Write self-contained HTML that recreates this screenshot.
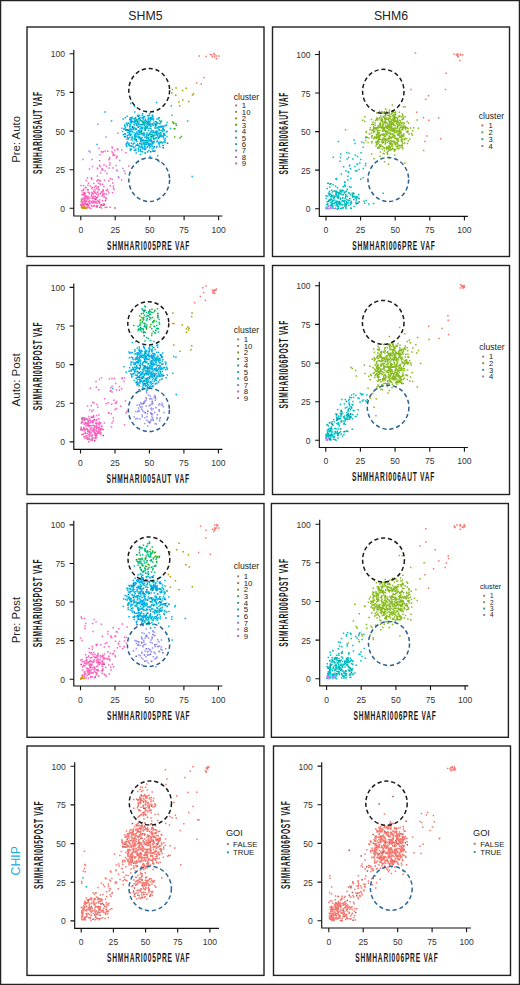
<!DOCTYPE html>
<html><head><meta charset="utf-8"><style>
html,body{margin:0;padding:0;background:#fff;}
body{width:520px;height:985px;overflow:hidden;}
svg{display:block;font-family:"Liberation Sans",sans-serif;}
.p{stroke-width:1.5;fill:none;}
</style></head><body>
<svg width="520" height="985" viewBox="0 0 520 985">
<rect x="0.6" y="0.6" width="518.8" height="983.8" fill="#fff" stroke="#222" stroke-width="1.3"/>
<g class="pts">
<rect x="27" y="27" width="237" height="229.5" fill="none" stroke="#222" stroke-width="1.4"/>
<g>
<path class="p" d="M84.2 198.9h1.5M80.1 204.8h1.5M82.8 203.8h1.5M85.1 187.6h1.5M83.4 207.8h1.5M91.6 198.3h1.5M85.8 204.4h1.5M83.7 194.6h1.5M96.3 207.1h1.5M104.7 200.5h1.5M103.8 204.7h1.5M95.1 199.2h1.5M86.6 204.1h1.5M114.1 207.9h1.5M83.4 200.9h1.5M99.1 207.3h1.5M80.8 199.9h1.5M96 205.7h1.5M102.2 205.2h1.5M98.1 201.7h1.5M84.1 193.2h1.5M102.6 190.5h1.5M87.1 189.8h1.5M90.7 201.9h1.5M94.3 199.1h1.5M99.7 193.4h1.5M95.7 197.8h1.5M100.6 204.8h1.5" stroke="#b74687"/>
<path class="p" d="M90.7 205.7h1.5M100.3 205.7h1.5M83.7 192.6h1.5M84.8 203.3h1.5M85.9 201.4h1.5M94.5 201.3h1.5M104.8 197.7h1.5M97.2 200.8h1.5M85.6 180.5h1.5M95.7 201.5h1.5M85.3 195.9h1.5M81.3 194.7h1.5M83.2 194.9h1.5M106 207.2h1.5M87.3 207.1h1.5M86.1 201.6h1.5M84.7 204.2h1.5M97.8 189.7h1.5M96 205.9h1.5M94 192.9h1.5M82.9 203.2h1.5M103.2 194.7h1.5M80.9 206.1h1.5M80.4 185.6h1.5M82.4 205.4h1.5M89.5 203.4h1.5M81.2 202.4h1.5M84 206.9h1.5M101.9 195.1h1.5M83.8 194.9h1.5M81.1 190.7h1.5M84.1 195.8h1.5M95.5 198.4h1.5M101.5 192.5h1.5M80.5 204.7h1.5M86.7 177.8h1.5M88.5 207.7h1.5M87.3 196.8h1.5M81.5 204.3h1.5M94.8 196.5h1.5M91.6 203h1.5M84.7 203.1h1.5M88.1 205.2h1.5M98.9 200h1.5M85.5 208.1h1.5M82.4 192.9h1.5M93.1 198.2h1.5M108.2 193h1.5M102.4 193.9h1.5M88.7 193.7h1.5M86.2 197.9h1.5M103.1 186.5h1.5M83.2 205.1h1.5M81.8 203.9h1.5M100.8 208h1.5M83.4 205.9h1.5M85.4 200.7h1.5M103.2 203.8h1.5M98.8 202h1.5M86.4 205.7h1.5M84.4 202h1.5M81.6 205.4h1.5M96.8 205.8h1.5M109.3 207.2h1.5M91.9 198.5h1.5M105.5 198.8h1.5M81 207.6h1.5M102.6 194.2h1.5M83.8 201.3h1.5M87.3 197.2h1.5M84.1 203.7h1.5M92.7 201.3h1.5M104.4 207.6h1.5M88.6 202.5h1.5M82.6 207.6h1.5M93.7 205.4h1.5M81.9 201.9h1.5M102 194.8h1.5M90 208.2h1.5M96.9 191.9h1.5M98.8 203.6h1.5M92.4 193.7h1.5M96.8 192.2h1.5M82.8 185.7h1.5M94.8 192.8h1.5M91.7 192.7h1.5M112.7 186.1h1.5M93.3 196.2h1.5M96.6 203.5h1.5M84 193h1.5M100.8 191.7h1.5M88.1 201.6h1.5M80.5 201.7h1.5M89 198.1h1.5M91.9 196.9h1.5M86.7 189.7h1.5M97.4 187.7h1.5M103.3 196.9h1.5M81.2 198.7h1.5M103 204.3h1.5M97.7 187.8h1.5M82.7 194.6h1.5M96.6 197.4h1.5M91.8 201.1h1.5M83.2 188.9h1.5M99.7 184.6h1.5M99.5 184h1.5M94.3 192h1.5M99.5 181h1.5M102 191h1.5M94.4 193.1h1.5M97.8 194.3h1.5M86.8 196.8h1.5M103.5 193.5h1.5M98.5 189.7h1.5M91 188.4h1.5M87.2 185.3h1.5M93 191.3h1.5M97.8 183.3h1.5M83 197.9h1.5M88.2 201.9h1.5M100.2 204.5h1.5M93.7 201.8h1.5M91.5 187.6h1.5M95.2 202.5h1.5M101.9 184.2h1.5M82.3 199.6h1.5M87.3 198.2h1.5M93.7 202.6h1.5M111.9 192.7h1.5M81.1 199h1.5M89.2 200.4h1.5M101.8 200.7h1.5M81.2 199.6h1.5M95.9 188.4h1.5M92.1 206.2h1.5M85.9 196.3h1.5M84.6 201.1h1.5M93.4 206.1h1.5M84.5 199h1.5M100.4 204.8h1.5M105.4 190.6h1.5M82 202.4h1.5M82.6 190.2h1.5M84.4 197.2h1.5M85.6 198.4h1.5M93.1 183.4h1.5M101.3 196.1h1.5M95.4 206.4h1.5M88.3 192.4h1.5M97.3 196h1.5M87.2 199.6h1.5M88.1 204.4h1.5M90.6 195.9h1.5M91.1 192.4h1.5M92.2 201h1.5M91.1 194.6h1.5M85 203.9h1.5M87.4 192.3h1.5M94.2 189.8h1.5M95.9 194.1h1.5M105.6 193.9h1.5M102 170.1h1.5M101.5 168.7h1.5M95.5 186.1h1.5M92.8 203h1.5M99.8 172.9h1.5M112.8 153.9h1.5M116.2 156.3h1.5M108.1 159.7h1.5M108 180.9h1.5M111.4 147.3h1.5M117.2 149.7h1.5M90.6 177.8h1.5M115.9 170h1.5M106.3 173.6h1.5M108.4 167.9h1.5M117.1 133.3h1.5M97.6 179.7h1.5M87.5 205.7h1.5M108.9 158.7h1.5M113.9 155.3h1.5M97.6 186.8h1.5M91.1 179.3h1.5M96.6 168.3h1.5M116.4 156.6h1.5M115.4 165.4h1.5M114 150.2h1.5M87 189.4h1.5M94.7 186.3h1.5M112.3 168.1h1.5M93.7 187.4h1.5M116.7 148.7h1.5M109.2 163.1h1.5M112.8 187.9h1.5M103.3 165h1.5M104.4 151h1.5M89.6 185.9h1.5M111.2 151.7h1.5M96.9 179.9h1.5M101.4 152.3h1.5M96.2 180.9h1.5M107.1 151.2h1.5M98.9 160.8h1.5M109.1 165.1h1.5M87.8 183.2h1.5M109.6 178.7h1.5M120.8 179.9h1.5M112.1 153h1.5M111.4 179.5h1.5M106.7 189.3h1.5M103.8 180.3h1.5M102.3 189.9h1.5M112 182.9h1.5M121 150.1h1.5M105.6 166.3h1.5M113.3 189.4h1.5M100.7 151.8h1.5M112.3 155.6h1.5M98.8 165.3h1.5M125.2 152.7h1.5M96.8 168.7h1.5M108.8 157.6h1.5M99 180.6h1.5M123.5 171.1h1.5M111.6 148h1.5M107.2 190.9h1.5M109.6 185.7h1.5M99.3 166.5h1.5M128.1 166h1.5M118 177.8h1.5M115.5 158h1.5" stroke="#FF62BC"/>
<path class="p" d="M84.1 208.2h1.5M83.8 207.7h1.5M84.1 208.3h1.5M81.2 206.8h1.5M85.7 208h1.5M83.8 207h1.5M82.8 208.2h1.5M82.6 207.8h1.5M84.8 208.2h1.5M80.8 207.2h1.5M86.4 207.7h1.5M81.8 208.3h1.5" stroke="#D89000"/>
<path class="p" d="M121 128.2h1.5M82.2 159.4h1.5M89.3 152h1.5M124.5 173.6h1.5M88.3 151.1h1.5M105.3 137.1h1.5M101.2 169.8h1.5M97.1 124.3h1.5M116.3 171.1h1.5M119 160.6h1.5M117.7 176.7h1.5M122.1 168.6h1.5M133.7 122.1h1.5M134 128.1h1.5M145 142.7h1.5M126.2 139.2h1.5M138.9 126.4h1.5M142.4 123.2h1.5M138.9 132.2h1.5M142.2 134.8h1.5M151.5 132h1.5M147.5 142.5h1.5M137.5 135h1.5M130.5 139.8h1.5M148.6 133.7h1.5M145.3 148.1h1.5M132.3 128.6h1.5" stroke="#9590FF"/>
<path class="p" d="M102.6 151.8h1.5M104.4 171h1.5M91.7 166.4h1.5M88.7 169h1.5M91.4 159.4h1.5M99.2 154.7h1.5M96.6 176.1h1.5M98.3 148.2h1.5" stroke="#E76BF3"/>
<path class="p" d="M134.7 129.1h1.5M160 136h1.5M151.6 123.9h1.5M158.3 117.8h1.5M149.4 134.3h1.5M154.8 124.1h1.5M165.2 125.6h1.5M137.7 137.3h1.5M130.3 149.3h1.5M128 123.3h1.5M137.5 116.3h1.5M130 121.7h1.5M139.1 143.2h1.5M131.6 126.7h1.5M127.4 138.9h1.5M144.1 124.9h1.5M134.4 121.1h1.5M150 128.4h1.5M134.2 139.8h1.5M145.5 111.5h1.5M150.6 119h1.5M149.6 117.9h1.5M133.4 118.7h1.5M163.1 133.4h1.5M135.6 119.7h1.5M138.2 137.7h1.5M155.1 125.4h1.5M145.9 121.6h1.5M152.4 135.9h1.5M139.5 132.8h1.5M146.1 127.5h1.5M147.6 135.3h1.5M145.9 138.4h1.5M156.7 123.1h1.5M152.7 151.3h1.5" stroke="#00898d"/>
<path class="p" d="M142.6 134.9h1.5M149.6 146.4h1.5M149.6 128.4h1.5M149.9 138.4h1.5M162.4 136.3h1.5M128.9 133.1h1.5M143 122.6h1.5M144.5 129.2h1.5M138.6 130.8h1.5M162.7 136h1.5M139.7 151.6h1.5M159.5 132.8h1.5M156.9 134.3h1.5M136.8 144.1h1.5M140.8 133.9h1.5M139.8 141.5h1.5M124 126.2h1.5M146.4 138h1.5M131.2 138.2h1.5M124.7 136.6h1.5M145.7 134.6h1.5M162.8 137.7h1.5M149.6 120.3h1.5M159 143h1.5M139.6 120.2h1.5M159.5 142.1h1.5M148.5 123.1h1.5M128.9 127h1.5M139.2 126.2h1.5M139.7 143.8h1.5M130.2 134.6h1.5M142.2 127.8h1.5M154.2 135.3h1.5M149.2 134.4h1.5M150.2 124.7h1.5M153 122.5h1.5M153.1 142.6h1.5M136.2 133.6h1.5M149.3 134.7h1.5M144 146.3h1.5M131.5 131.9h1.5M139.3 117.7h1.5M130.6 122.3h1.5M143.3 135.4h1.5M156.2 127.9h1.5M136.2 119.9h1.5M131.2 117.2h1.5M150.1 139.3h1.5M139.2 117.6h1.5M155.7 124.3h1.5M152.6 125.6h1.5M143.7 149.6h1.5M156.2 134.1h1.5M145.2 137.1h1.5M155.8 147.4h1.5M141.4 128.2h1.5M158.4 136.9h1.5M149.6 143.8h1.5M134.9 150.3h1.5M152.2 143.7h1.5M131.1 121.7h1.5M130.7 122.9h1.5M139.6 154.6h1.5M158.7 136.4h1.5M153.3 141.6h1.5M143.3 141.9h1.5M136.8 116h1.5M150.2 126.3h1.5M135.8 140h1.5M130.9 134.8h1.5M134.6 134.8h1.5M131.7 137.5h1.5M149.1 134h1.5M151.9 141.8h1.5M154 138.5h1.5M159.4 126.6h1.5M137.8 149.4h1.5M157.3 127h1.5M153.3 133.1h1.5M134.7 117.5h1.5M152.4 137.1h1.5M128 144.6h1.5M136.5 133.5h1.5M129.7 150.5h1.5M148 137.2h1.5M146.2 135.9h1.5M143.3 144h1.5M156.3 132.4h1.5M142.9 133.3h1.5M135.4 140.7h1.5M143.2 144.2h1.5M129.4 135.6h1.5M134.6 133.8h1.5M129.4 117.9h1.5M133.3 138.6h1.5M158.8 120.7h1.5M137.9 148.3h1.5M141.5 115.2h1.5M153.1 131.8h1.5M137.3 115.3h1.5M131.8 140.2h1.5M138.3 138h1.5M155.9 122.5h1.5M158.6 145.1h1.5M139.8 138.2h1.5M126.5 135.4h1.5M132.2 127.2h1.5M128.9 129.1h1.5M146.8 115.6h1.5M153.5 139.1h1.5M154.6 127h1.5M132.4 129.5h1.5M144.2 146.7h1.5M157.7 119h1.5M145.2 142.5h1.5M145.2 144.2h1.5M159.2 134.6h1.5M132.8 128.7h1.5M133.3 122.1h1.5M144.4 144.7h1.5M123.9 128.4h1.5M151.9 116.3h1.5M147.7 143.8h1.5M133.5 143.1h1.5M140.3 147.2h1.5M138.4 145.9h1.5M144 116.4h1.5M149.4 139.4h1.5M147.6 117.9h1.5M152 136.8h1.5M123.3 129h1.5M133.7 135.9h1.5M152.1 134.9h1.5M160.8 121.1h1.5M125.1 130h1.5M140.6 130.3h1.5M160.8 135.1h1.5M152.7 119.6h1.5M143.8 124.2h1.5M155.5 132.1h1.5M122.6 134.8h1.5M163.1 135.3h1.5M148.6 121.7h1.5M157.7 138.6h1.5M136.5 122.7h1.5M133.8 125.1h1.5M130.5 131.3h1.5M161.1 125.9h1.5M141.2 144.6h1.5M144.2 128.2h1.5M134.6 121.5h1.5M134.8 118.4h1.5M145.9 141.9h1.5M135.2 149.1h1.5M141 146.2h1.5M126.6 130.1h1.5M140.9 124.6h1.5M137.1 125.4h1.5M160.4 133h1.5M129.3 126.8h1.5M152.7 138.4h1.5M147.4 134.2h1.5M156.8 155.7h1.5M124.1 125.2h1.5M148.5 145h1.5M135.9 123.7h1.5M160.5 135.3h1.5M135.7 129.2h1.5M150.4 131.6h1.5M165.5 131.9h1.5M133 143.6h1.5M144.5 153h1.5M140.9 130.4h1.5M132.2 129.9h1.5M130.4 129.3h1.5M147.1 138.1h1.5M149.1 147.8h1.5M141.3 151.4h1.5M137.9 124.1h1.5M137.6 136.7h1.5M135.7 136.9h1.5M145.7 126.9h1.5M133.7 122.4h1.5M138.2 119.7h1.5M157.8 128.9h1.5M133.5 128.2h1.5M146.6 122.9h1.5M154.9 132.9h1.5M143.7 134.3h1.5M156 132.5h1.5M140.8 130.4h1.5M146.5 146.9h1.5M144.3 126.8h1.5M127.2 130h1.5M135.3 121.2h1.5M138.8 131.9h1.5M147.6 115.9h1.5M148.1 118.4h1.5M149.8 123.8h1.5M148.3 150.6h1.5M155.3 138h1.5M163.4 139.7h1.5M144 123.4h1.5M129 133.9h1.5M151.9 141.4h1.5M169.8 128.4h1.5M121.8 131.4h1.5M135.1 136.1h1.5M150.3 136.5h1.5M166.2 136.5h1.5M166.5 131.4h1.5M164.3 135.2h1.5M139.9 140h1.5M159.3 123.8h1.5M186.9 121.1h1.5M153.4 132.7h1.5M155.9 131.3h1.5M175.2 123.8h1.5M134 136.4h1.5M173.4 128.7h1.5M144.8 121.9h1.5M142 133.2h1.5M140.7 146.2h1.5M164.4 140.4h1.5M138.8 136.8h1.5M162 131.6h1.5M149.2 144h1.5M147.4 142.5h1.5M154.5 128.2h1.5M148.6 115.3h1.5M158.4 126.4h1.5M151.5 132.5h1.5M166.3 122.5h1.5M125.6 122.9h1.5M158.2 123.6h1.5" stroke="#00BFC4"/>
<path class="p" d="M128.1 130.5h1.5M137.1 121.5h1.5M144.4 130.3h1.5M136.1 125h1.5M154.1 151.1h1.5M147.5 122.3h1.5M140.9 139.9h1.5M129.1 119.8h1.5M159.9 122.1h1.5M162.5 147.7h1.5M140.5 138.5h1.5M140.7 131.6h1.5M155.2 124.7h1.5M149.9 141h1.5M166.8 143.3h1.5M159.9 136.5h1.5M129 145.6h1.5M156.7 141h1.5M137.5 127.3h1.5M157.9 137.4h1.5M160.6 126.8h1.5M135.5 139.5h1.5M131.9 127.3h1.5M151.1 134.7h1.5M126.7 129.9h1.5M130.7 120.1h1.5M142.3 140.3h1.5M150 151.8h1.5M140.6 121h1.5M135.1 129.4h1.5M150.6 136.7h1.5M162.3 145.5h1.5M153.6 146.8h1.5M125.7 129.7h1.5M137.2 145.2h1.5M124.3 133.7h1.5M162.3 128.4h1.5M148.1 145.2h1.5M123.9 136.7h1.5" stroke="#007eb1"/>
<path class="p" d="M158 143.8h1.5M132.1 121.8h1.5M146.2 127.6h1.5M129.2 125h1.5M146.7 142.6h1.5M131.4 137.1h1.5M136.3 141.4h1.5M143.6 117h1.5M163.1 141.9h1.5M158.6 135.7h1.5M129 137.6h1.5M140.1 149.2h1.5M125.1 130.3h1.5M151.4 146.4h1.5M153 141.4h1.5M142 125h1.5M158 142.7h1.5M129.9 122.3h1.5M156.1 141.7h1.5M142 113.8h1.5M149.1 139.8h1.5M147.6 138.8h1.5M131.1 121.3h1.5M144.4 120h1.5M135.4 133.4h1.5M159.1 146.9h1.5M145.9 144.2h1.5M126 145.7h1.5M148.9 145.7h1.5M142.6 124.2h1.5M134.5 137.3h1.5M148.9 124.7h1.5M147.6 130.5h1.5M125.4 144.2h1.5M131.7 117.7h1.5M132.5 143.9h1.5M126.4 116.2h1.5M150 144.4h1.5M140.1 139.5h1.5M136.3 132.1h1.5M145.7 134.7h1.5M145.1 121h1.5M159.6 127h1.5M129.8 124.4h1.5M150.5 140.2h1.5M158 127.8h1.5M132.3 121.7h1.5M154.6 121.6h1.5M144.4 140.3h1.5M132.4 146.8h1.5M140.9 133.4h1.5M138.2 132.6h1.5M147.2 124.6h1.5M162 129.9h1.5M143.5 143.1h1.5M135.2 135.5h1.5M154.7 132.4h1.5M141.7 137.5h1.5M134.7 146.2h1.5M129.6 149.6h1.5M152.5 142.5h1.5M128.1 143.3h1.5M128.9 134h1.5M158.2 133.5h1.5M144.5 152.9h1.5M123.3 129.1h1.5M139.1 134.3h1.5M141.1 143.5h1.5M141.4 139.8h1.5M136 119.6h1.5M161.5 143h1.5M140.4 146.9h1.5M134.4 138.8h1.5M124.6 117.7h1.5M139.9 124.6h1.5M146.8 146.7h1.5M141.3 118.1h1.5M150.6 141.8h1.5M124.2 134.2h1.5M161.1 142.3h1.5M149.2 121.7h1.5M139.3 119.6h1.5M159.7 136.3h1.5M143.4 133.3h1.5M152.3 119.8h1.5M133.3 132.4h1.5M155.1 131.2h1.5M147.4 120.6h1.5M130.3 120.6h1.5M141.7 128.8h1.5M147 151.6h1.5M135.7 145.1h1.5M164.5 138.6h1.5M138 118.4h1.5M143.4 120.9h1.5M154 124h1.5M140.4 128.1h1.5M145.9 125.9h1.5M161 136.5h1.5M141.8 147.3h1.5M139.6 139.3h1.5M139.6 128.5h1.5M145.8 140.6h1.5M142.9 140.5h1.5M138.4 146.7h1.5M157.6 133.3h1.5M142 140.3h1.5M157.3 133.4h1.5M151.6 115.2h1.5M152.8 136.3h1.5M151.4 148.9h1.5M149.8 119h1.5M129.2 126h1.5M152.4 119h1.5M152 151h1.5M152.2 118.5h1.5M146.2 132.8h1.5M151.2 144.9h1.5M158.1 142.4h1.5M135.1 128.5h1.5M163.7 130.3h1.5M145.7 123.5h1.5M152.5 125.1h1.5M163.6 126.1h1.5M138.5 118.1h1.5M151.5 143.3h1.5M149 118.5h1.5M124.9 127.8h1.5M138.7 115.4h1.5M130.3 129.2h1.5M133.6 150.2h1.5M137.7 130.8h1.5M133.3 147.8h1.5M144.8 119.3h1.5M129.8 118.1h1.5M157.4 137.6h1.5M127.4 138.1h1.5M142.3 122h1.5M152.6 119h1.5M138.8 130.2h1.5M144.2 148.7h1.5M137.6 150.9h1.5M146.7 152.1h1.5M126.7 141.9h1.5M155.3 137.7h1.5M127.8 135h1.5M152.2 116.4h1.5M142.5 119h1.5M129.3 130.5h1.5M147.6 144.3h1.5M144 137.3h1.5M139.6 150.5h1.5M134.9 129.6h1.5M158.8 129.8h1.5M144.7 149.5h1.5M142.8 122.9h1.5M152.4 111.7h1.5M130.6 143.3h1.5M142.5 116.7h1.5M141 146.2h1.5M126.2 124.4h1.5M140.3 139.6h1.5M162.3 126.6h1.5M127 123.7h1.5M142.5 117.8h1.5M149 113.8h1.5M130.2 146.3h1.5M156.2 146.6h1.5M147.5 119h1.5M139.8 132.2h1.5M131.1 145.7h1.5M149.4 156.5h1.5M156.2 119.1h1.5M129.9 131.5h1.5M122.4 118.9h1.5M126.5 143.1h1.5M141.2 126.9h1.5M133.3 124.5h1.5M138.9 134.2h1.5M125.7 146.4h1.5M162.2 127.9h1.5M155.7 134.4h1.5M126.6 125.8h1.5M152.6 130.9h1.5M137.2 134.6h1.5M148.8 125.5h1.5M127.9 132.4h1.5M146 128.4h1.5M126.9 132.6h1.5M138.2 122.3h1.5M128.7 131.6h1.5M163.1 134.5h1.5M130.8 118.6h1.5M130.8 118h1.5M134 119.9h1.5M128.4 145.5h1.5M156.5 135.8h1.5M146.6 137.5h1.5M148.3 128.3h1.5M163.7 134.1h1.5M155.7 121.7h1.5M146.4 126.7h1.5M165.8 125h1.5M143.6 147.9h1.5M139.1 143.7h1.5M150.5 117.3h1.5M152.2 142.9h1.5M148.5 140.8h1.5M141.8 151.7h1.5M126.6 137.3h1.5M134.2 134.7h1.5M141.4 141.4h1.5M123.9 125.4h1.5M138.6 124.1h1.5M144 144h1.5M151 130.4h1.5M134 112h1.5M158.2 130.5h1.5M148 124.1h1.5M134.8 123.2h1.5M153 148.1h1.5M142.1 148.7h1.5M136.1 125.5h1.5M164.5 142.3h1.5M135.5 152.9h1.5M156.3 131.5h1.5M140.6 138.2h1.5M154.8 127.1h1.5M129.9 103.4h1.5M149.4 132.4h1.5M171.3 115.2h1.5M143.2 123.5h1.5M125.6 143.5h1.5M104.3 111.9h1.5M110.8 121h1.5M129.9 149.2h1.5M141.3 128.1h1.5M155.8 102.5h1.5M151.2 117.6h1.5M134.1 120.5h1.5M147.6 140.5h1.5M143.1 133.6h1.5M148.2 125.8h1.5M135.7 145.2h1.5M158.2 161.4h1.5M133.7 106.2h1.5M96.3 144.4h1.5M157.1 160.6h1.5M191.4 176.6h1.5M170.6 106.1h1.5M161.2 136.4h1.5" stroke="#00B0F6"/>
<path class="p" d="M152.9 139h1.5M143.6 123.1h1.5M160.5 130.5h1.5M140.2 132.3h1.5M142 121.2h1.5M142.1 122.4h1.5M144.9 140.8h1.5M153.2 135.4h1.5M135.9 120.3h1.5M146.7 124.6h1.5M162.8 129.5h1.5M144.5 128.4h1.5M142.9 143h1.5M146.4 140.8h1.5M160.2 142.4h1.5" stroke="#00BF7D"/>
<path class="p" d="M173.9 137h1.5M174.1 128.8h1.5M180.6 136.6h1.5M173.1 123.1h1.5M172 122h1.5M179.3 137.9h1.5M172.9 123.4h1.5M175.6 125.3h1.5" stroke="#39B600"/>
<path class="p" d="M192.8 93.8h1.5M181.8 90.6h1.5M178.9 106.1h1.5M175 95.3h1.5M191.8 95.1h1.5M175.3 87.9h1.5M178.2 102.1h1.5M182 100h1.5M171 93.1h1.5M185.4 88.3h1.5M171.6 89.4h1.5M188 101.6h1.5" stroke="#A3A500"/>
<path class="p" d="M215.7 56h1.5M215.6 58.7h1.5M211.2 54.7h1.5M211.5 56.7h1.5M213.8 57h1.5M213.2 53.5h1.5M209.5 54.5h1.5M218.1 56.1h1.5M214 54.8h1.5M203.1 77.8h1.5M205.4 56.6h1.5M200.5 84.1h1.5M198.6 55.9h1.5M195.9 83h1.5" stroke="#F8766D"/>
</g>
<ellipse cx="149.2" cy="90.2" rx="20.4" ry="21.7" fill="none" stroke="#1a1a1a" stroke-width="1.5" stroke-dasharray="4.2 2.8"/>
<ellipse cx="149.2" cy="179.7" rx="20.4" ry="21.8" fill="none" stroke="#2b6190" stroke-width="1.5" stroke-dasharray="4.2 2.8"/>
<path d="M73.8 50V216H222.4" fill="none" stroke="#111" stroke-width="1.15"/>
<path d="M69.6 208.3H73.8M80.8 216V220.2M69.6 169.7H73.8M115.2 216V220.2M69.6 131.1H73.8M149.7 216V220.2M69.6 92.4H73.8M184.1 216V220.2M69.6 53.8H73.8M218.6 216V220.2" fill="none" stroke="#111" stroke-width="1.1"/>
<text x="65" y="211.8" font-size="8.6" text-anchor="end" fill="#333" font-weight="normal">0</text>
<text x="80.8" y="232.7" font-size="8.6" text-anchor="middle" fill="#333" font-weight="normal">0</text>
<text x="65" y="173.2" font-size="8.6" text-anchor="end" fill="#333" font-weight="normal">25</text>
<text x="115.2" y="232.7" font-size="8.6" text-anchor="middle" fill="#333" font-weight="normal">25</text>
<text x="65" y="134.6" font-size="8.6" text-anchor="end" fill="#333" font-weight="normal">50</text>
<text x="149.7" y="232.7" font-size="8.6" text-anchor="middle" fill="#333" font-weight="normal">50</text>
<text x="65" y="95.9" font-size="8.6" text-anchor="end" fill="#333" font-weight="normal">75</text>
<text x="184.1" y="232.7" font-size="8.6" text-anchor="middle" fill="#333" font-weight="normal">75</text>
<text x="65" y="57.3" font-size="8.6" text-anchor="end" fill="#333" font-weight="normal">100</text>
<text x="218.6" y="232.7" font-size="8.6" text-anchor="middle" fill="#333" font-weight="normal">100</text>
<text transform="translate(148.2 249.8) scale(0.56 1)" font-size="11.9" font-weight="bold" text-anchor="middle" fill="#1a1a1a" textLength="147.3" lengthAdjust="spacing">SHMHARI005PRE VAF</text>
<text transform="translate(42 133) rotate(-90) scale(0.56 1)" font-size="11.9" font-weight="bold" text-anchor="middle" fill="#1a1a1a" textLength="146.4" lengthAdjust="spacing">SHMHARI005AUT VAF</text>
<text x="233.8" y="99.7" font-size="8.6" text-anchor="start" fill="#222" font-weight="normal">cluster</text>
<rect x="235.2" y="104.5" width="1.9" height="1.9" fill="#b36c67"/>
<text x="241.8" y="108.2" font-size="7.8" text-anchor="start" fill="#222" font-weight="normal">1</text>
<rect x="235.2" y="110.9" width="1.9" height="1.9" fill="#a27a2b"/>
<text x="241.8" y="114.7" font-size="7.8" text-anchor="start" fill="#222" font-weight="normal">10</text>
<rect x="235.2" y="117.4" width="1.9" height="1.9" fill="#84862b"/>
<text x="241.8" y="121.1" font-size="7.8" text-anchor="start" fill="#222" font-weight="normal">2</text>
<rect x="235.2" y="123.8" width="1.9" height="1.9" fill="#4a8f2b"/>
<text x="241.8" y="127.6" font-size="7.8" text-anchor="start" fill="#222" font-weight="normal">3</text>
<rect x="235.2" y="130.3" width="1.9" height="1.9" fill="#2b9470"/>
<text x="241.8" y="134" font-size="7.8" text-anchor="start" fill="#222" font-weight="normal">4</text>
<rect x="235.2" y="136.7" width="1.9" height="1.9" fill="#2b9497"/>
<text x="241.8" y="140.5" font-size="7.8" text-anchor="start" fill="#222" font-weight="normal">5</text>
<rect x="235.2" y="143.2" width="1.9" height="1.9" fill="#2b8cb2"/>
<text x="241.8" y="146.9" font-size="7.8" text-anchor="start" fill="#222" font-weight="normal">6</text>
<rect x="235.2" y="149.6" width="1.9" height="1.9" fill="#7d7ab7"/>
<text x="241.8" y="153.4" font-size="7.8" text-anchor="start" fill="#222" font-weight="normal">7</text>
<rect x="235.2" y="156.1" width="1.9" height="1.9" fill="#aa66b0"/>
<text x="241.8" y="159.8" font-size="7.8" text-anchor="start" fill="#222" font-weight="normal">8</text>
<rect x="235.2" y="162.5" width="1.9" height="1.9" fill="#b76192"/>
<text x="241.8" y="166.3" font-size="7.8" text-anchor="start" fill="#222" font-weight="normal">9</text>
<rect x="272.5" y="27" width="237" height="229.5" fill="none" stroke="#222" stroke-width="1.4"/>
<g>
<path class="p" d="M332.1 203.8h1.5M327 204h1.5M355.5 203.8h1.5M344.1 192.3h1.5M333.5 197.8h1.5M329.1 200.2h1.5M332.2 207.9h1.5M330.1 183.7h1.5M358.3 201.9h1.5M336.6 205.1h1.5M343.9 182.6h1.5M327.3 183.3h1.5M338.3 201.8h1.5M337.3 196.7h1.5M349 198.5h1.5M331.8 200.9h1.5M351.9 195h1.5M337.7 208.4h1.5M345.2 207.1h1.5M345 194.6h1.5M335.5 194.2h1.5M356.9 203.3h1.5M342.1 198h1.5M327.9 201.2h1.5M331 195.4h1.5M345.5 204.6h1.5M358.3 198.4h1.5M355.6 200.1h1.5M337.4 197.9h1.5M331.3 195.4h1.5" stroke="#00898d"/>
<path class="p" d="M334.9 208.3h1.5M327.4 206h1.5M325.4 198.6h1.5M345.9 202.4h1.5M363.9 203.2h1.5M382.4 193.3h1.5M337.7 207.1h1.5M368 204h1.5M332.4 184.7h1.5M344 184.9h1.5M325.3 195.8h1.5M363.3 201.2h1.5M326.8 196.2h1.5M330.9 204.3h1.5M345.1 196.1h1.5M339.3 193.2h1.5M347.7 202.7h1.5M343.6 202.1h1.5M351.8 196h1.5M331.1 206.6h1.5M329.9 202.3h1.5M326.7 208.4h1.5M365.3 200.4h1.5M331.2 202.8h1.5M333.2 195.9h1.5M342 204.6h1.5M330.3 205.4h1.5M339.5 190.5h1.5M335.6 179.6h1.5M333.7 203.8h1.5M344.1 204.8h1.5M344.1 206.1h1.5M331.1 199.4h1.5M327.8 193.2h1.5M345.9 199.5h1.5M329.8 204.9h1.5M338.6 194h1.5M330.4 198.4h1.5M326.5 201.8h1.5M337.7 195.4h1.5M336.8 187.8h1.5M330.3 194.5h1.5M351.4 193.3h1.5M331.2 204.2h1.5M331.6 205.7h1.5M337.3 193.1h1.5M329.1 184.3h1.5M325.9 204.4h1.5M325.4 208.3h1.5M336.3 202.3h1.5M357 196.9h1.5M338.3 204.6h1.5M344.6 203.4h1.5M335.2 193.7h1.5M328.9 187.1h1.5M341.6 194.8h1.5M333.2 200.6h1.5M340.3 194h1.5M332.9 198h1.5M372.9 203.4h1.5M325.3 208.5h1.5M345.2 191.5h1.5M330.4 199.8h1.5M360 179.3h1.5M335.9 192.8h1.5M339.8 198.8h1.5M337.4 202.7h1.5M355.8 196.8h1.5M335.2 191h1.5M344.3 198.3h1.5M334.9 186.3h1.5M337.9 203.3h1.5M335.3 205.7h1.5M338.5 201.5h1.5M333.7 195.9h1.5M329.8 196.5h1.5M332.2 206.1h1.5M350.5 208.4h1.5M341.5 204.9h1.5M329.2 193.4h1.5M348.8 200.6h1.5M340.9 208.6h1.5M336 204.2h1.5M350.5 201.5h1.5M340.1 203.9h1.5M337.1 206.2h1.5M345.2 208.4h1.5M348.6 193h1.5M328.7 191.4h1.5M326.5 188.5h1.5M337.4 206.7h1.5M342.6 207.7h1.5M336.6 201.4h1.5M333.7 203h1.5M328.1 206.3h1.5M353.3 206.5h1.5M333.1 191h1.5M353 199.4h1.5M350 208.1h1.5M339.6 202.4h1.5M355.2 202.2h1.5M340.7 208.3h1.5M341.2 201h1.5M346.6 203.3h1.5M351.9 197.2h1.5M357.9 194.5h1.5M352.6 192.9h1.5M346.7 196.3h1.5M339.2 204.8h1.5M350.2 202.8h1.5M342.7 190.8h1.5M339.3 203.1h1.5M329.4 199.5h1.5M353.3 193.8h1.5M347.7 192.9h1.5M335.3 201h1.5M330.9 190.3h1.5M339.5 197.9h1.5M331.5 196.7h1.5M337.4 196.7h1.5M328.6 195.2h1.5M342.5 194.8h1.5M331.8 200.9h1.5M349.9 194.9h1.5M337.1 192.8h1.5M338.5 193.6h1.5M336.6 195.9h1.5M336.8 197.7h1.5M355.6 198.2h1.5M345.8 201.4h1.5M332.8 195.9h1.5M347.5 200.3h1.5M342.6 201.2h1.5M344.1 204.3h1.5M340.3 191.4h1.5M353.2 199.4h1.5M354.1 196.4h1.5M334.6 191.2h1.5M345.1 196.9h1.5M338.5 192.8h1.5M333.3 200h1.5M335.3 192.8h1.5M344.1 200.5h1.5M341.9 208h1.5M339.6 199.4h1.5M328.3 194.2h1.5M336.6 209.3h1.5M340.9 191.9h1.5M339.4 191.6h1.5M354.5 197.7h1.5M331.3 196h1.5M338 196.1h1.5M346.6 189.3h1.5M325.6 207.2h1.5M350.3 187.3h1.5M347.9 205.3h1.5M328.1 200.2h1.5M349.8 204.2h1.5M353.3 196.6h1.5M339.8 208.5h1.5M345.2 205.7h1.5M342.2 200.7h1.5M348.8 193.5h1.5M339.2 190.2h1.5M343.4 193.1h1.5M350.8 203.1h1.5M341.3 190h1.5M331.6 191.9h1.5M341.2 191.5h1.5M334.8 202.5h1.5M356.7 156.4h1.5M354.6 154.9h1.5M364.6 165.4h1.5M360 159.4h1.5M345.9 190.9h1.5M354.8 170.8h1.5M362.5 168.4h1.5M349.6 168.7h1.5M335 196.2h1.5M366.5 137.6h1.5M336.2 191.6h1.5M344.1 182h1.5M347.1 180.1h1.5M350.1 178.5h1.5M335.9 178.4h1.5M365.1 163.6h1.5M364.9 137.8h1.5M354.3 166.5h1.5M335.3 202.7h1.5M347.5 172.6h1.5M342.4 186.8h1.5M343 186.4h1.5M342.9 166.7h1.5M349 165.2h1.5M347.1 176.3h1.5M332.4 196h1.5M335.6 194.5h1.5M346.4 158.9h1.5M356.2 170.9h1.5M344.7 186.1h1.5M347.8 171.8h1.5M335.1 178.8h1.5M348.7 186.7h1.5M356.3 164h1.5M356.8 164.4h1.5M348.7 165.7h1.5M339.2 161.3h1.5M352.1 159.1h1.5M359 163h1.5M337.7 194.9h1.5M332.6 157.2h1.5M340.6 173.9h1.5M347.9 157.6h1.5M346.1 152.5h1.5M362.4 177.8h1.5M339.7 157.4h1.5M345.2 171h1.5M348.2 153.3h1.5M361.1 142h1.5M358.3 169.5h1.5M360.3 152.7h1.5M337.7 141.5h1.5M340 154h1.5M354.3 143.6h1.5M353.4 140.1h1.5" stroke="#00BFC4"/>
<path class="p" d="M325.9 207.8h1.5M327.4 208.7h1.5M329.9 207.3h1.5M327.5 206.8h1.5M329.7 208.1h1.5M330.4 208.2h1.5M333.7 208.7h1.5M329.2 208.7h1.5" stroke="#C77CFF"/>
<path class="p" d="M385.6 127.3h1.5M396.7 120.2h1.5M386.8 128.5h1.5M389.9 123.9h1.5M374 131.5h1.5M383.7 118.1h1.5M385.3 126.3h1.5M378.8 124.5h1.5M381.5 139.7h1.5M387.9 133.6h1.5M400.3 137.4h1.5M402.1 136.6h1.5M389.3 132.8h1.5M382.2 139h1.5M385.5 122.2h1.5M374.2 125.2h1.5M399.4 147.5h1.5M403.8 126.5h1.5M392.7 115.7h1.5M383.4 153.7h1.5M388.3 121.1h1.5M397.4 122.1h1.5M377.4 132.7h1.5M377.4 142.9h1.5M399.2 137.4h1.5M407.3 128.5h1.5M403.7 126.9h1.5M399.8 122.6h1.5M390 130.4h1.5M384.5 122.7h1.5M389.1 122.2h1.5M380.3 146.1h1.5M379.1 144.8h1.5M393.7 115.9h1.5M400.5 140.9h1.5M391 120.1h1.5M387.2 124.4h1.5M401.2 134.9h1.5M384.9 109.1h1.5M394.8 112.2h1.5M393.5 150.9h1.5M394.4 144.8h1.5M378.1 135.2h1.5M382.3 123.1h1.5M388 120.5h1.5M394.4 113.5h1.5M379.7 135.4h1.5M387.6 141.2h1.5M384.4 122h1.5M389 138.6h1.5M390.4 125.7h1.5M392.8 118.7h1.5M402.7 124.8h1.5M382.7 142.3h1.5M402.9 134.7h1.5M392.6 115.8h1.5M388.4 138.5h1.5M376.6 143.4h1.5M401.3 141.8h1.5M377.7 140.3h1.5M398.8 131.8h1.5M385.2 134.1h1.5M379.1 130.5h1.5M383 117.1h1.5M397.2 141.2h1.5M388.8 110.1h1.5M390.3 143.2h1.5M391.2 113.3h1.5M393 123.9h1.5M382.4 130.7h1.5M398.7 131.7h1.5M404.7 129.2h1.5M372.9 132.3h1.5M391.7 134.3h1.5M372.9 126.6h1.5M394.3 138.2h1.5M381.2 117.9h1.5M375.8 136.2h1.5M385.6 132.6h1.5M377.5 125.9h1.5M383.8 148.2h1.5M378.7 148.1h1.5M392.9 124.4h1.5M377.4 139.8h1.5M396.8 134.4h1.5M388.6 115.5h1.5M397.7 130.5h1.5M399.7 131.1h1.5M377 148h1.5M379.1 117.8h1.5M393.6 117.8h1.5M384.5 144.1h1.5M394.1 112.5h1.5M398.8 123.7h1.5M376.9 132h1.5M394.1 132.3h1.5M396.8 146.2h1.5M392.7 141.3h1.5M378.3 142h1.5M389.5 147.1h1.5M377 120.1h1.5M391.7 131h1.5M390.5 128.4h1.5M374.7 120.4h1.5M396.7 120.8h1.5M371.9 130.3h1.5M402.2 128.4h1.5M388.2 129.5h1.5M365.3 136.8h1.5M377.1 127.5h1.5M388.8 129.5h1.5M365.5 131.6h1.5M384.1 119h1.5M387.1 119.6h1.5M399.7 133.6h1.5M388.5 126h1.5M385.8 111.3h1.5M396.7 118.8h1.5M398.9 128.2h1.5M380 145h1.5M398.7 115.7h1.5M384.4 131.4h1.5M379.4 156.2h1.5M397.9 145.9h1.5M392.1 136.3h1.5M391.9 110.7h1.5M381.5 134.4h1.5M372.5 131.2h1.5M390.3 122.8h1.5M391.9 115.4h1.5M381.9 131.2h1.5M393.4 118.7h1.5M378.6 139.2h1.5M394.3 128h1.5M390.2 126.9h1.5M408.2 134.1h1.5M396.7 127.8h1.5M391.7 112.9h1.5M395.8 122.3h1.5M401.7 129.8h1.5M399.4 120.7h1.5M391.8 144.2h1.5M383.7 121.9h1.5M388.3 137.2h1.5M392.6 148.9h1.5M389.6 137.2h1.5M391.9 128.5h1.5M371.6 135.6h1.5M384.7 125.2h1.5M389.1 121.7h1.5M388.6 130.1h1.5M392.6 130.8h1.5M401.1 125.7h1.5M386 147h1.5M373 127.7h1.5M385.9 139.4h1.5M376 113h1.5M379.6 139.4h1.5M377.6 133.7h1.5M385.6 148.3h1.5M395.6 128.3h1.5M385.3 117.7h1.5M394.2 150.2h1.5M402.4 127.1h1.5M393.9 119.1h1.5M383.9 136.1h1.5M391 126.8h1.5M400.8 136.3h1.5M393.6 135.2h1.5M385.2 133.7h1.5M375.5 137.3h1.5M383.5 148.6h1.5M382.1 124.2h1.5M388.6 111.9h1.5M377 148.3h1.5M383.3 127.4h1.5M392.5 112.1h1.5M402.1 143.3h1.5M388 139h1.5M392.5 111.7h1.5M376.9 130.4h1.5M400.5 135.6h1.5M386.3 134.9h1.5M389.4 148h1.5M374.7 127.8h1.5M376.6 118.7h1.5M400.6 127.6h1.5M368.3 137.9h1.5M400.7 137.2h1.5M372.2 122.1h1.5M394.6 149.5h1.5M398.9 145.3h1.5M376.1 118.1h1.5M388.7 117.1h1.5M370.7 119.5h1.5M381.8 131.1h1.5M386.2 139.5h1.5M393.9 154.9h1.5M411.5 135.1h1.5M381.8 142.9h1.5M390.3 114.3h1.5M392.8 130.6h1.5M397.2 140.4h1.5M401.1 141.3h1.5M375.3 142h1.5M393.3 122.1h1.5M398.2 135.2h1.5M392.8 125.2h1.5M396.1 124h1.5M401.5 145.2h1.5M383.3 138.9h1.5M375.4 142.5h1.5M398.4 123.1h1.5M391.7 131h1.5M383.5 129.1h1.5M376.6 120.1h1.5M391.1 141.6h1.5M402 148.8h1.5M394.3 121.4h1.5M398.6 128.5h1.5M396.1 130.9h1.5M384.4 139.7h1.5M399.9 131.7h1.5M384.9 139.3h1.5M377.8 140.2h1.5M393.2 118.3h1.5M401.6 139h1.5M395.5 128.2h1.5M398.1 135.1h1.5M393.6 130.3h1.5M389.8 143.1h1.5M398.6 112.3h1.5M380.1 115.9h1.5M397.9 117h1.5M397 124.6h1.5M391.5 146.8h1.5M390.2 137.2h1.5M397.3 135.3h1.5M392.9 119.5h1.5M387 115.2h1.5M401.5 145.1h1.5M376.9 137.3h1.5M379.3 124.9h1.5M378.5 118.5h1.5M393.3 114.7h1.5M405.7 131.6h1.5M381 141.9h1.5M394.9 143h1.5M380.3 119.5h1.5M407.6 140.9h1.5M403 136.1h1.5M397 143.9h1.5M389.4 133.6h1.5M394.1 142.1h1.5M370.8 124.4h1.5M398.1 131.3h1.5M402 139h1.5M379.5 125.7h1.5M383.1 147.6h1.5M378.7 147.1h1.5M382.9 113.1h1.5M401.3 139h1.5M399.8 131.7h1.5M397.5 135h1.5M384 123h1.5M386.4 123.5h1.5M377.7 127.9h1.5M398.8 136.1h1.5M392.1 136.7h1.5M383.7 115.8h1.5M381.3 111.8h1.5M387.2 138.9h1.5M394.7 125.7h1.5M385.7 128.1h1.5M393.4 137h1.5M378.1 133.8h1.5M382.4 128.9h1.5M406.7 143.4h1.5M382.6 116.5h1.5M396.5 148.4h1.5M381.5 121.5h1.5M387.3 149.1h1.5M400.9 145.8h1.5M376.5 132.9h1.5M399.4 124.8h1.5M387.7 148.6h1.5M379.7 146.6h1.5M401.1 129.6h1.5M390.4 121.3h1.5M391.1 141h1.5M376.4 141.8h1.5M379.2 146h1.5M393.7 121.5h1.5M397.8 141h1.5M380 124h1.5M385 115.7h1.5M396.9 126.4h1.5M377.8 136.8h1.5M393.4 141.3h1.5M399.2 132.5h1.5M371 124.4h1.5M401.8 139.4h1.5M383.7 129.5h1.5M395.5 146.4h1.5M396.4 140.1h1.5M398.7 124h1.5M393.6 143h1.5M403.4 127.4h1.5M386 149h1.5M387.2 119h1.5M375.2 137.6h1.5M397.3 146h1.5M397.4 138.4h1.5M365.6 132.5h1.5M375.8 134.8h1.5M375.9 119.6h1.5M395.8 138.3h1.5M385.6 119.3h1.5M388.7 143.7h1.5M396.7 145.9h1.5M391.4 131.3h1.5M398.7 120.3h1.5M386 134.5h1.5M374.3 123h1.5M397.3 125.4h1.5M384.6 131.3h1.5M395.9 121.7h1.5M389 123.3h1.5M371.2 130.3h1.5M393 142.1h1.5M390.7 149.2h1.5M407.2 131h1.5M402.3 119.1h1.5M387.3 126.1h1.5M407.9 123h1.5M390 134.2h1.5M389.7 140.7h1.5M401.1 123.2h1.5M392.5 141.6h1.5M392.8 119.9h1.5M392.9 116.1h1.5M388.8 150.2h1.5M389.4 124h1.5M369.3 129.7h1.5M395.5 120.9h1.5M382.8 130.3h1.5M388.3 145.8h1.5M382.5 134.3h1.5M398.8 129.8h1.5M397.9 126h1.5M400.5 145.4h1.5M392 130h1.5M371.2 141.6h1.5M394.3 136.1h1.5M386.3 152.2h1.5M409.1 139.3h1.5M388.2 125.7h1.5M391.1 145.7h1.5M390.9 143.7h1.5M391.1 129.6h1.5M386.6 147.5h1.5M384.7 142.6h1.5M385.1 139.1h1.5M388.9 138.1h1.5M390.6 137.9h1.5M378.6 138h1.5M402.7 118.7h1.5M404.2 126.2h1.5M399.2 124.9h1.5M396.1 117.5h1.5M390.1 123.2h1.5M380.4 120.6h1.5M402.9 134h1.5M375.3 146.1h1.5M404 143h1.5M395.9 132.6h1.5M394 120.6h1.5M376.9 141.1h1.5M401.5 147.2h1.5M368.7 133.9h1.5M403.5 123.3h1.5M381.4 128.5h1.5M392.1 134.3h1.5M389.8 149.8h1.5M387 123.5h1.5M371 137.4h1.5M379.7 152.1h1.5M385.8 122.2h1.5M401.9 127.7h1.5M393.9 132.7h1.5M381.8 134.1h1.5M392.6 117.3h1.5M394.7 117.9h1.5M386.3 132.7h1.5M405.3 127.3h1.5M395.8 122.3h1.5M404.4 116.7h1.5M396.3 128.1h1.5M382.4 124.8h1.5M393.1 128.2h1.5M401.7 114h1.5M399.3 125h1.5M388.5 148.6h1.5M383.5 138.9h1.5M389.2 122.5h1.5M375.6 138.6h1.5M392.9 149h1.5M394.4 116.9h1.5M392 148.7h1.5M399 116.3h1.5M402.8 127.4h1.5M397.5 138.8h1.5M392 122.8h1.5M403.8 139.8h1.5M378.9 127.3h1.5M390.8 122h1.5M392.4 134.4h1.5M375.6 127.8h1.5M373.9 137h1.5M379.5 122.9h1.5M381.6 139.4h1.5M381.5 134.8h1.5M389 127.6h1.5M390.5 127.8h1.5M390.8 124.5h1.5M398.4 133.6h1.5M378.9 136.5h1.5M377.7 147.5h1.5M384.8 136.2h1.5M393.5 125.3h1.5M389.2 143.8h1.5M393.4 132.5h1.5M381.2 113.2h1.5M381.9 120.9h1.5M394.7 112h1.5M388.2 127.6h1.5M381.6 119.7h1.5M389.1 124.1h1.5M406.9 132.6h1.5M391.3 137.4h1.5M401.4 135.7h1.5M386.7 127.6h1.5M394.1 130.7h1.5M389.8 118.8h1.5M382.6 141.1h1.5M386.6 142.4h1.5M382.1 125.2h1.5M380.9 121.3h1.5M404.4 127.7h1.5M388.5 113.4h1.5M384.5 120.5h1.5M386.2 127.1h1.5M397.1 140.8h1.5M384.6 127.4h1.5M378.9 111.3h1.5M401.8 122.4h1.5M372.5 124.3h1.5M376.6 134.8h1.5M372.8 138.5h1.5M390 150.1h1.5M389.6 128.2h1.5M381.8 146.6h1.5M378 139.6h1.5M406.4 121.5h1.5M369.7 127.8h1.5M393.4 119.7h1.5M397.1 146.7h1.5M376.6 144.2h1.5M372.9 129.7h1.5M394.5 117.6h1.5M405.5 138.6h1.5M375.9 129.1h1.5M394.1 138.4h1.5M378.5 145.7h1.5M391.6 134h1.5M382.9 135.6h1.5M396 123.2h1.5M401.9 129.8h1.5M392.3 120.6h1.5M388.6 126.1h1.5M394.9 114.7h1.5M399.9 136.9h1.5M384.9 113.8h1.5M395.4 144h1.5M391.3 124.2h1.5M377.8 147.4h1.5M375.8 144.3h1.5M395.8 139.1h1.5M401.3 119.6h1.5M374.7 129.1h1.5M385.8 131h1.5M381.4 139.3h1.5M394.1 149.8h1.5M389.1 142.7h1.5M381.4 149h1.5M383.6 150.7h1.5M397.5 133.4h1.5M388.6 135.9h1.5M373.2 128.3h1.5M380.5 127.8h1.5M387.4 151.2h1.5M399.9 127.2h1.5M393.8 118.3h1.5M388 119.1h1.5M402 115.4h1.5M380.6 126.6h1.5M387.8 146.9h1.5M380.2 119.7h1.5M377.6 138h1.5M389.6 143.1h1.5M381.9 127.6h1.5M389.2 124.7h1.5M388.3 146.2h1.5M375.6 129.4h1.5M404.2 138.5h1.5M394.5 130h1.5M400.8 116.8h1.5M390 144.6h1.5M390.1 116.4h1.5M382.1 126.5h1.5M380.1 134.9h1.5M378.4 132.7h1.5M384.3 140.3h1.5M370.9 154.1h1.5M377.4 130.5h1.5M416.4 119.9h1.5M413 127.8h1.5M386.5 152.9h1.5M387.8 164.2h1.5M383.6 111.8h1.5M392.3 118.8h1.5M382.5 153.5h1.5M381.2 139.9h1.5M404.5 107h1.5M377.6 139.4h1.5M385.8 139.2h1.5M370.6 133.1h1.5M392.9 129h1.5M371.2 135.9h1.5M363.8 121.6h1.5M373.8 138.1h1.5M381.7 142.4h1.5M373.3 158.8h1.5M411.9 130.7h1.5M391.6 105.1h1.5M386.5 126.6h1.5M388.2 117.8h1.5M394.9 129.9h1.5M384.4 130.4h1.5M404.1 163.1h1.5M386.2 140h1.5M383.8 161.7h1.5M398.1 146h1.5M384.8 141.2h1.5M364.9 140.4h1.5M362.5 147.3h1.5M383.6 134.3h1.5M388.8 136.1h1.5M417.6 128.2h1.5M371.1 142.7h1.5M378.9 136.7h1.5M379.6 146.1h1.5M410.8 133.6h1.5M383.3 137.7h1.5M385 114.9h1.5M394.6 118.6h1.5M344.8 129.7h1.5M402.7 106.8h1.5M388.4 158h1.5M396.2 142.5h1.5M363.2 142.8h1.5M402.6 117.5h1.5M398 148.7h1.5M422.9 150.4h1.5M387 154.2h1.5M406.3 128h1.5M400.3 132.9h1.5M387.1 131.7h1.5M361.9 120.3h1.5M400.7 139.6h1.5M387.9 130h1.5M409.8 128.1h1.5M388.7 141.2h1.5M367.3 142.4h1.5M389.1 137.6h1.5M389.2 123.7h1.5M394.2 130.3h1.5M397.2 131.5h1.5M387.7 127.5h1.5M364.2 116.7h1.5" stroke="#86BA1E"/>
<path class="p" d="M453.3 54.3h1.5M456.9 54h1.5M457 56.2h1.5M459.8 55h1.5M457.2 55.1h1.5M459.6 54.3h1.5M457.5 56.9h1.5M455.8 55.1h1.5M461.8 54.8h1.5M456.6 53.9h1.5M414.7 53h1.5M459.2 60.4h1.5M445.4 73.2h1.5M444.7 89.5h1.5M410.1 89.5h1.5M427.8 95.8h1.5M425 99.2h1.5M415.9 112.2h1.5M422.7 117.7h1.5M428.1 120.3h1.5M438 117.7h1.5M426.1 136.1h1.5M424.2 141.5h1.5M440 138.8h1.5" stroke="#F8766D"/>
</g>
<ellipse cx="383.3" cy="91.3" rx="20.7" ry="22" fill="none" stroke="#1a1a1a" stroke-width="1.5" stroke-dasharray="4.2 2.8"/>
<ellipse cx="388.3" cy="179.5" rx="20.3" ry="22" fill="none" stroke="#2b6190" stroke-width="1.5" stroke-dasharray="4.2 2.8"/>
<path d="M319.3 50.8V216.3H467.9" fill="none" stroke="#111" stroke-width="1.15"/>
<path d="M315.1 208.7H319.3M326 216.3V220.5M315.1 170.1H319.3M360.6 216.3V220.5M315.1 131.6H319.3M395.2 216.3V220.5M315.1 93H319.3M429.8 216.3V220.5M315.1 54.5H319.3M464.4 216.3V220.5" fill="none" stroke="#111" stroke-width="1.1"/>
<text x="310.5" y="212.2" font-size="8.6" text-anchor="end" fill="#333" font-weight="normal">0</text>
<text x="326" y="233" font-size="8.6" text-anchor="middle" fill="#333" font-weight="normal">0</text>
<text x="310.5" y="173.6" font-size="8.6" text-anchor="end" fill="#333" font-weight="normal">25</text>
<text x="360.6" y="233" font-size="8.6" text-anchor="middle" fill="#333" font-weight="normal">25</text>
<text x="310.5" y="135.1" font-size="8.6" text-anchor="end" fill="#333" font-weight="normal">50</text>
<text x="395.2" y="233" font-size="8.6" text-anchor="middle" fill="#333" font-weight="normal">50</text>
<text x="310.5" y="96.5" font-size="8.6" text-anchor="end" fill="#333" font-weight="normal">75</text>
<text x="429.8" y="233" font-size="8.6" text-anchor="middle" fill="#333" font-weight="normal">75</text>
<text x="310.5" y="58" font-size="8.6" text-anchor="end" fill="#333" font-weight="normal">100</text>
<text x="464.4" y="233" font-size="8.6" text-anchor="middle" fill="#333" font-weight="normal">100</text>
<text transform="translate(393.6 250.1) scale(0.56 1)" font-size="11.9" font-weight="bold" text-anchor="middle" fill="#1a1a1a" textLength="147.3" lengthAdjust="spacing">SHMHARI006PRE VAF</text>
<text transform="translate(287.5 133.6) rotate(-90) scale(0.56 1)" font-size="11.9" font-weight="bold" text-anchor="middle" fill="#1a1a1a" textLength="146.4" lengthAdjust="spacing">SHMHARI006AUT VAF</text>
<text x="478.8" y="118.6" font-size="8.6" text-anchor="start" fill="#222" font-weight="normal">cluster</text>
<rect x="481.4" y="124.5" width="1.9" height="1.9" fill="#b36c67"/>
<text x="488.4" y="128.2" font-size="7.6" text-anchor="start" fill="#222" font-weight="normal">1</text>
<rect x="481.4" y="131.4" width="1.9" height="1.9" fill="#74913b"/>
<text x="488.4" y="135" font-size="7.6" text-anchor="start" fill="#222" font-weight="normal">2</text>
<rect x="481.4" y="138.2" width="1.9" height="1.9" fill="#2b9497"/>
<text x="488.4" y="141.8" font-size="7.6" text-anchor="start" fill="#222" font-weight="normal">3</text>
<rect x="481.4" y="145" width="1.9" height="1.9" fill="#986fb7"/>
<text x="488.4" y="148.6" font-size="7.6" text-anchor="start" fill="#222" font-weight="normal">4</text>
<rect x="27" y="265.5" width="237" height="229" fill="none" stroke="#222" stroke-width="1.4"/>
<g>
<path class="p" d="M94.1 425.9h1.5M93.5 419.4h1.5M90.6 417.5h1.5M81.2 419.3h1.5M85 422.7h1.5M92.7 429.4h1.5M100.2 429.2h1.5M95 435.3h1.5M87.9 430.9h1.5M93.9 440.8h1.5M88.5 438.9h1.5M102.2 429.5h1.5M82.8 429.3h1.5M91.3 436.1h1.5M80.1 429.4h1.5M87 423.3h1.5M86.7 425h1.5M89 425.8h1.5M102.5 435.6h1.5M91.9 421.8h1.5M82.2 418.4h1.5M85.4 419.1h1.5M91.4 439.1h1.5M84.5 433.1h1.5M85.8 429h1.5" stroke="#b74687"/>
<path class="p" d="M94.2 427.7h1.5M87.3 420.4h1.5M86.5 438.9h1.5M91.7 417.3h1.5M97.3 428h1.5M100.8 426.6h1.5M89.2 432.9h1.5M90.3 427.8h1.5M88.6 439.5h1.5M96.9 428.2h1.5M89.9 433h1.5M91.1 411.4h1.5M99.8 434.6h1.5M88.4 432.5h1.5M96 431.3h1.5M81 421.7h1.5M92.2 425.2h1.5M84.4 423h1.5M98.5 431.9h1.5M88.2 420.9h1.5M89.6 420.6h1.5M86.3 424h1.5M88 423.1h1.5M85.7 423.6h1.5M98.7 426.7h1.5M90.5 421.8h1.5M97.9 431.1h1.5M81.8 434.5h1.5M95.7 428.7h1.5M99.5 430.8h1.5M80.6 428.7h1.5M95.7 438h1.5M98.2 424.8h1.5M83.2 436.7h1.5M95.8 424.1h1.5M97.8 433.2h1.5M93.3 420.4h1.5M83.6 418.1h1.5M83.5 428.7h1.5M91.2 437.9h1.5M91.4 417.2h1.5M88.2 431.7h1.5M85.3 426.1h1.5M82.3 420.3h1.5M92 420.7h1.5M87 419.2h1.5M81.2 417.7h1.5M98.7 429.6h1.5M87 431.5h1.5M80.4 427.3h1.5M83 434.1h1.5M95.3 420.2h1.5M94.7 438.5h1.5M92.2 422.8h1.5M89 436.2h1.5M92.7 415.5h1.5M98 428.7h1.5M87.4 421.8h1.5M95.7 428h1.5M81.7 422.2h1.5M84.2 438.3h1.5M88.1 423.7h1.5M87.5 437.5h1.5M84.4 429.4h1.5M99.9 428.8h1.5M90.4 432.4h1.5M90.4 425.7h1.5M87.7 434.7h1.5M83.4 424.1h1.5M99.5 422.8h1.5M86.9 429.2h1.5M93.1 437.9h1.5M93.5 427.1h1.5M92.4 430.6h1.5M89.3 432.1h1.5M87.4 424.8h1.5M85.8 435.5h1.5M88.9 418.8h1.5M81.1 434.4h1.5M88.2 416.5h1.5M90.1 440h1.5M95.2 430.5h1.5M87.6 424.3h1.5M83.1 417.7h1.5M95.5 422.8h1.5M88 441.8h1.5M94.3 433h1.5M84.1 420.6h1.5M87 431h1.5M99.8 423.7h1.5M95.8 434.3h1.5M87.2 430.8h1.5M89.4 429h1.5M81.7 430.2h1.5M96.2 433.6h1.5M92.8 432.1h1.5M91.2 438h1.5M93 417.3h1.5M89.3 435.2h1.5M99 430.8h1.5M97.3 428.1h1.5M87 439.6h1.5M94.6 432.7h1.5M86.4 437.3h1.5M84.4 419.7h1.5M93.9 434h1.5M92.3 428.3h1.5M100.4 433h1.5M97.5 433h1.5M92.7 416.4h1.5M95.8 415.4h1.5M91.4 416.8h1.5M91.2 430.8h1.5M96 420.2h1.5M95.9 426.6h1.5M93.3 429.8h1.5M86.5 433.6h1.5M98.5 433.1h1.5M81.6 422.4h1.5M84.9 436.2h1.5M94.8 437.1h1.5M96.1 434.8h1.5M84.6 429.3h1.5M96 436h1.5M80.6 423.3h1.5M96.9 432.3h1.5M94.1 434.4h1.5M97.9 432.1h1.5M84.4 429.9h1.5M81.6 422.3h1.5M98.2 422.9h1.5M95 423.4h1.5M96.3 427.5h1.5M81 430.1h1.5M83.1 428.6h1.5M96 434.2h1.5M86.2 438.2h1.5M98 427.4h1.5M84 430.9h1.5M91.6 440.3h1.5M93.5 431.1h1.5M98.6 422h1.5M83.6 419.6h1.5M82.6 429.3h1.5M82.6 434.3h1.5M89.6 388.2h1.5M92.4 410.1h1.5M112.5 421.1h1.5M110.1 387.8h1.5M118.7 390.1h1.5M105.4 403.8h1.5M90.1 428.9h1.5M123.7 424.8h1.5M114.3 409.4h1.5M109.5 391.3h1.5M95.6 387.3h1.5M115.8 401.6h1.5M107.8 413.2h1.5M125.3 413h1.5M93.1 402.9h1.5M123.2 381.4h1.5M108 412.7h1.5M115.5 402.9h1.5M118.8 386.8h1.5M113.5 378.6h1.5M111.1 378.5h1.5M111.3 422.9h1.5M110.2 390.6h1.5M101.2 425.9h1.5M98 389.8h1.5M91.7 435.1h1.5M121.3 378.7h1.5M120.9 388.7h1.5M114.7 403.3h1.5M111.3 391.9h1.5M97 423.7h1.5M113.1 400.3h1.5M126.2 411.4h1.5M100.8 428.6h1.5M83.2 427.5h1.5M108.6 379.1h1.5M87.5 426.3h1.5M112.6 418h1.5M89.1 410.1h1.5M115.8 389.9h1.5M124.7 400.9h1.5M89 431h1.5M110.9 404.3h1.5M93.5 426h1.5M98 418.8h1.5M98.2 415.1h1.5M115.7 408.6h1.5M119.9 406.2h1.5M95.3 381.5h1.5M111.3 386.2h1.5M110.5 413.7h1.5M93.6 429.9h1.5M84 424.2h1.5M96.2 404.6h1.5M100.1 433.1h1.5" stroke="#FF62BC"/>
<path class="p" d="M88.9 434.6h1.5M84.3 418.3h1.5M110.7 426.7h1.5M121.5 377.8h1.5M90.5 405.7h1.5M123.8 378.1h1.5M115 383.4h1.5M86.8 405.9h1.5M103.6 423h1.5M107.4 402.7h1.5M95.7 425.7h1.5M92.4 417h1.5M98.8 379.5h1.5M97 407.3h1.5M89.8 422.8h1.5M92.1 402.3h1.5M95.8 419.4h1.5M100.7 377.7h1.5M89.9 433.1h1.5M103.9 398.7h1.5" stroke="#E76BF3"/>
<path class="p" d="M173 345h1.5M181.5 325h1.5M172.1 323.6h1.5M185.7 329.1h1.5M173.2 323.6h1.5" stroke="#D89000"/>
<path class="p" d="M179.2 351.3h1.5M190.2 349.8h1.5M185.7 332.2h1.5M186.9 327h1.5M187.9 330.1h1.5M172.1 312.9h1.5M188.1 328.2h1.5M190.9 316.5h1.5M191 345.8h1.5M191.3 313h1.5" stroke="#A3A500"/>
<path class="p" d="M142.9 310.8h1.5M144.3 310.3h1.5M157.1 317h1.5M143.7 323.6h1.5M153.4 326.5h1.5M155 330.6h1.5M143.4 335.8h1.5M147.7 316.1h1.5M153.4 320.6h1.5M142.8 332.7h1.5M139.8 327.5h1.5M142.1 329.2h1.5M143.6 326.5h1.5M144 325.9h1.5" stroke="#00895a"/>
<path class="p" d="M137.4 326.3h1.5M143.1 317.5h1.5M142.7 330.9h1.5M141.2 329h1.5M148.9 319.4h1.5M156.9 315.7h1.5M146 326.8h1.5M143.6 311.6h1.5M156.8 328.9h1.5M143.6 315.2h1.5M158.4 319.4h1.5M139.5 324.8h1.5M141.7 321.8h1.5M148.8 314.5h1.5M139.2 325.3h1.5M141.3 308.7h1.5M150.4 312.3h1.5M153.9 326.4h1.5M133 325.6h1.5M146.7 315.6h1.5M152.1 312.5h1.5M150.1 317.9h1.5M145.1 327.2h1.5M143.6 323.4h1.5M139 329h1.5M140.6 313.8h1.5M137.7 329h1.5M151.9 321.9h1.5M142 309.7h1.5M144.3 341h1.5M157.7 332h1.5M142.5 313.3h1.5M139.4 320.4h1.5M147.9 311.8h1.5M149.1 317.5h1.5M151.9 322.5h1.5M158.8 324.2h1.5M157.2 313.4h1.5M142.8 319.3h1.5M151.2 309.3h1.5M152.7 321.9h1.5M148.1 313.2h1.5M144 306.1h1.5M146.5 318.7h1.5M151 328.7h1.5M155.7 321.5h1.5M148.9 309.9h1.5M140.6 331.4h1.5M154 332.8h1.5M158.4 322.6h1.5M144.7 332.5h1.5M142.4 329.1h1.5M140.3 328.7h1.5M149.6 314.2h1.5M145.4 316.6h1.5M154.7 332.9h1.5M144.5 324.1h1.5M149.4 311.4h1.5M156 325.5h1.5M157.7 328.6h1.5M156.7 308.7h1.5M141.7 322.2h1.5M139.1 329.3h1.5M152.7 321.3h1.5M137.4 330.5h1.5M153.8 311.6h1.5M145.7 312.5h1.5M157.2 315.7h1.5M143.5 331.9h1.5M157.3 328.5h1.5M149.7 340.4h1.5M146.1 325.1h1.5M144.8 306.9h1.5M145.6 328.3h1.5M146 320.3h1.5M157 317.8h1.5M147.5 338.5h1.5M139.4 330.1h1.5M145.9 337.5h1.5M155.9 328.5h1.5M152.6 331.6h1.5" stroke="#00BF7D"/>
<path class="p" d="M156.9 313.7h1.5M139.9 322.9h1.5M145.9 329.1h1.5M149.4 327h1.5M142.8 320.1h1.5M141 317.6h1.5M154.2 310.2h1.5M139.6 322.9h1.5M151.8 317.6h1.5M138.9 316.1h1.5M150.1 324.6h1.5M142.5 318.4h1.5M151.2 333.4h1.5M153.6 320.7h1.5M140 320.1h1.5" stroke="#39B600"/>
<path class="p" d="M140.4 356h1.5M136.9 384.3h1.5M151.1 360.9h1.5M135 369.5h1.5M154.6 359.2h1.5M161.1 363.9h1.5M139 377.4h1.5M152.9 347.4h1.5M149 376.8h1.5M142.8 361.9h1.5M150.2 373.9h1.5M146.5 390.1h1.5M152.7 356.1h1.5M147.9 387.9h1.5M158 361h1.5M138.4 385.8h1.5M138.4 389.7h1.5M161.2 378.9h1.5M156.3 369.4h1.5M155.5 358.4h1.5M141.8 378.3h1.5M136.3 357.9h1.5M143.8 381.1h1.5M157.2 360.1h1.5M154.2 379.6h1.5M134.7 359.4h1.5M142.6 376.6h1.5M147 382.2h1.5M138.6 358.1h1.5M150.4 372.9h1.5M135.9 368.1h1.5M144.1 361.4h1.5M147.5 368h1.5" stroke="#00898d"/>
<path class="p" d="M161.5 371.4h1.5M150.5 350.1h1.5M149.9 381.6h1.5M134.9 371.4h1.5M142.6 388.1h1.5M142.4 355h1.5M141.7 386.9h1.5M157.7 372h1.5M148.8 378h1.5M136.1 366.5h1.5M140 371.8h1.5M143.6 375.5h1.5M144.6 352.3h1.5M146.3 366.7h1.5M151.5 346.4h1.5M144 358.9h1.5M156.2 357.2h1.5M160.9 368h1.5M160.2 355.3h1.5M146.5 374.6h1.5M142.7 357.4h1.5M128.3 370.9h1.5M144 374.8h1.5M143.5 355.6h1.5M144.5 357.3h1.5M130.5 371.1h1.5M146.4 370.3h1.5M148.8 386.2h1.5M136.1 382.8h1.5M143.8 351.4h1.5M148.9 346.8h1.5M144.7 371h1.5M142.7 371.3h1.5M164.7 369.8h1.5M136 367.7h1.5M137.3 373.1h1.5M159.4 360.3h1.5M143.7 367.6h1.5M145.5 350.7h1.5M153.1 360.6h1.5M132.7 368.2h1.5M158.1 368.1h1.5M138.8 369.5h1.5M150.8 361.4h1.5M135.1 353.7h1.5M151.3 374.4h1.5M157.3 356h1.5M143.5 366h1.5M138.3 359.9h1.5M138.7 375.7h1.5M159.1 380h1.5M147.3 372.1h1.5M154.7 370.8h1.5M134.2 353.9h1.5M161.1 357.2h1.5M147.9 353.3h1.5M147.8 379.6h1.5M156.1 377.4h1.5M148.7 370.3h1.5M133.5 380.6h1.5M152.8 374h1.5M142.3 365.4h1.5M145.9 362.4h1.5M131.1 374.8h1.5M136.1 367.6h1.5M143.4 369.1h1.5M151.4 349.1h1.5M151.5 368.6h1.5M134 363.6h1.5M150.1 365.5h1.5M164.9 364.6h1.5M139.3 359.6h1.5M156.5 370.7h1.5M136 365.6h1.5M155.9 358.3h1.5M150.1 362.3h1.5M134 367.2h1.5M134.5 364.5h1.5M156.8 376.2h1.5M143.2 347.4h1.5M142.4 384.3h1.5M159.4 362.7h1.5M155.9 360.1h1.5M165.3 363.1h1.5M158.2 359.9h1.5M144 366.8h1.5M128.9 367.7h1.5M158.9 374.7h1.5M146.8 381.8h1.5M146.5 388.4h1.5M130.5 362h1.5M141.7 357.3h1.5M146 381.2h1.5M134.2 351.3h1.5M145.9 373.7h1.5M141.1 380.7h1.5M160 375.9h1.5M142.6 367.9h1.5M150.4 356.8h1.5M149.1 372.7h1.5M138.3 353.8h1.5M137 383.5h1.5M140.6 350.4h1.5M152.3 372.1h1.5M137.6 361.9h1.5M149.1 376.9h1.5M144.6 362.5h1.5M141.5 373.8h1.5M166.4 368.9h1.5M138.7 365.3h1.5M145.8 390.9h1.5M161.6 368.9h1.5M146.2 351.8h1.5M146.2 380.1h1.5M138.8 351.4h1.5M135.9 361.8h1.5M144.3 353.1h1.5M148.7 359.1h1.5M156.4 358.4h1.5M136.5 348.1h1.5M150.6 366.7h1.5M145.9 382.5h1.5M137.5 361.5h1.5M163.4 367.7h1.5M134.6 363.1h1.5M144.8 379h1.5M152.3 365h1.5M136.5 354.7h1.5M141.5 355.6h1.5M155.1 378.8h1.5M143.6 373.7h1.5M144.1 360.3h1.5M143.3 374.2h1.5M139.1 360.9h1.5M159.5 371.8h1.5M153.6 375.2h1.5M140.9 381.3h1.5M146.1 357.9h1.5M146.1 361.4h1.5M159.2 369.9h1.5M141.8 369.7h1.5M137.1 377.3h1.5M146.7 387.2h1.5M151.8 361.8h1.5M160.8 357h1.5M143.8 354.2h1.5M152.2 358.9h1.5M144.8 380.9h1.5M151.4 356.4h1.5M146.3 369.8h1.5M144.9 383.7h1.5M151.1 351.8h1.5M144.3 365.9h1.5M151.6 374h1.5M146.2 378.6h1.5M149.5 361.2h1.5M131.1 376.2h1.5M147.4 364.1h1.5M155.3 364.6h1.5M152.4 386.1h1.5M155.6 368.9h1.5M151.9 376h1.5M140.2 374.7h1.5M129 371.2h1.5M132.1 374.1h1.5M166 367.2h1.5M157.9 361h1.5M154.7 361h1.5M152.7 378.6h1.5M139.7 355.9h1.5M138.8 356.9h1.5M139.2 383h1.5M140.5 373.8h1.5M150.9 377.1h1.5M145.7 373.1h1.5M132.3 359.5h1.5M158.7 376.4h1.5M136.7 359.1h1.5M155.9 369.7h1.5M155.6 378.4h1.5M157.6 358.3h1.5M157 345h1.5M144.5 370.5h1.5M159.8 373.2h1.5M155.9 357.5h1.5M136.5 375.1h1.5M156.4 376.1h1.5" stroke="#00BFC4"/>
<path class="p" d="M144.7 353.5h1.5M131.9 358.1h1.5M140.8 351.7h1.5M137.3 353.1h1.5M153.7 376.5h1.5M157.8 382h1.5M143.6 383.4h1.5M145.7 378.8h1.5M145.2 368.1h1.5M143.9 358.9h1.5M135.4 382.5h1.5M160.1 355h1.5M144.6 384.3h1.5M137.7 377.1h1.5M155.4 362.5h1.5M151.4 357.7h1.5M139.3 381.8h1.5M135.5 362.6h1.5M146.7 371.7h1.5M156.5 365.8h1.5M161.7 376h1.5M150.6 363.7h1.5M138.5 372.4h1.5M139.3 390.9h1.5M144.2 366.5h1.5M152.9 356.6h1.5M154.1 375.3h1.5M148.6 351.7h1.5M146.9 368.3h1.5M139.7 365.9h1.5M145.4 356.7h1.5M162.9 375.6h1.5M160.8 356.5h1.5M153.8 368.7h1.5M152.3 353.5h1.5M147.6 373.9h1.5M136.5 371.4h1.5M140.5 378.1h1.5M151.2 358.1h1.5M138.6 368.3h1.5M135.6 378.6h1.5M141.6 364h1.5" stroke="#007eb1"/>
<path class="p" d="M150.8 376.3h1.5M149 355.6h1.5M147.5 377.4h1.5M151.6 363.1h1.5M156 370.9h1.5M157.7 369.4h1.5M145 358.3h1.5M158.5 374.6h1.5M164 367.6h1.5M157.5 373.8h1.5M152 383.4h1.5M134.7 375.1h1.5M138.1 350.3h1.5M148.1 348.3h1.5M154.5 374h1.5M154.4 355h1.5M151.8 377h1.5M157.3 376h1.5M156.1 352.3h1.5M154.8 368.7h1.5M159.4 375.9h1.5M136.3 367.4h1.5M153.1 364h1.5M143.1 347.2h1.5M153.1 341.5h1.5M153.2 365h1.5M150.3 368.8h1.5M136.4 361.9h1.5M142.1 372.7h1.5M146.9 355.3h1.5M141.3 373.9h1.5M152.2 374.3h1.5M151.2 387h1.5M140.1 374.8h1.5M148.7 365.9h1.5M155.5 367.8h1.5M141.9 355.6h1.5M151.1 349.7h1.5M136.4 362.3h1.5M152.7 364.6h1.5M139.5 379.7h1.5M151 355h1.5M150.1 375.2h1.5M151.5 369.5h1.5M151.3 371.6h1.5M161.4 357.2h1.5M137.4 361.7h1.5M159.5 354.5h1.5M140.3 355.4h1.5M134.9 362.8h1.5M162.3 364h1.5M146.2 359.2h1.5M138.8 348.9h1.5M138.4 385.3h1.5M146.6 378.2h1.5M149.2 382.7h1.5M154 360.8h1.5M139.5 352.8h1.5M150.7 361.8h1.5M158.9 367h1.5M139 356.7h1.5M136.4 356.8h1.5M139 379.9h1.5M156.4 369.5h1.5M144.2 358.3h1.5M135.7 378h1.5M136.1 367.6h1.5M147.5 363.5h1.5M144.4 385.9h1.5M135.5 359.3h1.5M162.2 359.4h1.5M130.1 373.8h1.5M150.7 355.6h1.5M165.4 377.7h1.5M162 353.1h1.5M158.4 365.3h1.5M138.4 373.3h1.5M147.7 356.4h1.5M147.4 371.7h1.5M135.3 357.8h1.5M146.5 372.6h1.5M132.3 362.3h1.5M145.5 372.3h1.5M142.5 385.6h1.5M145.5 385.8h1.5M157 347.3h1.5M138.9 375.8h1.5M147.7 359.5h1.5M151.8 366.8h1.5M150.6 384.3h1.5M152.1 377.2h1.5M147.6 354.7h1.5M151.3 364.8h1.5M140.6 374h1.5M154.8 380.5h1.5M152 385.9h1.5M143.9 348.8h1.5M133.5 370.7h1.5M159.1 359h1.5M137.4 368.2h1.5M143.4 358.5h1.5M144.9 373.7h1.5M149.5 388h1.5M150.4 382.6h1.5M134.6 359.3h1.5M153.4 373.6h1.5M148.2 374.9h1.5M137.2 363.5h1.5M141.6 376.6h1.5M160.9 357.8h1.5M140.1 353.7h1.5M128.7 357.8h1.5M128.2 352.1h1.5M152.9 364.5h1.5M131.6 352.4h1.5M153.2 353.9h1.5M137.2 360h1.5M155.4 362.3h1.5M155.5 373.6h1.5M154.3 364.3h1.5M150.9 360.4h1.5M143.1 377.7h1.5M160.2 369.4h1.5M131 369.8h1.5M142.9 369.3h1.5M136.8 353.6h1.5M146.1 367.3h1.5M146.7 383.2h1.5M142.5 383.6h1.5M143.7 367.9h1.5M130.7 357.2h1.5M162.8 367.8h1.5M146.1 353.9h1.5M155.1 383.6h1.5M132.7 373.8h1.5M144.2 361.1h1.5M141.9 382h1.5M137.2 376.8h1.5M150.8 364.2h1.5M149.1 371.3h1.5M141.1 351.1h1.5M152.8 358.9h1.5M155.7 380.6h1.5M148.3 367.5h1.5M149.2 356.7h1.5M130.4 363.1h1.5M147.5 384.9h1.5M145.4 358.4h1.5M142.2 362.8h1.5M151.4 350.7h1.5M144.5 384.7h1.5M143.7 355.7h1.5M137.5 372.6h1.5M139.6 362.9h1.5M146.9 384.2h1.5M156 345.4h1.5M160 365.9h1.5M131 376.9h1.5M133.1 364.6h1.5M158.5 358.4h1.5M150.8 368h1.5M138.1 354h1.5M156.9 365.5h1.5M133.6 363.5h1.5M154 353.7h1.5M130.3 353h1.5M149 367.2h1.5M148.1 381h1.5M156.5 376.3h1.5M154.5 384.1h1.5M133.3 370h1.5M153.3 356.9h1.5M166.6 369h1.5M149 367.3h1.5M149 378.2h1.5M148.7 368.8h1.5M130.5 370h1.5M133.6 373h1.5M149.5 363.8h1.5M151.7 375.1h1.5M139.9 360.8h1.5M131.8 367.5h1.5M138.1 357.8h1.5M151.9 356h1.5M155.5 359.8h1.5M145 350.4h1.5M139.6 367.8h1.5M136.4 381.6h1.5M137.5 383.1h1.5M154.3 369.4h1.5M160.9 368.6h1.5M140.6 357.2h1.5M136.4 352.8h1.5M142.8 381.2h1.5M137.2 379.5h1.5M155.1 378.1h1.5M139.3 355.7h1.5M132.9 369.4h1.5M148.7 348.4h1.5M149.8 368.4h1.5M138.5 347.1h1.5M164.5 362.1h1.5M160.8 374.2h1.5M130.2 365h1.5M136.1 384.9h1.5M152.8 363.3h1.5M141.7 372.3h1.5M140.2 380.3h1.5M157.9 352.6h1.5M148.4 351h1.5M134.1 349.7h1.5M139.7 364.1h1.5M151.7 380h1.5M146.7 386.5h1.5M158.6 368h1.5M145.7 358.9h1.5M134.6 367.6h1.5M137.9 362.1h1.5M146.1 373.9h1.5M148.7 349.7h1.5M129 353.1h1.5M155.7 370.8h1.5M136.4 357.4h1.5M149.4 373.1h1.5M153.4 381.6h1.5M140.8 373.3h1.5M132.9 368.8h1.5M154 358.1h1.5M139.2 350.8h1.5M136.1 375.6h1.5M147.2 370h1.5M134.3 371.4h1.5M147.8 355.9h1.5M149.9 385.9h1.5M138 379.4h1.5M145 355.8h1.5M137.7 361.7h1.5M145.6 383.3h1.5M143.4 380.2h1.5M137.3 362h1.5M158.6 362.7h1.5M161.6 361.3h1.5M131.6 342.5h1.5M166.5 375.1h1.5M175.2 357.3h1.5M150.9 335.5h1.5M112 388.5h1.5M159.5 368h1.5M135 341.6h1.5M156.2 383.5h1.5M139.3 351.6h1.5M175.5 394.5h1.5M152.8 370h1.5M123.2 366.8h1.5M125.4 372.3h1.5M173 356.5h1.5M160.7 355.2h1.5M154.4 349.5h1.5M131.9 369.6h1.5M161.8 375.1h1.5M142.7 346h1.5M171.9 373.3h1.5M137.1 355.3h1.5" stroke="#00B0F6"/>
<path class="p" d="M150.9 414.4h1.5M144.6 412.7h1.5M148.6 422.8h1.5M147.1 411.3h1.5M143.1 403.3h1.5M152.5 419.9h1.5M145.4 398.1h1.5M158.4 410.1h1.5M142.3 403.7h1.5M149.6 421.8h1.5M154.6 396.8h1.5M150.1 413.2h1.5M151.5 401.5h1.5M151.9 403.6h1.5" stroke="#6b67b7"/>
<path class="p" d="M145.9 392.8h1.5M144.3 400.7h1.5M156.2 417.8h1.5M155.4 407.8h1.5M149.2 422.6h1.5M154 412.6h1.5M138.6 404.4h1.5M136.4 405.2h1.5M141.9 410.8h1.5M161.3 403h1.5M145.6 400.1h1.5M149.9 412.9h1.5M144.2 417.8h1.5M141.4 416.7h1.5M137.9 408h1.5M158 404.9h1.5M158.9 403.7h1.5M152.4 408.7h1.5M160.7 405.1h1.5M153.9 395.4h1.5M139.1 418.9h1.5M140.1 407.4h1.5M145.4 405.9h1.5M151 404h1.5M158.5 411.2h1.5M150.3 419.8h1.5M149 399h1.5M141 409.2h1.5M144.2 401.9h1.5M155.1 407.4h1.5M147.6 394.9h1.5M141.4 406.8h1.5M149.2 421.7h1.5M146.7 413.7h1.5M156.2 418.7h1.5M151.2 417.1h1.5M146.3 416.7h1.5M147 425.9h1.5M149.4 396.1h1.5M150.9 420.1h1.5M151.1 399.1h1.5M150 398.6h1.5M146 420.2h1.5M154.6 400.3h1.5M159 418.8h1.5M151.7 403.4h1.5M154.9 398.6h1.5M150.2 408.3h1.5M141.5 414.9h1.5M149.5 405h1.5M139.1 405.8h1.5M156.7 414.8h1.5M140.9 404h1.5M137.9 410.3h1.5M136.9 411.7h1.5M146.8 390.2h1.5M159.7 417.8h1.5M140 402.8h1.5M143.9 423.4h1.5M155.6 424h1.5M153.4 397.6h1.5M150.9 410.1h1.5M158.8 420.7h1.5M136.9 418.6h1.5M154.5 423.7h1.5M151.8 414.6h1.5M150.5 408.2h1.5M151.9 418.1h1.5M138.4 411h1.5M136.4 418.5h1.5M151.6 414.1h1.5M143.4 412.1h1.5M143 402.1h1.5M135 419.1h1.5M135 411.4h1.5M147.6 421.6h1.5M133.5 416.9h1.5M162.5 406.8h1.5M148.4 405.7h1.5M161.9 404.9h1.5M163.2 412.6h1.5" stroke="#9590FF"/>
<path class="p" d="M213.4 291.3h1.5M214.1 293.6h1.5M213.3 293.3h1.5M212.8 290.7h1.5M211.7 290.1h1.5M213.9 290h1.5M215.6 288.9h1.5M215 290.2h1.5M213.3 290.5h1.5M211.8 292.4h1.5M204.7 300.2h1.5M193.8 302.6h1.5M202 287.8h1.5M199.6 296.6h1.5M202.9 292.4h1.5M205.3 286.1h1.5" stroke="#F8766D"/>
</g>
<ellipse cx="148.3" cy="323.3" rx="20.5" ry="21.6" fill="none" stroke="#1a1a1a" stroke-width="1.5" stroke-dasharray="4.2 2.8"/>
<ellipse cx="148.9" cy="409.9" rx="20.5" ry="21.6" fill="none" stroke="#2b6190" stroke-width="1.5" stroke-dasharray="4.2 2.8"/>
<path d="M73.8 283.5V449.3H222.4" fill="none" stroke="#111" stroke-width="1.15"/>
<path d="M69.6 441.9H73.8M80.5 449.3V453.5M69.6 403.3H73.8M115 449.3V453.5M69.6 364.6H73.8M149.4 449.3V453.5M69.6 326H73.8M183.9 449.3V453.5M69.6 287.4H73.8M218.4 449.3V453.5" fill="none" stroke="#111" stroke-width="1.1"/>
<text x="65" y="445.4" font-size="8.6" text-anchor="end" fill="#333" font-weight="normal">0</text>
<text x="80.5" y="466" font-size="8.6" text-anchor="middle" fill="#333" font-weight="normal">0</text>
<text x="65" y="406.8" font-size="8.6" text-anchor="end" fill="#333" font-weight="normal">25</text>
<text x="115" y="466" font-size="8.6" text-anchor="middle" fill="#333" font-weight="normal">25</text>
<text x="65" y="368.1" font-size="8.6" text-anchor="end" fill="#333" font-weight="normal">50</text>
<text x="149.4" y="466" font-size="8.6" text-anchor="middle" fill="#333" font-weight="normal">50</text>
<text x="65" y="329.5" font-size="8.6" text-anchor="end" fill="#333" font-weight="normal">75</text>
<text x="183.9" y="466" font-size="8.6" text-anchor="middle" fill="#333" font-weight="normal">75</text>
<text x="65" y="290.9" font-size="8.6" text-anchor="end" fill="#333" font-weight="normal">100</text>
<text x="218.4" y="466" font-size="8.6" text-anchor="middle" fill="#333" font-weight="normal">100</text>
<text transform="translate(147.8 483.1) scale(0.56 1)" font-size="11.9" font-weight="bold" text-anchor="middle" fill="#1a1a1a" textLength="147.3" lengthAdjust="spacing">SHMHARI005AUT VAF</text>
<text transform="translate(42 366.4) rotate(-90) scale(0.56 1)" font-size="11.9" font-weight="bold" text-anchor="middle" fill="#1a1a1a" textLength="156.6" lengthAdjust="spacing">SHMHARI005POST VAF</text>
<text x="233.8" y="332.5" font-size="8.6" text-anchor="start" fill="#222" font-weight="normal">cluster</text>
<rect x="237.2" y="338.4" width="1.9" height="1.9" fill="#b36c67"/>
<text x="243.7" y="342.2" font-size="7.8" text-anchor="start" fill="#222" font-weight="normal">1</text>
<rect x="237.2" y="345" width="1.9" height="1.9" fill="#a27a2b"/>
<text x="243.7" y="348.7" font-size="7.8" text-anchor="start" fill="#222" font-weight="normal">10</text>
<rect x="237.2" y="351.5" width="1.9" height="1.9" fill="#84862b"/>
<text x="243.7" y="355.2" font-size="7.8" text-anchor="start" fill="#222" font-weight="normal">2</text>
<rect x="237.2" y="358" width="1.9" height="1.9" fill="#4a8f2b"/>
<text x="243.7" y="361.8" font-size="7.8" text-anchor="start" fill="#222" font-weight="normal">3</text>
<rect x="237.2" y="364.5" width="1.9" height="1.9" fill="#2b9470"/>
<text x="243.7" y="368.3" font-size="7.8" text-anchor="start" fill="#222" font-weight="normal">4</text>
<rect x="237.2" y="371.1" width="1.9" height="1.9" fill="#2b9497"/>
<text x="243.7" y="374.8" font-size="7.8" text-anchor="start" fill="#222" font-weight="normal">5</text>
<rect x="237.2" y="377.6" width="1.9" height="1.9" fill="#2b8cb2"/>
<text x="243.7" y="381.3" font-size="7.8" text-anchor="start" fill="#222" font-weight="normal">6</text>
<rect x="237.2" y="384.1" width="1.9" height="1.9" fill="#7d7ab7"/>
<text x="243.7" y="387.8" font-size="7.8" text-anchor="start" fill="#222" font-weight="normal">7</text>
<rect x="237.2" y="390.6" width="1.9" height="1.9" fill="#aa66b0"/>
<text x="243.7" y="394.4" font-size="7.8" text-anchor="start" fill="#222" font-weight="normal">8</text>
<rect x="237.2" y="397.1" width="1.9" height="1.9" fill="#b76192"/>
<text x="243.7" y="400.9" font-size="7.8" text-anchor="start" fill="#222" font-weight="normal">9</text>
<rect x="272.5" y="265.5" width="237" height="229" fill="none" stroke="#222" stroke-width="1.4"/>
<g>
<path class="p" d="M326.4 434.9h1.5M332.2 425.3h1.5M337.1 434.1h1.5M330.6 426.9h1.5M330.6 434h1.5M332 432h1.5M339.9 431.7h1.5M330.2 440.1h1.5M329.9 437.8h1.5M326.7 440h1.5M326.5 431.1h1.5M325.8 435.6h1.5M326.6 436.2h1.5M343.2 434.5h1.5M338.8 432.6h1.5M336.6 433.5h1.5M327.6 433.6h1.5M329.1 422.6h1.5M332.6 439.3h1.5M336.5 431.3h1.5M333.6 437.3h1.5M325.2 438h1.5M333.7 439.6h1.5M326.2 425.1h1.5M334.5 439.4h1.5M331.7 434.4h1.5M326 433.9h1.5M329.5 439.3h1.5M334 428.6h1.5M328.8 439.5h1.5M330.3 436.1h1.5M330.1 428.2h1.5M330 430.4h1.5M331.2 429.7h1.5M343.2 431.7h1.5M331.8 436.2h1.5M328 434.8h1.5M326.8 432.7h1.5M325.2 434.7h1.5M326.5 435.8h1.5M335.4 440.3h1.5M333.1 437.2h1.5M325.8 438.4h1.5M337.1 438.1h1.5M336.9 432.6h1.5M327.3 429.4h1.5M333.3 436.2h1.5M330.2 429.7h1.5M330.5 432h1.5M325.3 436.6h1.5M344.6 424.5h1.5M334.3 433.3h1.5M330.7 436.1h1.5M327.7 426.1h1.5M333.7 434.1h1.5M329.3 438.2h1.5M340.5 434.1h1.5M328.6 435.9h1.5M337.1 432.9h1.5M328.5 430.4h1.5M348.1 419.1h1.5M351.5 429.2h1.5M344.6 399.5h1.5M344.4 421h1.5M335.7 415.9h1.5M347.6 413.5h1.5M341 414h1.5M348.7 404.3h1.5M326.8 424.5h1.5M338.4 426.1h1.5M328.2 431.5h1.5M327.6 436.9h1.5M336.5 418.5h1.5M348 400.7h1.5M337.5 429h1.5M348.3 403.1h1.5M340.2 421.6h1.5M336.8 435.3h1.5M347 431.5h1.5M350.1 414.4h1.5M348.8 405.4h1.5M330.9 428.6h1.5M352.5 410.6h1.5M338.2 424.1h1.5M348.8 408.3h1.5M339.4 413.6h1.5M329 439.6h1.5M349.5 416.6h1.5M333 419.4h1.5M340.7 420.5h1.5M335.4 432.9h1.5M336.2 414.6h1.5M337.9 418.7h1.5M347 416.1h1.5M330 431.6h1.5M350.4 406.7h1.5M346.5 419.7h1.5M346.1 418.8h1.5M343.7 403.9h1.5M328.2 430.6h1.5M329.2 430.9h1.5M348.1 408.7h1.5M327.4 436.3h1.5M339.8 404.3h1.5M352.1 405h1.5M340.2 411.4h1.5M345.8 414.9h1.5M346.1 407.2h1.5M337.5 435.6h1.5M330 431.5h1.5M348.5 403.9h1.5M330.6 428.4h1.5M334.5 431.4h1.5M336.1 420.1h1.5M350.8 394.9h1.5M339.5 418.6h1.5M347.5 409.7h1.5M351.4 404.5h1.5M348.7 417.3h1.5M348.5 399.3h1.5M343.5 423h1.5M337.7 422.4h1.5M333.6 421.8h1.5M341 411.8h1.5M349 397.1h1.5M342.9 423.9h1.5M347.4 416h1.5M344.6 408h1.5M341.2 413.6h1.5M347.4 411.3h1.5M341.8 435.9h1.5M346.1 412.7h1.5M343.1 416.9h1.5M337.4 424.3h1.5M338.1 433.8h1.5M328.7 422.9h1.5M336.8 419.6h1.5M342.8 421h1.5M350.5 397.8h1.5M328.9 438.4h1.5M346.2 418h1.5M352.7 397.6h1.5M337.8 417h1.5M343.9 418.4h1.5M342.8 416.8h1.5M331.2 421.7h1.5M330.8 423.5h1.5M335.3 428.7h1.5M348.7 405.7h1.5M328.6 428.8h1.5M338.1 416h1.5M330.4 434.9h1.5M336.9 409.4h1.5M347 416.7h1.5M350.5 417.1h1.5M343.5 417.8h1.5M336 423.4h1.5M341.2 399.5h1.5M333.6 433.8h1.5M343.7 415.9h1.5M346.4 416.8h1.5M331.1 429.4h1.5M365.9 401.9h1.5M361.2 393.9h1.5M353.2 410.7h1.5M355.3 416.4h1.5M366.5 399.8h1.5M351.7 418.8h1.5M348.4 415.2h1.5M358.4 398.6h1.5M359.3 402.1h1.5M359.6 393.5h1.5M346.2 415.4h1.5M366.1 394.9h1.5M357.3 397.9h1.5M356.7 414.4h1.5M354.6 416.6h1.5M341.6 413.3h1.5M340.2 416.8h1.5M360.7 394.8h1.5M352.2 401.5h1.5M357.4 409.7h1.5M362.2 394.4h1.5M352 414.6h1.5M364.9 401.1h1.5M349 419.3h1.5M349.8 409.8h1.5M361.5 401h1.5M353.1 394h1.5M355.1 395.5h1.5M340.7 422.1h1.5M362.7 399.9h1.5" stroke="#00BFC4"/>
<path class="p" d="M331.6 424.2h1.5M344.1 431.5h1.5M347.1 414.8h1.5M335.3 414.1h1.5M336.2 418h1.5M329.3 439.6h1.5M339.9 428.9h1.5M349.3 417.5h1.5M349.8 414h1.5M340.3 415.1h1.5M338.8 418.8h1.5M345.7 401.5h1.5M336.2 420.3h1.5M340.5 410.6h1.5M346.1 431.1h1.5M350.9 408h1.5M329.4 435.3h1.5M344.8 419.3h1.5" stroke="#00898d"/>
<path class="p" d="M325.8 440.3h1.5M325.2 438.5h1.5M327.5 438.3h1.5M325.7 440.1h1.5M325.6 440.3h1.5" stroke="#C77CFF"/>
<path class="p" d="M401.3 376.3h1.5M378.2 377.1h1.5M382.9 369.1h1.5M377.2 377.5h1.5M403.7 370.4h1.5M387 372.2h1.5M375.8 362.3h1.5M399.7 365.1h1.5M399.8 380.9h1.5M396.4 363.3h1.5M402.3 373h1.5M397.7 358h1.5M384.7 374.8h1.5M390.9 346.4h1.5M385.2 355.9h1.5M395.9 369.9h1.5M389.9 357.7h1.5M396 382.5h1.5M377.7 372.4h1.5M402 370.4h1.5M402.8 366.3h1.5M390.2 353.3h1.5M389.4 371.9h1.5M388.9 368.2h1.5M392.6 346.1h1.5M381.3 373.9h1.5M395.3 367.7h1.5M379.8 369h1.5M393 374.4h1.5M383.8 363.6h1.5M389.7 358.1h1.5M395.1 365.5h1.5M388.3 383.7h1.5M389.8 380.9h1.5M390.7 364.3h1.5M388.2 370.6h1.5M373.5 372.6h1.5M399.6 364.4h1.5M388.2 377.5h1.5M386 357.4h1.5M376.2 358h1.5M399.2 380.1h1.5M376.6 375.6h1.5M402.1 359.1h1.5M394.8 352.4h1.5M387 381.2h1.5M387.4 353.3h1.5M388 377.2h1.5M404.6 349.5h1.5M398.4 370.4h1.5M398.4 355.8h1.5M369.1 366.3h1.5M397.2 371.2h1.5M381.1 384.8h1.5M404.9 360.4h1.5M396.6 374h1.5M387.6 344.8h1.5M406.8 369.9h1.5M403.6 378.3h1.5M373.7 352.2h1.5M392.4 376.1h1.5M380.1 351.9h1.5M387 361.8h1.5M378.4 347.8h1.5M400.7 367.7h1.5M400.5 370h1.5M391.9 377h1.5M401.5 363h1.5M401.5 362.1h1.5M395.9 359.7h1.5M399.6 378.9h1.5M401.2 383.4h1.5M383.2 372.8h1.5M396 381.4h1.5M401.2 357.6h1.5M398.7 367.5h1.5M388.4 375.1h1.5M391.8 358.9h1.5M394.9 382.8h1.5M398.1 381h1.5M386 356.8h1.5M372.9 349h1.5M391.3 387.8h1.5M403.2 363.3h1.5M392.7 367.2h1.5M392.2 373.5h1.5M390 373.5h1.5M392.1 350.3h1.5M402.7 379.3h1.5M383.2 377.7h1.5M399.4 366h1.5M379.7 365.2h1.5M394.2 354.1h1.5M384.5 351.1h1.5M393.4 358.3h1.5M398.2 353.1h1.5M376.5 356.6h1.5M376.7 349.5h1.5M394.4 348.1h1.5M393.1 375h1.5M379.7 369.7h1.5M399.3 345.2h1.5M384.4 366.7h1.5M400.4 368.9h1.5M384.9 359.6h1.5M371.4 359.3h1.5M399.2 382.2h1.5M382.2 363.3h1.5M387.1 358.7h1.5M392.2 351.5h1.5M384.9 378.2h1.5M396.2 372.3h1.5M383.5 351.1h1.5M393.4 376.7h1.5M402.9 375.8h1.5M397.8 360.1h1.5M389.3 361.3h1.5M401.3 370.5h1.5M392.3 359.2h1.5M388.3 355.4h1.5M397.3 365.8h1.5M379.2 357.6h1.5M384.5 347.5h1.5M387.7 353.4h1.5M380.4 363.9h1.5M391 369.8h1.5M388.7 368.9h1.5M373.5 360.7h1.5M405.1 354.3h1.5M382.6 344.6h1.5M400.7 349.7h1.5M394.6 386.7h1.5M396.6 346h1.5M395.2 357.7h1.5M399.2 370.2h1.5M379.3 357h1.5M399.6 353.5h1.5M395.3 382.2h1.5M389.7 364h1.5M393.5 349.9h1.5M404.5 363.6h1.5M387.5 366.7h1.5M391.7 349.5h1.5M380.2 381.8h1.5M393.4 378.3h1.5M389.2 348.7h1.5M377.7 376.4h1.5M385.9 356.1h1.5M380.8 357h1.5M389.6 382h1.5M405.1 374.9h1.5M394.1 347.2h1.5M386.4 383.8h1.5M384 370h1.5M406.3 363.3h1.5M397.7 380.7h1.5M377.4 360.4h1.5M404.4 357h1.5M398.5 375.5h1.5M386.4 352.6h1.5M385.4 371.9h1.5M395.6 352.5h1.5M403.6 368.5h1.5M393.7 359.4h1.5M380.3 369.1h1.5M382.9 365.8h1.5M379.9 369.1h1.5M401.5 352.7h1.5M382.3 360.8h1.5M380.5 373.4h1.5M394.1 372.3h1.5M396.9 376.4h1.5M372.1 367.5h1.5M378.9 355.8h1.5M386.2 359h1.5M381 364.6h1.5M381.3 359.6h1.5M397.9 368.1h1.5M395.6 382.5h1.5M397.7 352h1.5M396.4 359.6h1.5M378.5 349.5h1.5M388 354.1h1.5M395.2 374.5h1.5M395.7 369.3h1.5M407.3 362.2h1.5M392.5 344h1.5M395.4 375.3h1.5M394.9 378.2h1.5M388.1 368.4h1.5M393.5 377.2h1.5M383.9 358.9h1.5M390.1 363.4h1.5M393.4 348.9h1.5M411.5 372.5h1.5M394.2 380.1h1.5M397.5 374.9h1.5M392.5 352.9h1.5M384 367.4h1.5M387.2 362.8h1.5M390.8 353.6h1.5M381.2 360.5h1.5M389.6 370.3h1.5M395.9 373.2h1.5M393.4 376.8h1.5M400.8 351.1h1.5M376.1 361.8h1.5M379.1 373.3h1.5M398.3 365.3h1.5M379.6 379.8h1.5M391.5 355.4h1.5M398.7 372.5h1.5M377.4 374.6h1.5M390.8 359.9h1.5M410.3 365.1h1.5M393.1 375.8h1.5M379.1 371.3h1.5M381 361.2h1.5M378.7 371.8h1.5M384.8 383.3h1.5M389.2 366.7h1.5M389 380.9h1.5M384.7 366.3h1.5M393.3 347h1.5M372.7 373.3h1.5M402.6 383.5h1.5M377.1 371.3h1.5M370 374.6h1.5M393.7 364.1h1.5M395.2 368.2h1.5M374.7 369.9h1.5M402 374.8h1.5M388.4 353.5h1.5M401.6 353.4h1.5M396.3 361.8h1.5M396.6 353.4h1.5M382.3 380h1.5M383.1 366.1h1.5M392.8 360.7h1.5M386.6 352.4h1.5M377.4 365.3h1.5M382 380.8h1.5M388.4 367.7h1.5M406.1 362.5h1.5M392.6 379.3h1.5M380.1 370.5h1.5M395.2 378.8h1.5M404.3 363.1h1.5M376.2 368.7h1.5M378.3 353.9h1.5M382.2 369.2h1.5M402.5 349.4h1.5M377.7 349.6h1.5M398.6 376.2h1.5M391.9 379.3h1.5M407.9 357.3h1.5M385.2 376.7h1.5M395.2 372.3h1.5M394.4 366.3h1.5M393.2 347.6h1.5M404 348.2h1.5M376.4 375.8h1.5M386.6 366.9h1.5M400.7 357.2h1.5M399.7 365.5h1.5M394 354.3h1.5M390.4 370.7h1.5M400.3 354.8h1.5M393.6 366.9h1.5M400.5 358.5h1.5M390 355.4h1.5M389.8 369.2h1.5M401.2 362.3h1.5M389.7 364.4h1.5M405.3 359.9h1.5M389.4 367.6h1.5M381.7 374.4h1.5M406.6 379.6h1.5M407.2 354.2h1.5M384.1 357.8h1.5M377.2 370.1h1.5M391.6 370.9h1.5M403.5 360.9h1.5M374.4 364.8h1.5M397.1 373.5h1.5M399.1 347.7h1.5M393.8 357.1h1.5M379.3 371.1h1.5M374.5 359h1.5M388.7 378.6h1.5M391 382.2h1.5M377.8 369.3h1.5M407.3 356.8h1.5M382.7 364.7h1.5M381.9 371.8h1.5M390.1 378.2h1.5M377.5 358.3h1.5M379.6 373.5h1.5M376 373.2h1.5M402.2 368.5h1.5M398.4 357.4h1.5M375.6 366.1h1.5M389 353.4h1.5M383.1 379.3h1.5M392.6 356.9h1.5M387 351.4h1.5M387.3 366h1.5M377.7 349.8h1.5M387.4 372.2h1.5M397.6 382.4h1.5M395.4 357.2h1.5M380.1 355.1h1.5M388.7 359.6h1.5M387.4 363.7h1.5M381.8 378.8h1.5M395.3 345.6h1.5M398.2 351.2h1.5M388.8 380.1h1.5M394.4 351.1h1.5M408.9 360.5h1.5M388.6 355.6h1.5M386.6 355.6h1.5M375.8 371h1.5M384.4 380.3h1.5M387.4 359.9h1.5M384.3 361.7h1.5M399 381.7h1.5M404.7 363h1.5M391.5 379.4h1.5M406.1 375h1.5M376.1 363.8h1.5M389.9 354.4h1.5M377.2 365h1.5M391.6 384.2h1.5M399.2 349.6h1.5M387.2 383.2h1.5M390.6 365.5h1.5M394.4 370.2h1.5M394.4 356.1h1.5M392.2 378.8h1.5M377.1 355.8h1.5M399.2 356.2h1.5M398.8 350.6h1.5M386.9 380.8h1.5M391.5 377.4h1.5M395.9 346.5h1.5M389.9 366.1h1.5M397.5 354.4h1.5M396 366.4h1.5M380.3 354h1.5M383.2 383.6h1.5M402.4 354h1.5M378.6 373.7h1.5M404.6 346h1.5M407.2 357.2h1.5M384.1 359.6h1.5M378.3 372.1h1.5M386.2 370.9h1.5M401.3 362.8h1.5M384.1 358h1.5M378.3 350.5h1.5M388.6 390.4h1.5M393.5 348.6h1.5M378.5 367.8h1.5M391.2 373.2h1.5M396 369.6h1.5M375.8 367.7h1.5M399.3 353.3h1.5M395.4 368.8h1.5M397.7 369.9h1.5M399.4 377.5h1.5M395.8 369h1.5M395.3 374.3h1.5M380.3 366.3h1.5M386.5 347.7h1.5M380.6 353h1.5M384 349.1h1.5M395.1 376.8h1.5M389.5 345h1.5M396.4 379.5h1.5M389.1 347.3h1.5M390.8 342.8h1.5M387.3 370.2h1.5M392.1 366.8h1.5M392.2 344.3h1.5M391.6 364.4h1.5M382.6 352.3h1.5M393.4 373.3h1.5M396.9 373.9h1.5M386.2 361.4h1.5M388.6 354.7h1.5M391.7 367.2h1.5M377 356.2h1.5M374.5 375.6h1.5M398.3 378.1h1.5M386 357.4h1.5M395.5 353.8h1.5M402.6 351.8h1.5M380.1 357.1h1.5M377.1 353.1h1.5M389 356.8h1.5M391.3 371.6h1.5M381.8 379.6h1.5M385 376.1h1.5M400 350.6h1.5M406.9 350.7h1.5M395.8 360.2h1.5M373.6 369.1h1.5M393.5 354.8h1.5M373.6 359.4h1.5M394.1 359.5h1.5M376.8 377h1.5M377.2 385h1.5M401.6 348.9h1.5M398.9 354.9h1.5M389.1 355.7h1.5M390.6 364h1.5M403.5 365.1h1.5M400.2 378.2h1.5M380.4 364.9h1.5M391.3 364.5h1.5M374.7 374.6h1.5M398 370.2h1.5M393.3 379.3h1.5M401.1 380.1h1.5M397.3 382.6h1.5M382.8 358.7h1.5M396.8 373.8h1.5M396.6 382h1.5M400 358.1h1.5M382.1 357.8h1.5M394.4 371.9h1.5M389.5 349.8h1.5M376.4 374.7h1.5M384.3 379.3h1.5M390.7 349.4h1.5M389.1 344.2h1.5M383.1 367.4h1.5M377.9 379.3h1.5M404.5 357h1.5M409.7 377.1h1.5M383.4 375.3h1.5M376.4 367h1.5M394.9 360.1h1.5M399.3 381.1h1.5M373.5 357.8h1.5M393.4 366.3h1.5M396.1 384.2h1.5M400.7 359.9h1.5M402 362.8h1.5M386 364.6h1.5M387.6 370.6h1.5M406.3 363.6h1.5M396.8 374.8h1.5M380.3 366.6h1.5M397.9 353.8h1.5M387.8 367h1.5M385.1 377.5h1.5M383.4 367.7h1.5M379 360.7h1.5M385.8 364.6h1.5M399.2 368.3h1.5M377.2 346.3h1.5M388.6 379.5h1.5M379.2 371.6h1.5M408.1 363.1h1.5M378.2 374.7h1.5M387.6 377.4h1.5M406.7 375.7h1.5M395.9 359.7h1.5M398.7 357.5h1.5M382.9 376.6h1.5M383.7 357.6h1.5M395.7 358.3h1.5M380.7 371.2h1.5M405 360.9h1.5M384 353h1.5M389.6 376.1h1.5M388 373.9h1.5M388.6 346.5h1.5M392 344.8h1.5M391.9 352.3h1.5M389.5 376.3h1.5M374 377.6h1.5M397.2 343.8h1.5M387.4 376.5h1.5M380.8 351.6h1.5M390.4 374.7h1.5M400.4 382.5h1.5M390.6 367.5h1.5M386.7 386.7h1.5M404.1 333.8h1.5M368.1 376.2h1.5M398.9 327.5h1.5M382.3 385.7h1.5M388.7 336.4h1.5M389.9 363h1.5M416.6 387h1.5M354.9 370.6h1.5M400.9 383.2h1.5M396.9 363h1.5M392.2 378.5h1.5M381.7 384.9h1.5M389.6 370.9h1.5M415.1 344.7h1.5M364.2 373.6h1.5M411.2 352.1h1.5M405.8 359.7h1.5M399.8 376.7h1.5M401.1 383h1.5M409 381.1h1.5M355.7 376h1.5M386.1 367.3h1.5M395.5 364.8h1.5M375 371.3h1.5M394.2 357.3h1.5M419.9 363.5h1.5M389.9 358.4h1.5M381.8 389.8h1.5M379.9 355.6h1.5M384.6 360.3h1.5M377.3 366.5h1.5M378.2 386.1h1.5M390.6 366h1.5M411.8 381.4h1.5M396.8 338.6h1.5M410.1 363h1.5M378.1 380.7h1.5M393.5 362.4h1.5M394.3 355.6h1.5M372.1 393.6h1.5M369.6 398.2h1.5M387.3 363.6h1.5M428.4 339.5h1.5M389.1 345.5h1.5M377.3 368.2h1.5M404 347.8h1.5M395.1 369.9h1.5M369.4 379.8h1.5M379.5 361.6h1.5M386.7 360h1.5M363.6 365.2h1.5M375.5 398.7h1.5M367.3 388.3h1.5M406.4 347.8h1.5M370.5 375.5h1.5M387.2 392.9h1.5M373.3 407.2h1.5M375.2 415.7h1.5M376.4 388.5h1.5M376.3 386.7h1.5M406.9 364h1.5M392.6 354.1h1.5M402.9 350.1h1.5M380.2 389.1h1.5M376.7 381.1h1.5M388.9 369h1.5M405.9 360.7h1.5M416.8 337.6h1.5M381.3 358.1h1.5M412.1 348h1.5M406.6 341.5h1.5M408.6 340.3h1.5M417.7 350.5h1.5M409.5 342.8h1.5M416 353h1.5M351.6 368.4h1.5M350.2 367.5h1.5" stroke="#86BA1E"/>
<path class="p" d="M462.5 288.1h1.5M462.6 286.2h1.5M463.7 287.4h1.5M463.5 285.7h1.5M462 287.5h1.5M461.7 285.7h1.5M459.7 288h1.5M459.8 284.7h1.5M461.1 285.4h1.5M461.3 286.4h1.5M447.4 320.2h1.5M438.2 338.6h1.5M427.9 326.2h1.5M447.2 315.7h1.5M447.8 334.5h1.5M441.4 328.5h1.5" stroke="#F8766D"/>
</g>
<ellipse cx="383.2" cy="322.4" rx="20.8" ry="22" fill="none" stroke="#1a1a1a" stroke-width="1.5" stroke-dasharray="4.2 2.8"/>
<ellipse cx="388.1" cy="407.2" rx="20.8" ry="22" fill="none" stroke="#2b6190" stroke-width="1.5" stroke-dasharray="4.2 2.8"/>
<path d="M319.3 281.8V447.5H467.9" fill="none" stroke="#111" stroke-width="1.15"/>
<path d="M315.1 440.3H319.3M325.8 447.5V451.7M315.1 401.7H319.3M360.4 447.5V451.7M315.1 363.1H319.3M395.1 447.5V451.7M315.1 324.4H319.3M429.8 447.5V451.7M315.1 285.8H319.3M464.4 447.5V451.7" fill="none" stroke="#111" stroke-width="1.1"/>
<text x="310.5" y="443.8" font-size="8.6" text-anchor="end" fill="#333" font-weight="normal">0</text>
<text x="325.8" y="464.2" font-size="8.6" text-anchor="middle" fill="#333" font-weight="normal">0</text>
<text x="310.5" y="405.2" font-size="8.6" text-anchor="end" fill="#333" font-weight="normal">25</text>
<text x="360.4" y="464.2" font-size="8.6" text-anchor="middle" fill="#333" font-weight="normal">25</text>
<text x="310.5" y="366.6" font-size="8.6" text-anchor="end" fill="#333" font-weight="normal">50</text>
<text x="395.1" y="464.2" font-size="8.6" text-anchor="middle" fill="#333" font-weight="normal">50</text>
<text x="310.5" y="327.9" font-size="8.6" text-anchor="end" fill="#333" font-weight="normal">75</text>
<text x="429.8" y="464.2" font-size="8.6" text-anchor="middle" fill="#333" font-weight="normal">75</text>
<text x="310.5" y="289.3" font-size="8.6" text-anchor="end" fill="#333" font-weight="normal">100</text>
<text x="464.4" y="464.2" font-size="8.6" text-anchor="middle" fill="#333" font-weight="normal">100</text>
<text transform="translate(393.2 481.3) scale(0.56 1)" font-size="11.9" font-weight="bold" text-anchor="middle" fill="#1a1a1a" textLength="147.3" lengthAdjust="spacing">SHMHARI006AUT VAF</text>
<text transform="translate(287.5 364.6) rotate(-90) scale(0.56 1)" font-size="11.9" font-weight="bold" text-anchor="middle" fill="#1a1a1a" textLength="156.6" lengthAdjust="spacing">SHMHARI006POST VAF</text>
<text x="479.3" y="350.4" font-size="8.6" text-anchor="start" fill="#222" font-weight="normal">cluster</text>
<rect x="482.2" y="355.7" width="1.9" height="1.9" fill="#b36c67"/>
<text x="489" y="359.3" font-size="7.6" text-anchor="start" fill="#222" font-weight="normal">1</text>
<rect x="482.2" y="362.3" width="1.9" height="1.9" fill="#74913b"/>
<text x="489" y="366" font-size="7.6" text-anchor="start" fill="#222" font-weight="normal">2</text>
<rect x="482.2" y="368.9" width="1.9" height="1.9" fill="#2b9497"/>
<text x="489" y="372.6" font-size="7.6" text-anchor="start" fill="#222" font-weight="normal">3</text>
<rect x="482.2" y="375.5" width="1.9" height="1.9" fill="#986fb7"/>
<text x="489" y="379.2" font-size="7.6" text-anchor="start" fill="#222" font-weight="normal">4</text>
<rect x="27" y="503.5" width="237" height="233.8" fill="none" stroke="#222" stroke-width="1.4"/>
<g>
<path class="p" d="M88.2 674.2h1.5M90.6 664.4h1.5M89.3 670.5h1.5M102 664.4h1.5M94.5 676.9h1.5M95.6 672.8h1.5M102 669h1.5M103.4 664.3h1.5M80.4 664.4h1.5M94.8 657.6h1.5M89.7 667.2h1.5M94 668.2h1.5M89 661.5h1.5M96.5 669.9h1.5M98.4 664.2h1.5M88.6 665.1h1.5M93.1 661.8h1.5M103 658.5h1.5" stroke="#b74687"/>
<path class="p" d="M95.6 672.9h1.5M103.1 663h1.5M93.2 669.5h1.5M94 654.3h1.5M94 677.8h1.5M91.6 662.3h1.5M105.5 658.4h1.5M102.1 670.6h1.5M84.1 673.3h1.5M90.8 673h1.5M101.1 664.2h1.5M110.4 670.1h1.5M109 659.3h1.5M92.6 661h1.5M100.6 670.7h1.5M88.1 670.2h1.5M90.6 672.2h1.5M105.5 675.9h1.5M90 666.3h1.5M102.8 655.9h1.5M86.2 663.2h1.5M112.8 666.8h1.5M97.5 670h1.5M96.9 666.1h1.5M108 664.9h1.5M111.6 664.2h1.5M81.4 659.5h1.5M89.2 667.9h1.5M87.3 672h1.5M82.1 670.1h1.5M80.1 660.3h1.5M81.7 661.7h1.5M101.4 656.3h1.5M83.4 661.5h1.5M95.5 675.1h1.5M93.8 671.2h1.5M89.3 666.2h1.5M92.5 673h1.5M84.9 660.9h1.5M96.5 659.4h1.5M89.5 660.4h1.5M95.5 660.8h1.5M89.2 673.6h1.5M90.2 665.2h1.5M91.6 676.7h1.5M87.9 671.8h1.5M87.5 668.9h1.5M110 667.3h1.5M98 676.1h1.5M101.5 660.8h1.5M87.2 657.2h1.5M86.7 668.3h1.5M101.6 671h1.5M92.7 652.6h1.5M97.2 656.3h1.5M94.7 672.3h1.5M108.5 674h1.5M93.6 659.4h1.5M97.1 661.7h1.5M96 656h1.5M99.9 662.8h1.5M103.5 674.2h1.5M95.6 666.4h1.5M99.9 657.6h1.5M96.1 662.6h1.5M102.3 658.1h1.5M82.5 665.8h1.5M99.4 662.4h1.5M88.5 671.5h1.5M87.7 662.6h1.5M86.2 670.6h1.5M93.8 669.3h1.5M85.5 657.5h1.5M104.6 674.9h1.5M85.1 663.4h1.5M99.4 659.7h1.5M93.3 656.7h1.5M98.8 664.3h1.5M109 660.6h1.5M90.8 661.5h1.5M97.9 664.1h1.5M97.4 659.2h1.5M108 656.2h1.5M96.6 674.1h1.5M86.1 660.4h1.5M105 667.5h1.5M88.4 671.8h1.5M88.2 663.1h1.5M97.8 661.1h1.5M96.2 657.7h1.5M86.8 671.3h1.5M91.4 664.8h1.5M90 664.1h1.5M89.5 657.7h1.5M90.1 677.6h1.5M91.8 667.8h1.5M92 672.4h1.5M101.7 666.3h1.5M101.4 673.3h1.5M101.7 662.1h1.5M93.4 666.9h1.5M86 664h1.5M97.3 671.1h1.5M88 655.9h1.5M85.9 659.4h1.5M101.7 655.3h1.5M83.9 666.1h1.5M84.2 673.4h1.5M84.3 674.1h1.5M81.2 675.8h1.5M83.9 676.8h1.5M88.8 672.6h1.5M81.9 675.1h1.5M88.7 670.8h1.5M89.9 676.4h1.5M83.8 663.2h1.5M82.8 665.2h1.5M87.7 678.2h1.5M84.1 671.6h1.5M80.3 678.6h1.5M85.9 668.2h1.5M83.6 675.3h1.5M85.2 674h1.5M83.6 672.3h1.5M81.6 667.1h1.5M87.1 672.9h1.5M83.2 665.7h1.5M84.1 665.2h1.5M91.2 672.9h1.5M85.4 678h1.5M86.5 675.5h1.5M86.1 662.5h1.5M125.8 637.5h1.5M123.7 641h1.5M88.6 652.5h1.5M108.1 646.5h1.5M103.8 658.1h1.5M97.9 661.7h1.5M95.8 669.7h1.5M118 628.8h1.5M93.9 668.7h1.5M101.4 666.3h1.5M103.3 659.3h1.5M110.1 636h1.5M123.8 637.2h1.5M121.6 623.9h1.5M102.1 664h1.5M91.6 649.2h1.5M115.5 631.7h1.5M91.5 646.4h1.5M114.7 641.2h1.5M103.6 647h1.5M123.4 646.5h1.5M101.7 636.2h1.5M97.6 664.2h1.5M116.6 647.7h1.5M84.9 654.7h1.5M121.9 648.8h1.5M111.6 654.1h1.5M99.6 655.7h1.5M96.8 669.8h1.5M114.7 656.7h1.5M125.7 643.3h1.5M91 657.4h1.5M95.4 644.8h1.5M103.6 653.9h1.5M123.3 647h1.5M98 663.3h1.5M97.5 662.4h1.5M114.1 635.9h1.5M111 637.4h1.5M117.9 644.1h1.5M114.3 655.6h1.5M110.5 637.5h1.5M107.1 659.3h1.5M87.9 662h1.5M90.4 653.7h1.5M90.8 669.5h1.5M96.3 644.2h1.5M88.4 648.6h1.5M106 642.8h1.5M113.6 651h1.5M119.2 646.6h1.5M95.9 645.4h1.5M112.8 653.4h1.5M126.4 627h1.5M117.5 643.6h1.5M107.4 658.4h1.5M92.2 654.7h1.5M90.4 652.4h1.5M118.7 641.6h1.5M116.6 632h1.5M97.1 654.9h1.5M107.2 631.6h1.5M112.5 627.8h1.5M107.1 651.8h1.5M97.4 653.5h1.5M84.3 626h1.5M81 618.6h1.5M84.3 628.4h1.5M80.5 616.9h1.5M83.6 618.6h1.5M79.8 638.1h1.5M85.1 623.4h1.5M81.2 640.5h1.5" stroke="#FF62BC"/>
<path class="p" d="M104.4 643.6h1.5M92.4 631.5h1.5M93.3 619.5h1.5M95.3 621.8h1.5M99.9 644.8h1.5M114.9 636.6h1.5M91.9 623.6h1.5M107.1 634.1h1.5M100.7 624.2h1.5M109.5 653.2h1.5" stroke="#E76BF3"/>
<path class="p" d="M83.4 678.6h1.5M80.9 678.7h1.5M79.9 679h1.5M80.8 678.5h1.5M80.7 678.1h1.5M81.9 678h1.5M81.5 677.8h1.5M82 676.7h1.5M169.6 587.2h1.5M188.6 567h1.5M169.6 576.7h1.5M167.6 574.4h1.5" stroke="#D89000"/>
<path class="p" d="M140.1 558.9h1.5M139.3 548.1h1.5M138.4 547.2h1.5M146.6 551h1.5M153.7 566.2h1.5M135.7 559.8h1.5M146.3 560.8h1.5M145 558h1.5M139.4 567.2h1.5M136.1 554.8h1.5M142.2 572.1h1.5M147.3 568.9h1.5M147.7 574.3h1.5M150.6 559.9h1.5M154.9 565.5h1.5" stroke="#00895a"/>
<path class="p" d="M137.3 565h1.5M138.6 552.3h1.5M149.9 556.7h1.5M150.8 572.1h1.5M150.2 552.9h1.5M141.5 564.2h1.5M148.3 567.4h1.5M144 550.8h1.5M143.6 562.9h1.5M140.1 561.2h1.5M152.7 559.1h1.5M142.4 572h1.5M149.5 560.4h1.5M142.7 545.2h1.5M151.3 567h1.5M146.9 552h1.5M140.1 547.8h1.5M144.7 566.2h1.5M141.3 565.2h1.5M148.6 542.1h1.5M144.7 573.1h1.5M147.6 571.9h1.5M152.3 568.8h1.5M145.4 556.1h1.5M155.9 562.5h1.5M147.2 551.8h1.5M147.4 571.8h1.5M141.4 558.2h1.5M139 559.5h1.5M137.1 561.9h1.5M144.1 549.1h1.5M138.4 561.6h1.5M146 546.6h1.5M142.2 565.5h1.5M149.2 556.5h1.5M149 557h1.5M153.9 572.2h1.5M152.6 558h1.5M154.5 552.3h1.5M151.5 547.1h1.5M138.8 550h1.5M148.1 556.2h1.5M138.7 553.1h1.5M141.4 547.9h1.5M144.3 549.9h1.5M145.2 551.2h1.5M147 543.8h1.5M147.5 554.4h1.5M149.9 553.7h1.5M146.8 554.8h1.5M144.4 568.7h1.5M141.1 547.8h1.5M150.6 560.9h1.5M139.6 569.1h1.5M144.3 548.7h1.5M146.2 545.9h1.5M139.4 563.1h1.5M151.9 552.1h1.5M140.5 570.8h1.5M137.8 563.1h1.5M143.9 570.9h1.5M136.3 561.2h1.5M148.9 543.3h1.5M140.5 563.3h1.5M144.5 569.1h1.5M139.4 574h1.5M141.8 554.7h1.5M141.4 559.4h1.5M142.7 570.9h1.5M138.9 546.5h1.5M158.7 556.3h1.5M139.5 555.3h1.5M154.8 565.9h1.5M156.1 557.7h1.5M145 569.8h1.5M155.3 559.3h1.5M140.7 569.4h1.5M151.1 553.6h1.5M149.2 551.8h1.5M149.7 560.4h1.5M143.9 568.1h1.5M146.2 552.8h1.5M148.4 565h1.5M143.3 560.9h1.5M150.5 567.6h1.5M152 561.9h1.5M145.5 562.5h1.5M150 554.9h1.5M139.8 547.4h1.5M151.9 569.7h1.5" stroke="#00BF7D"/>
<path class="p" d="M149.6 549.6h1.5M156.8 556.8h1.5M144.4 558.7h1.5M153.9 557h1.5M153.6 552.7h1.5M141.8 565.7h1.5M152 550.9h1.5M158.5 557.2h1.5M155.9 561.4h1.5M147.4 564.2h1.5M144.8 559.3h1.5M138.2 558.9h1.5M155.2 556h1.5M145.8 566.6h1.5M137.7 559h1.5" stroke="#39B600"/>
<path class="p" d="M149.6 601.7h1.5M159.8 602.6h1.5M149.8 628h1.5M135.1 583.7h1.5M142.4 588.3h1.5M140.2 588.5h1.5M150.6 586.8h1.5M143.6 594.5h1.5M155.9 611.1h1.5M133.2 602h1.5M140.7 585.9h1.5M128 598h1.5M143.8 621h1.5M146.8 600.3h1.5M137.6 610h1.5M151.8 600.1h1.5M132.5 597.2h1.5M151.9 577.4h1.5M130.9 608.5h1.5M139.5 588.7h1.5M133.7 585.4h1.5M132.7 583.2h1.5M148.7 606.8h1.5M145.1 586.9h1.5M133.5 595.7h1.5M146.3 624.3h1.5M134 616.3h1.5M142.5 616.1h1.5M163.6 614.5h1.5M154 601.1h1.5M143.1 609.9h1.5M130.5 601.7h1.5M155.6 590.4h1.5M133 585.1h1.5M159.1 589h1.5M130.3 591.5h1.5M138.1 616.2h1.5" stroke="#00898d"/>
<path class="p" d="M144.6 603.7h1.5M148.1 592.1h1.5M148.3 607.1h1.5M163.1 592h1.5M149.3 585.1h1.5M136.1 604.1h1.5M164.1 603.8h1.5M165.9 603.3h1.5M164.2 580.5h1.5M127 604h1.5M150.2 618h1.5M151.6 616.5h1.5M132.9 586.1h1.5M140.4 579.2h1.5M134.3 596.9h1.5M132.4 600.6h1.5M153.3 581.9h1.5M156.1 603.6h1.5M138.8 582.7h1.5M136.5 579.8h1.5M144.3 622h1.5M129.3 601.1h1.5M163.7 592h1.5M156 607.6h1.5M147.8 623.4h1.5M152.1 624.5h1.5M148.3 624.2h1.5M127.5 607.8h1.5M142.8 606.8h1.5M156.2 599h1.5M151.4 620.1h1.5M140.3 574.1h1.5M159.2 596.5h1.5M159.1 588.8h1.5M147.7 620h1.5M159.5 610.8h1.5M149.8 607h1.5M160.3 589.5h1.5M156.3 620.3h1.5M150.2 597.8h1.5M155 618.5h1.5M132.4 586.6h1.5M158.5 582.2h1.5M144.5 599.5h1.5M151.5 602.5h1.5M157.1 593.9h1.5M133.5 619.4h1.5M150.8 617.3h1.5M131.5 612.1h1.5M156.5 581.1h1.5M146.1 603.7h1.5M152.6 620.2h1.5M164.1 610.5h1.5M153.5 617h1.5M143.9 583.4h1.5M145.1 598.7h1.5M155 602.2h1.5M146.4 609.4h1.5M150.4 588.5h1.5M128.2 597.1h1.5M134.4 591.7h1.5M137.8 595.7h1.5M152.7 585.7h1.5M151.7 581.5h1.5M140.4 613.2h1.5M139.7 606.3h1.5M137.1 608.7h1.5M151.1 589.7h1.5M145.5 576.8h1.5M154.9 583.2h1.5M151.3 587.4h1.5M155.5 589.2h1.5M145.4 615.3h1.5M164.3 611.7h1.5M136.9 597.1h1.5M140.2 596.1h1.5M140.3 619.8h1.5M141 618.7h1.5M129.3 599h1.5M159.8 608.7h1.5M138.1 592.1h1.5M163.6 594.1h1.5M144.1 615.5h1.5M146.9 587.2h1.5M137.6 609.5h1.5M149.4 597.9h1.5M146.6 604.5h1.5M138.1 608.6h1.5M145.5 602.9h1.5M142.5 591.7h1.5M142.2 584.5h1.5M155.1 589.2h1.5M144.6 604.3h1.5M136.4 603.6h1.5M151.1 604.8h1.5M148.3 621.8h1.5M153.7 604.6h1.5M148.2 622.1h1.5M152.8 575.7h1.5M137.4 574.9h1.5M150.4 577h1.5M140.5 608.3h1.5M151.7 588.8h1.5M153 588.3h1.5M135.8 596.2h1.5M150.7 608.9h1.5M134.4 605.2h1.5M153.4 618.3h1.5M159.6 616.5h1.5M142.1 617.3h1.5M150.9 586.6h1.5M147.6 597h1.5M152.5 582.5h1.5M156.3 607.9h1.5M145.9 580.3h1.5M156.9 589.3h1.5M150.8 585.6h1.5M139.3 614.4h1.5M162.2 604.2h1.5M137.2 607.3h1.5M142 620.7h1.5M140.9 612h1.5M145.5 577.6h1.5M143.7 622.2h1.5M164.8 605.6h1.5M160 611.1h1.5M152.2 587.2h1.5M136.8 581.8h1.5M162.6 603.9h1.5M139.6 582.8h1.5M136.8 613.3h1.5M154.8 585h1.5M154.4 586.3h1.5M147.8 622.5h1.5M142.3 600.7h1.5M137.5 617.6h1.5M135.5 602h1.5M160.1 599.5h1.5M144.9 579.7h1.5M144.1 594.8h1.5M127.2 598.7h1.5M128.9 586.3h1.5M145.8 605.8h1.5M156.1 604.4h1.5M157.8 623h1.5M136.8 598.9h1.5M137.2 598.2h1.5M159.9 589h1.5M132.6 587.7h1.5M130.5 598.8h1.5M145.2 618.2h1.5M158.4 609.3h1.5M138.4 581.4h1.5M134.6 584.5h1.5M140.9 601.6h1.5M146.6 582.9h1.5M130 589.4h1.5M139.5 584.8h1.5M162.1 598.8h1.5M134.2 584.1h1.5M128.9 599.6h1.5M156.6 599.8h1.5M161.3 601.1h1.5M154.7 597.3h1.5M138.6 616.2h1.5M153 605.7h1.5M159.5 592.8h1.5M147.7 618.6h1.5M151.2 608.7h1.5M131.9 590.3h1.5M142.8 584.1h1.5M148.2 577h1.5M142.2 578.2h1.5M146.8 617.3h1.5M159.9 608.2h1.5M148.8 616.1h1.5M141.2 609.5h1.5M145.6 585.1h1.5M155.6 589.1h1.5M143.1 610h1.5M156.8 608.2h1.5M151.2 597.8h1.5M133.3 611.8h1.5M128.3 588.6h1.5M127.2 604.9h1.5M155 610.5h1.5M166.1 612h1.5M147.2 623.1h1.5M128.1 602.8h1.5M162.3 588.6h1.5M146.5 592h1.5M141.7 604.1h1.5M164.5 593h1.5M154.5 585.4h1.5M142.1 579.3h1.5M131.5 594.7h1.5M161.5 587.2h1.5M143.6 616.4h1.5M158.2 598.9h1.5M158.3 606.3h1.5M145.5 623.7h1.5M149.9 611.3h1.5M136.2 605.4h1.5M163 613.5h1.5M137.8 614.1h1.5M149.9 618h1.5M155.6 612.5h1.5M149.5 614.9h1.5M147.4 592.3h1.5M136.9 587.2h1.5M128.1 603.2h1.5M143.6 604.4h1.5M146.7 584.2h1.5M174.6 605.5h1.5M170.9 619.2h1.5M166.6 606.5h1.5M168.2 611.6h1.5M174 606.7h1.5M171.1 616.7h1.5" stroke="#00BFC4"/>
<path class="p" d="M152 577.1h1.5M130.8 601.2h1.5M138.2 610.2h1.5M127.8 594.5h1.5M139.8 578.8h1.5M151.9 590.2h1.5M146.1 589.7h1.5M133.1 589.5h1.5M140.3 601.2h1.5M158.9 610.8h1.5M150.9 598.7h1.5M164.5 603.7h1.5M138.1 587h1.5M146.4 580.8h1.5M137.5 619.3h1.5M160.1 583.5h1.5M155.9 588.8h1.5M160.2 602.8h1.5M156.3 586.1h1.5M142.3 579.2h1.5M137 603.2h1.5M148.7 593.2h1.5M141.1 581.4h1.5M136.4 624.7h1.5M140.5 604.2h1.5M132.4 585.4h1.5M142.7 593.1h1.5M165.1 618h1.5M142.3 625.4h1.5M147 613.3h1.5M159 601.7h1.5M138.3 602.3h1.5M156.9 611h1.5M139.5 587h1.5M159.5 599.3h1.5M141.5 593.3h1.5M148.3 581.4h1.5M155.7 617.1h1.5M152.8 605.3h1.5M164 599.3h1.5M136.7 615.7h1.5M151.1 588.2h1.5M154.7 587.3h1.5M131.2 586.4h1.5M139.8 619h1.5M145.7 615.7h1.5M152.8 586.6h1.5M168.1 604.2h1.5" stroke="#007eb1"/>
<path class="p" d="M142 600.5h1.5M141.9 583.3h1.5M142 617.6h1.5M156.8 614.4h1.5M150.9 601.6h1.5M145.8 609.1h1.5M156 587.5h1.5M143.3 596.1h1.5M130.1 599.8h1.5M129.4 585.5h1.5M137.4 618.3h1.5M142.1 605.3h1.5M139.6 600.7h1.5M135.7 589.9h1.5M135.8 596.3h1.5M148.5 609.5h1.5M124.3 595.4h1.5M150.9 617.5h1.5M144.1 616.9h1.5M152.8 589.3h1.5M133.1 617.6h1.5M140.9 622.9h1.5M139 596.7h1.5M129.4 588.7h1.5M139.9 615.2h1.5M126.5 599.9h1.5M160.3 610.2h1.5M127.7 592h1.5M154 586.2h1.5M149.5 614.7h1.5M168.1 597.1h1.5M146.9 599.6h1.5M133.8 582.4h1.5M147 576.2h1.5M146.2 573.4h1.5M127 590.3h1.5M140.5 616.6h1.5M153.7 592.9h1.5M136.2 616.6h1.5M149.5 606.5h1.5M134.7 582.7h1.5M140.7 576.8h1.5M138.6 588.8h1.5M127.3 605.2h1.5M138 579.7h1.5M143.8 581.6h1.5M148.5 598.5h1.5M158.4 612.2h1.5M142.8 617.4h1.5M155.6 604h1.5M155 588.9h1.5M133.6 592.2h1.5M142.1 577.7h1.5M153 584.5h1.5M160.1 592.3h1.5M158.2 589.1h1.5M150.8 605.5h1.5M153 581.1h1.5M141.3 600.9h1.5M145.2 616.6h1.5M149.8 613.8h1.5M142.6 604.5h1.5M133.5 612.3h1.5M157.9 602.9h1.5M135.6 621.8h1.5M153.9 599.9h1.5M154.1 627.4h1.5M152.1 609.1h1.5M133.4 595.4h1.5M135.7 613.2h1.5M142.9 600.1h1.5M154.9 583.1h1.5M138.5 603.6h1.5M141.9 621.6h1.5M141.5 616.3h1.5M142.8 618h1.5M144.1 617.1h1.5M131.3 610.4h1.5M155.4 612h1.5M163.4 603.9h1.5M127.4 609.6h1.5M134.5 606.1h1.5M133.6 617h1.5M154.4 596h1.5M132.5 580.6h1.5M135.9 623.1h1.5M128.2 603.7h1.5M136 580.8h1.5M141.4 602.1h1.5M126.1 596.7h1.5M152.6 587h1.5M131.1 586.8h1.5M138.4 619.6h1.5M161.2 590.7h1.5M156.7 615.6h1.5M130.5 604.9h1.5M139.4 592.9h1.5M144.7 605.1h1.5M133.4 599.2h1.5M129.4 609.9h1.5M155.6 596.8h1.5M140.2 580h1.5M146.2 591.2h1.5M159.6 582.1h1.5M142.8 588.8h1.5M128.6 597.7h1.5M151.7 581.3h1.5M144.2 615.9h1.5M134.4 578.3h1.5M142.9 599.9h1.5M161.7 607.5h1.5M141.2 589.7h1.5M161.8 584.9h1.5M140 600.1h1.5M140.8 620.8h1.5M135.2 583.2h1.5M160 604.6h1.5M142.1 602.9h1.5M157.8 617.7h1.5M158.9 614.6h1.5M164 604.7h1.5M126.5 588.5h1.5M137.6 619.1h1.5M138.9 592.6h1.5M142 608.9h1.5M143.5 585.6h1.5M147.1 617.6h1.5M161.6 604.8h1.5M155.1 599.3h1.5M143.1 603h1.5M149.5 616h1.5M139.5 591.5h1.5M139.1 615.4h1.5M150.2 586.8h1.5M156.3 611.2h1.5M151.2 622.7h1.5M131.3 595.1h1.5M149.6 610.1h1.5M137.7 586.1h1.5M143 613.7h1.5M155.8 597.4h1.5M145 610.6h1.5M142.2 582.1h1.5M160 610.9h1.5M148.2 581.6h1.5M136.5 590.1h1.5M139.6 614.7h1.5M142.3 594.1h1.5M133.5 600.9h1.5M156.8 618.9h1.5M154 613.5h1.5M147 606.9h1.5M124.9 599.4h1.5M153.9 610.4h1.5M145.1 591.8h1.5M154 610.1h1.5M137.2 587.9h1.5M140.1 581.7h1.5M128.8 592h1.5M142.5 604.4h1.5M140.3 613.1h1.5M138 580.7h1.5M136.6 596h1.5M136.6 595.8h1.5M143.8 593.7h1.5M146.3 613.2h1.5M157.8 598.6h1.5M135.5 596.9h1.5M138.9 615.2h1.5M129.9 606.5h1.5M153.3 599.4h1.5M151 605.1h1.5M132.2 590.9h1.5M141.4 597.5h1.5M131.9 604.8h1.5M141.6 601.1h1.5M153.6 612.3h1.5M156.5 590.6h1.5M161 611h1.5M164.7 599.6h1.5M142.3 607.6h1.5M130 601.6h1.5M137.9 612.2h1.5M134.5 593.8h1.5M138.9 598.9h1.5M142.5 619.8h1.5M137.2 579.6h1.5M148.7 582.7h1.5M141.9 624.9h1.5M129.2 592.9h1.5M144.8 600h1.5M153 599.1h1.5M152.1 587.3h1.5M137.5 580.8h1.5M155.4 587.8h1.5M153.6 587h1.5M140.6 578.2h1.5M150.5 618.7h1.5M158.8 583.6h1.5M134 613.2h1.5M143.8 594.1h1.5M139.6 594h1.5M146.4 620h1.5M136.2 621.3h1.5M158.9 597.6h1.5M161.3 607.8h1.5M155 616.6h1.5M132.1 608.1h1.5M152.7 618.7h1.5M128.9 597.4h1.5M131.2 585.3h1.5M129.8 589.4h1.5M159.8 577.2h1.5M137.7 581.4h1.5M156.7 594.1h1.5M138 593.7h1.5M138.3 616.5h1.5M145.9 614.3h1.5M143.5 602h1.5M138.5 612.7h1.5M152.3 611.8h1.5M141.3 575.6h1.5M162.7 596.5h1.5M163.1 589.6h1.5M145.9 592.8h1.5M143.5 596.8h1.5M140.6 590.5h1.5M150.6 593h1.5M151.8 600.2h1.5M141.9 603.9h1.5M156.7 612h1.5M144.5 596.5h1.5M143.4 603.5h1.5M122.5 606.6h1.5M140.9 591.4h1.5M155.6 602.4h1.5M146.4 617.8h1.5M146.1 609.8h1.5M141.2 604.8h1.5M128.3 616.8h1.5M132.5 617h1.5M150 589.7h1.5M156 618.5h1.5M136.5 591.8h1.5M145.5 592.6h1.5M141.2 581h1.5M147.7 593.7h1.5M159.3 591.4h1.5M132.5 589h1.5M159.4 605.2h1.5M133 602.9h1.5M126.2 595.9h1.5M136.7 600h1.5M143.8 606.2h1.5M130.5 598.5h1.5M161.7 610.3h1.5M146.2 579.9h1.5M138.8 602.8h1.5M149.4 578h1.5M135.5 606.2h1.5M130.3 604.2h1.5M134.4 602.3h1.5M123 599.1h1.5M148.6 617.3h1.5M156.7 588.3h1.5M136.9 607.9h1.5M140.1 601.3h1.5M142 575.3h1.5M139.6 602.4h1.5M163.8 598.1h1.5M137.5 603.6h1.5M126.2 588.3h1.5M144.6 605.1h1.5M155 600.7h1.5M143.7 598.1h1.5M136.9 602.7h1.5M159.6 618.4h1.5M145.2 619.7h1.5M161 592.6h1.5M164.3 586.1h1.5M165.6 591h1.5M135.8 587.6h1.5M133.6 566.1h1.5M153.5 592.9h1.5M128.3 585.5h1.5M168.1 626.3h1.5M139.5 609.3h1.5M138 580.7h1.5M184.5 618.5h1.5M166.1 606.1h1.5M171.4 639.9h1.5M141.5 583.3h1.5" stroke="#00B0F6"/>
<path class="p" d="M135.5 656.3h1.5M137.6 645.1h1.5M154 644.7h1.5M145.5 635.9h1.5M146.1 636.5h1.5M143.7 655h1.5M162.2 652.8h1.5M149.7 654.3h1.5M157.3 646.6h1.5M145.6 648.8h1.5M158.4 651.5h1.5M144.1 661.2h1.5M152.3 634.5h1.5M141 643h1.5" stroke="#6b67b7"/>
<path class="p" d="M154.4 646.6h1.5M140.7 657.7h1.5M151.5 638.4h1.5M145.7 635.1h1.5M145.4 629h1.5M153.5 635.5h1.5M161.4 650.1h1.5M140.9 653.6h1.5M141.3 652.3h1.5M135.6 643.4h1.5M155.6 644.2h1.5M155.1 666.8h1.5M160 649.3h1.5M150.7 651.8h1.5M143.3 633.6h1.5M154.2 659h1.5M142.1 659.1h1.5M147.2 651.6h1.5M158.1 641.7h1.5M146.7 654.8h1.5M151.9 631.5h1.5M150.4 640.1h1.5M154.4 653.5h1.5M138.2 655h1.5M151.3 637h1.5M143 640.6h1.5M140.8 641.9h1.5M148.4 632.8h1.5M146.6 652h1.5M151.1 661.1h1.5M153.7 632.3h1.5M152.4 630.8h1.5M147.4 662.9h1.5M152.6 656.7h1.5M146.8 654.9h1.5M139.6 655.8h1.5M132.6 650.7h1.5M141.5 639h1.5M165 648.8h1.5M144.2 651.1h1.5M135.5 640.9h1.5M147.7 648.8h1.5M157.7 641.5h1.5M147.8 638.1h1.5M142.3 646.7h1.5M141.9 645.7h1.5M140.9 638.3h1.5M146.2 660.7h1.5M141.3 632.7h1.5M149.5 650.6h1.5M158.8 651.5h1.5M160.7 646.9h1.5M135.6 648.6h1.5M154.3 635.7h1.5M156.8 639.4h1.5M153.3 652.3h1.5M155.5 658h1.5M134.3 640.6h1.5M137.2 644.7h1.5M156.2 657.5h1.5M145.2 656.7h1.5M143.1 642.2h1.5M144.8 644.3h1.5M138.1 642.5h1.5M160.7 640h1.5M149.6 642.3h1.5M148.3 654.9h1.5M140.8 637h1.5M158.8 645.9h1.5M144.4 638h1.5M149.2 649.4h1.5M141.2 664.7h1.5M138 641.8h1.5M151.8 648.1h1.5M151.5 642.9h1.5M143.3 644.7h1.5M137 641.4h1.5M154.8 646.5h1.5M139.3 645.5h1.5M150.4 661.5h1.5M156.1 657h1.5" stroke="#9590FF"/>
<path class="p" d="M187.7 554.7h1.5M191.5 586.7h1.5M182.5 551.8h1.5M174.7 580.8h1.5M175.9 549.8h1.5M169.3 551.9h1.5M185.1 564.7h1.5M178.2 543.3h1.5M166.5 590.9h1.5M178.3 589.8h1.5" stroke="#A3A500"/>
<path class="p" d="M213.9 529.9h1.5M216.3 526h1.5M217.1 525.3h1.5M215.7 527.9h1.5M215.6 528h1.5M213.9 525h1.5M218.1 528h1.5M214.5 528.9h1.5M211.9 529.2h1.5M214 528h1.5M213.1 531.5h1.5M216.1 524.8h1.5M205.1 537.9h1.5M205.2 530.2h1.5M199.9 526.3h1.5M209.5 554.2h1.5M197.9 552.4h1.5" stroke="#F8766D"/>
</g>
<ellipse cx="148.9" cy="558.9" rx="20.9" ry="22" fill="none" stroke="#1a1a1a" stroke-width="1.5" stroke-dasharray="4.2 2.8"/>
<ellipse cx="148.5" cy="644.9" rx="21.1" ry="21.6" fill="none" stroke="#2b6190" stroke-width="1.5" stroke-dasharray="4.2 2.8"/>
<path d="M73.8 520.8V686H222.4" fill="none" stroke="#111" stroke-width="1.15"/>
<path d="M69.6 679.2H73.8M80.5 686V690.2M69.6 640.6H73.8M115 686V690.2M69.6 602H73.8M149.4 686V690.2M69.6 563.5H73.8M183.9 686V690.2M69.6 524.9H73.8M218.4 686V690.2" fill="none" stroke="#111" stroke-width="1.1"/>
<text x="65" y="682.7" font-size="8.6" text-anchor="end" fill="#333" font-weight="normal">0</text>
<text x="80.5" y="702.7" font-size="8.6" text-anchor="middle" fill="#333" font-weight="normal">0</text>
<text x="65" y="644.1" font-size="8.6" text-anchor="end" fill="#333" font-weight="normal">25</text>
<text x="115" y="702.7" font-size="8.6" text-anchor="middle" fill="#333" font-weight="normal">25</text>
<text x="65" y="605.5" font-size="8.6" text-anchor="end" fill="#333" font-weight="normal">50</text>
<text x="149.4" y="702.7" font-size="8.6" text-anchor="middle" fill="#333" font-weight="normal">50</text>
<text x="65" y="567" font-size="8.6" text-anchor="end" fill="#333" font-weight="normal">75</text>
<text x="183.9" y="702.7" font-size="8.6" text-anchor="middle" fill="#333" font-weight="normal">75</text>
<text x="65" y="528.4" font-size="8.6" text-anchor="end" fill="#333" font-weight="normal">100</text>
<text x="218.4" y="702.7" font-size="8.6" text-anchor="middle" fill="#333" font-weight="normal">100</text>
<text transform="translate(148.3 719.8) scale(0.56 1)" font-size="11.9" font-weight="bold" text-anchor="middle" fill="#1a1a1a" textLength="147.3" lengthAdjust="spacing">SHMHARI005PRE VAF</text>
<text transform="translate(42 603.4) rotate(-90) scale(0.56 1)" font-size="11.9" font-weight="bold" text-anchor="middle" fill="#1a1a1a" textLength="156.6" lengthAdjust="spacing">SHMHARI005POST VAF</text>
<text x="233.8" y="569.3" font-size="8.6" text-anchor="start" fill="#222" font-weight="normal">cluster</text>
<rect x="237.2" y="575.4" width="1.9" height="1.9" fill="#b36c67"/>
<text x="243.7" y="579.2" font-size="7.8" text-anchor="start" fill="#222" font-weight="normal">1</text>
<rect x="237.2" y="582.1" width="1.9" height="1.9" fill="#a27a2b"/>
<text x="243.7" y="585.8" font-size="7.8" text-anchor="start" fill="#222" font-weight="normal">10</text>
<rect x="237.2" y="588.7" width="1.9" height="1.9" fill="#84862b"/>
<text x="243.7" y="592.4" font-size="7.8" text-anchor="start" fill="#222" font-weight="normal">2</text>
<rect x="237.2" y="595.3" width="1.9" height="1.9" fill="#4a8f2b"/>
<text x="243.7" y="599.1" font-size="7.8" text-anchor="start" fill="#222" font-weight="normal">3</text>
<rect x="237.2" y="601.9" width="1.9" height="1.9" fill="#2b9470"/>
<text x="243.7" y="605.7" font-size="7.8" text-anchor="start" fill="#222" font-weight="normal">4</text>
<rect x="237.2" y="608.5" width="1.9" height="1.9" fill="#2b9497"/>
<text x="243.7" y="612.3" font-size="7.8" text-anchor="start" fill="#222" font-weight="normal">5</text>
<rect x="237.2" y="615.2" width="1.9" height="1.9" fill="#2b8cb2"/>
<text x="243.7" y="618.9" font-size="7.8" text-anchor="start" fill="#222" font-weight="normal">6</text>
<rect x="237.2" y="621.8" width="1.9" height="1.9" fill="#7d7ab7"/>
<text x="243.7" y="625.5" font-size="7.8" text-anchor="start" fill="#222" font-weight="normal">7</text>
<rect x="237.2" y="628.4" width="1.9" height="1.9" fill="#aa66b0"/>
<text x="243.7" y="632.2" font-size="7.8" text-anchor="start" fill="#222" font-weight="normal">8</text>
<rect x="237.2" y="635" width="1.9" height="1.9" fill="#b76192"/>
<text x="243.7" y="638.8" font-size="7.8" text-anchor="start" fill="#222" font-weight="normal">9</text>
<rect x="271.4" y="503.5" width="237" height="233.8" fill="none" stroke="#222" stroke-width="1.4"/>
<g>
<path class="p" d="M328.6 672h1.5M344.9 671.1h1.5M339.9 668.2h1.5M346.4 660.4h1.5M329.5 665.6h1.5M329.7 666.3h1.5M338.3 669.1h1.5M335.8 673.8h1.5M345.7 673.4h1.5M335.4 667.9h1.5M350.8 672.5h1.5M337.8 660.7h1.5M341 669.5h1.5M345.2 662.7h1.5M339.7 670.2h1.5M329 670.2h1.5M344.2 663.9h1.5M341 674.8h1.5M340.8 653.1h1.5M341.5 666.6h1.5M329.7 663.9h1.5M346.9 658h1.5M329.3 668.5h1.5M338.6 668.3h1.5M335 669.7h1.5M329.7 668h1.5M349.1 670.7h1.5M339.3 660.7h1.5" stroke="#00898d"/>
<path class="p" d="M352 664.3h1.5M334.8 658.2h1.5M351.8 661.4h1.5M336.9 662.2h1.5M336.4 658.4h1.5M340.7 660h1.5M341.4 670.9h1.5M341.1 657h1.5M344.3 660.9h1.5M342.9 673.1h1.5M333.6 658h1.5M326.4 666.5h1.5M342 667.2h1.5M349.3 677.2h1.5M345.8 658.6h1.5M333.7 675.8h1.5M328.6 667.4h1.5M340.7 674.3h1.5M334.7 669.4h1.5M329 677.1h1.5M343.6 676.4h1.5M343.4 664.8h1.5M345.3 678.1h1.5M344.3 666.9h1.5M344.1 662.1h1.5M334.8 669.3h1.5M355.5 665.3h1.5M344.6 673.5h1.5M333.8 674.2h1.5M332.3 674h1.5M331.3 662h1.5M336.6 674.5h1.5M327 673.6h1.5M342.1 676.2h1.5M338.4 668.7h1.5M331.1 664.8h1.5M350.4 659.7h1.5M346.6 662.1h1.5M341.2 665.3h1.5M346.1 659.4h1.5M347.3 660.1h1.5M348.4 670.5h1.5M329 671.7h1.5M344.8 661.6h1.5M336.4 658.2h1.5M334.5 665.3h1.5M341 673.8h1.5M332.5 668.5h1.5M337.8 667.5h1.5M335 657.5h1.5M333.5 659.1h1.5M334.1 663.1h1.5M343.2 678.1h1.5M345.4 677.5h1.5M337.6 664.1h1.5M328.9 660.4h1.5M348.8 670.4h1.5M344.4 662.4h1.5M331.7 670.7h1.5M349.4 675.2h1.5M327.1 666.8h1.5M345.3 671.2h1.5M335.2 664.7h1.5M350.8 663.7h1.5M339.8 668.5h1.5M342.4 670.9h1.5M333.2 674.6h1.5M329.9 674.4h1.5M331.3 662.5h1.5M335.6 678.7h1.5M334.2 665.8h1.5M334.3 673.2h1.5M349.3 673.4h1.5M338 664.7h1.5M346.2 660.8h1.5M346.8 661.4h1.5M337.9 660.8h1.5M351.3 674.3h1.5M344.4 673.7h1.5M337.6 671.2h1.5M340.8 656.9h1.5M335.3 667.2h1.5M336.4 663h1.5M339 666.9h1.5M343.8 672.1h1.5M336.2 668.2h1.5M329.4 660.9h1.5M342.6 675.7h1.5M351.2 669.9h1.5M336.2 660.3h1.5M350.8 668.8h1.5M332.1 668.7h1.5M338.5 674.6h1.5M344.5 675.1h1.5M331.5 657.7h1.5M347 662.3h1.5M347.8 660.7h1.5M330.1 665.5h1.5M349.2 661.6h1.5M345.3 670.9h1.5M345.8 664.2h1.5M328.3 674h1.5M336.3 658.5h1.5M345.4 675.5h1.5M342.6 664.3h1.5M328.4 669.1h1.5M331.8 676.2h1.5M340.8 674.1h1.5M344 660.9h1.5M351 670.8h1.5M335.4 665.3h1.5M338.1 655.3h1.5M340 665.1h1.5M348.7 674.7h1.5M333.6 661.8h1.5M326.5 663.7h1.5M340.2 663.9h1.5M341.4 653.3h1.5M334.3 662.6h1.5M348.4 666.9h1.5M338 672h1.5M343.9 662.8h1.5M349.1 668.7h1.5M335.8 665.9h1.5M346.4 665.6h1.5M351.6 668.7h1.5M338.2 653.4h1.5M327 668.1h1.5M338.6 666.2h1.5M338.5 674.1h1.5M341.9 665.6h1.5M328 668.2h1.5M346.8 664.3h1.5M352.6 674.2h1.5M333.6 673.9h1.5M336.4 657.8h1.5M334.3 669.2h1.5M338.4 662h1.5M348.1 662.4h1.5M335.7 667.6h1.5M331.4 659.7h1.5M341.8 661.6h1.5M349.3 667.7h1.5M331.4 660.6h1.5M350.6 669.4h1.5M347.8 667.4h1.5M329.1 668.8h1.5M335.4 675.9h1.5M333.4 676.1h1.5M337.8 666.5h1.5M347.4 666.1h1.5M350 677.4h1.5M339 672.1h1.5M348.7 671.1h1.5M335.6 659.3h1.5M347.6 670.1h1.5M328.2 675.9h1.5M354.2 672.9h1.5M349.6 658.2h1.5M334.7 675.4h1.5M345.7 675.3h1.5M334.2 659.3h1.5M337.7 673h1.5M326.5 677.9h1.5M331.8 677.9h1.5M329.3 678h1.5M327.6 676.3h1.5M327.9 676.6h1.5M327.6 674.2h1.5M330.1 669.6h1.5M329.6 672.8h1.5M333.9 670.3h1.5M327.1 675h1.5M328.4 672.3h1.5M328.8 673.6h1.5M336.1 671.5h1.5M334.4 677.8h1.5M331.8 676.9h1.5M331.7 674.8h1.5M329 676.8h1.5M335 669.2h1.5M326.8 676.3h1.5M329.7 677.1h1.5M329.3 671h1.5M332.8 667.1h1.5M331.4 675.5h1.5M328.9 672.7h1.5M340.9 677.9h1.5M329.3 667.7h1.5M327.6 671.8h1.5M335.5 675.8h1.5M326 678.3h1.5M332.2 650.6h1.5M327.6 657.5h1.5M335.1 658.4h1.5M346.6 658.8h1.5M329.3 661.1h1.5M360.1 660.8h1.5M363.1 634.5h1.5M345.7 635.9h1.5M346.4 644.3h1.5M364.6 658.3h1.5M337.8 642h1.5M332.2 651.1h1.5M354.9 636.4h1.5M356.4 637.9h1.5M341.6 651.6h1.5M347 657.9h1.5M346.6 646.1h1.5M338.3 658.8h1.5M329.3 652.2h1.5M346.8 632.8h1.5M333.5 662.6h1.5M337.5 648.8h1.5M348.3 652.8h1.5M361.3 656.6h1.5M336.1 655.3h1.5M363.4 648.5h1.5M339.5 661.7h1.5M340.8 638.4h1.5M358.4 633.9h1.5M333.6 662.1h1.5M332.8 661.1h1.5M359.4 654.4h1.5M358.3 654.3h1.5M329.9 654.9h1.5M349.6 633.2h1.5M350.5 638.4h1.5M345.7 634.7h1.5M359.1 632.7h1.5M358.6 641.7h1.5M358.1 635.6h1.5M352.1 660.8h1.5M342.8 633.3h1.5M352.7 650.9h1.5M360.3 652.1h1.5M341.1 646.7h1.5M352.1 645.6h1.5M338.8 645.9h1.5M339.5 642.6h1.5M347.5 659.9h1.5M350.3 634.2h1.5M350 661h1.5M347.3 658.2h1.5M342 658.1h1.5M361.4 639.4h1.5M348 654.1h1.5" stroke="#00BFC4"/>
<path class="p" d="M326.7 676.2h1.5M327.9 677.8h1.5M333.1 677.8h1.5M334.1 676.1h1.5M326.5 677.8h1.5M328.3 677.7h1.5M332.8 677.9h1.5M326.4 676.4h1.5M327.5 676.7h1.5M328.3 678.7h1.5M326.8 677.5h1.5M332.2 676.4h1.5" stroke="#C77CFF"/>
<path class="p" d="M374.5 603.7h1.5M396.2 586.4h1.5M405.9 592.2h1.5M372.9 595.2h1.5M385.6 600.9h1.5M385.8 606.4h1.5M382.2 590.9h1.5M399.3 615.5h1.5M401.6 603h1.5M399.8 578.1h1.5M391.4 590.3h1.5M407.7 607.8h1.5M386.1 609.7h1.5M378.1 591h1.5M388.9 608.6h1.5M398.8 593.1h1.5M403.6 603.5h1.5M400.6 586.4h1.5M395.1 600.5h1.5M398.9 597.8h1.5M407.1 619h1.5M391.1 579.8h1.5M407.1 600.7h1.5M375.5 596.2h1.5M378 588.1h1.5M376.8 593.4h1.5M394.9 598.5h1.5M381 595.8h1.5M395.9 581h1.5M384.2 583.2h1.5M384.7 603.3h1.5M399.7 606.3h1.5M380.6 611.2h1.5M387.7 581.5h1.5M380 609.7h1.5M381.7 585.1h1.5M403.6 617.9h1.5M391.1 601.4h1.5M377.4 609.6h1.5M398.2 599.3h1.5M396.3 610.7h1.5M376.1 595h1.5M384.9 582.5h1.5M380.9 597.5h1.5M371.1 612.9h1.5M391.5 615h1.5M390.9 595.9h1.5M397.5 614.2h1.5M392.5 606.4h1.5M400.8 585.1h1.5M394.6 606.5h1.5M396.4 618.5h1.5M372.6 588.3h1.5M389.3 587.6h1.5M399.6 596.1h1.5M379.1 584.1h1.5M397.6 608.1h1.5M377 614.1h1.5M378.3 587.4h1.5M399.5 600.6h1.5M391.9 619.3h1.5M404 609h1.5M399.2 609.9h1.5M380.6 611.4h1.5M397.4 591.3h1.5M391.1 602.7h1.5M386.7 599.2h1.5M383.7 584.3h1.5M400.6 592.6h1.5M395.8 599.1h1.5M388.7 583.6h1.5M399.4 619.8h1.5M382.9 594.9h1.5M382.5 590.8h1.5M402.3 584.3h1.5M371.3 601.4h1.5M406.5 586.9h1.5M404 597.6h1.5M376.3 599.3h1.5M397 611.2h1.5M395.3 611.9h1.5M394.7 602.5h1.5M384.7 600.1h1.5M388.6 604.3h1.5M379.1 604.5h1.5M410.3 614.2h1.5M386.3 605.4h1.5M383 604.6h1.5M383.7 600.2h1.5M393.6 601.8h1.5M380 620.7h1.5M408.2 592.3h1.5M397.1 616.4h1.5M407.8 598.2h1.5M397.3 586.8h1.5M389.7 597.4h1.5M403.5 607.5h1.5M375.8 593.2h1.5M400.3 600.1h1.5M401.5 583.8h1.5M410.8 599.6h1.5M384.6 602.4h1.5M388.4 605.9h1.5M391.1 601.4h1.5M388.9 590.6h1.5M399.4 617.3h1.5M378.2 589.6h1.5M387.5 589.4h1.5M380.3 610.4h1.5M378.8 589.3h1.5M396.3 588.9h1.5M383 586.6h1.5M382.4 593.2h1.5M408.4 600.6h1.5M401.6 579.9h1.5M371 602.2h1.5M373.8 595.7h1.5M375.4 606.4h1.5M400.5 605.3h1.5M384.9 604.7h1.5M382.5 608.5h1.5M381.3 608.9h1.5M377.1 606.9h1.5M407 600.7h1.5M383.1 613.2h1.5M399.1 593.4h1.5M380.4 583.3h1.5M394.3 606.4h1.5M406.1 595.7h1.5M391.4 601.7h1.5M389.6 610h1.5M386 582.6h1.5M400.2 592.1h1.5M397.4 601.5h1.5M388.7 599.9h1.5M398.7 602.8h1.5M384.5 611.4h1.5M381.1 588h1.5M406 597.4h1.5M377.6 609.9h1.5M398 619.7h1.5M389.4 587.6h1.5M400.9 609.8h1.5M374.5 606.5h1.5M391.2 589.9h1.5M401.4 601.3h1.5M395.2 606.6h1.5M391.8 624.6h1.5M388.1 616.7h1.5M385 618.2h1.5M384.6 592.7h1.5M397.6 591.8h1.5M377.4 609.9h1.5M395.2 612.4h1.5M372.8 595.7h1.5M363.8 605.9h1.5M377.4 598.2h1.5M379 617h1.5M381.1 599.2h1.5M393.7 589.1h1.5M382.5 586.6h1.5M382.1 607.4h1.5M396.1 589.8h1.5M404.8 615.5h1.5M405.6 603.7h1.5M388.8 596.4h1.5M387.1 589.4h1.5M380.7 592.1h1.5M402.6 611.4h1.5M373 596.7h1.5M373.6 596.4h1.5M374.1 608h1.5M400.3 616.9h1.5M387.4 604.6h1.5M400.8 600.7h1.5M404.9 605.2h1.5M393.3 614.5h1.5M406.4 605.2h1.5M410.9 607h1.5M391.9 578.3h1.5M374 616.1h1.5M389.1 607.6h1.5M389 580.3h1.5M387.8 583.8h1.5M387.5 590h1.5M394.7 597.1h1.5M378.7 605h1.5M380.4 600.6h1.5M384.4 585.4h1.5M382.3 612.1h1.5M393.3 613.2h1.5M407.7 593.9h1.5M398.4 616h1.5M384.6 609.2h1.5M377.6 600.8h1.5M399.5 608.6h1.5M386.5 588.3h1.5M393.6 582.3h1.5M402.8 592.8h1.5M385.8 586.5h1.5M393.3 614h1.5M386 621.5h1.5M371.8 594.4h1.5M372.2 607.7h1.5M375.2 593.6h1.5M403 588.4h1.5M380.7 607.4h1.5M395.1 579h1.5M408.9 594.6h1.5M382.2 606.4h1.5M393.3 603.7h1.5M377.7 586.7h1.5M387 586.4h1.5M375.2 591.7h1.5M381.2 601.3h1.5M396.3 593.1h1.5M391.4 613.2h1.5M382.7 606h1.5M377.3 589h1.5M405 598.4h1.5M391.1 612.1h1.5M394.5 597.8h1.5M382.1 615.5h1.5M402 603.9h1.5M396.2 599.4h1.5M396.2 618.1h1.5M391.5 605.6h1.5M383.1 582.4h1.5M384.5 579.5h1.5M392 588.9h1.5M377.8 594.5h1.5M397.8 613h1.5M389.6 590.4h1.5M407.8 594.8h1.5M378.8 604.7h1.5M382.1 591.6h1.5M394.5 605.5h1.5M401.8 591.2h1.5M401.1 609.1h1.5M379.3 608.6h1.5M373.2 592.4h1.5M378.7 592.7h1.5M375.8 594.9h1.5M384 618.4h1.5M396.4 602.8h1.5M390.2 587.8h1.5M383.5 615h1.5M394.2 588.5h1.5M392.3 599.4h1.5M401.7 605.4h1.5M393.5 604.7h1.5M381.1 611.6h1.5M396.4 602.1h1.5M387.2 623.2h1.5M380.3 592.5h1.5M394.2 614.6h1.5M406.5 606.4h1.5M399 592.5h1.5M402.3 584.7h1.5M388 608.9h1.5M376.2 597.3h1.5M389.2 615.9h1.5M369.6 597h1.5M381.6 587.1h1.5M387.6 608.9h1.5M400.6 617h1.5M406.9 596.1h1.5M400.2 610.7h1.5M391.3 603.2h1.5M390.1 613.8h1.5M383.9 582.2h1.5M405.7 598.8h1.5M399.9 597.4h1.5M387.1 586.4h1.5M375.9 604.8h1.5M395.4 590.7h1.5M399.9 602h1.5M373.7 604.9h1.5M391 608.2h1.5M399.9 604.6h1.5M402 603.1h1.5M401.1 606.3h1.5M389.7 612.4h1.5M394.4 587.8h1.5M381.6 615.2h1.5M392.9 590.4h1.5M390.4 588.5h1.5M391 612.4h1.5M380.7 613.3h1.5M386.2 608.4h1.5M395 603.1h1.5M383 604.1h1.5M391.4 589.7h1.5M383 614.8h1.5M393.3 619.3h1.5M397.2 619h1.5M385 616.8h1.5M368.6 599.1h1.5M397.9 596.8h1.5M390.7 599.1h1.5M402.6 592.8h1.5M399.8 608.7h1.5M403 597.3h1.5M390.4 598.4h1.5M382 603.1h1.5M395.8 598.5h1.5M396.4 603h1.5M396.3 619.8h1.5M393.2 587.7h1.5M380 609.5h1.5M398.8 605.1h1.5M384.3 613.2h1.5M398.3 609.2h1.5M374.6 613.2h1.5M401.4 610.4h1.5M385.5 618.9h1.5M395.1 598.3h1.5M388.5 590.1h1.5M386.8 602.1h1.5M377.7 595.9h1.5M379.7 597.4h1.5M379.1 590.3h1.5M390.9 601h1.5M394.9 615h1.5M371.8 608.3h1.5M388.9 601.1h1.5M384.8 598.3h1.5M394.2 605.5h1.5M383.8 592.2h1.5M370.4 607.1h1.5M391.4 604.4h1.5M392.5 593.8h1.5M406.2 605.5h1.5M392.4 612.7h1.5M388.6 627.4h1.5M391.3 590.2h1.5M388.3 611.6h1.5M373.3 609.5h1.5M386.9 584.3h1.5M387.7 587.3h1.5M376 612.1h1.5M405.8 604.1h1.5M385.5 601.9h1.5M403.4 609.1h1.5M391.9 618.5h1.5M402 604.4h1.5M382.1 592.8h1.5M376 599h1.5M400.1 601.9h1.5M372.6 593h1.5M399.8 619.3h1.5M380 590.9h1.5M379.5 609.2h1.5M381.6 605.1h1.5M385.9 615h1.5M384.8 589.7h1.5M384.3 618.2h1.5M372.1 598.1h1.5M399.5 584.7h1.5M380.5 586.4h1.5M378 600.1h1.5M402.8 601.5h1.5M407.5 609.1h1.5M380.7 589.8h1.5M386.3 612.4h1.5M396.1 605h1.5M397.1 605.3h1.5M389.6 606h1.5M398.9 595.8h1.5M376.5 587.1h1.5M402.8 598h1.5M379.1 619.9h1.5M398.1 609.5h1.5M398.7 602.7h1.5M388.9 584.6h1.5M380.9 589.9h1.5M379.7 607.2h1.5M394.9 590.9h1.5M385.7 618.1h1.5M408.4 589.9h1.5M399.9 597.3h1.5M371.5 604.7h1.5M380.9 587.7h1.5M382.9 601.9h1.5M389.7 617.9h1.5M370.1 603.3h1.5M390.9 608.5h1.5M372.6 602.6h1.5M397.4 584.7h1.5M395.6 619.4h1.5M387.6 599.9h1.5M393 604.3h1.5M372.9 605.1h1.5M400.5 618.4h1.5M376.8 601.2h1.5M393.5 594.6h1.5M383.6 613h1.5M407.6 601.4h1.5M395.1 594h1.5M376.3 607.7h1.5M375.7 582.8h1.5M401.7 596.6h1.5M395.1 593.3h1.5M392.4 594.7h1.5M385 590.6h1.5M396.9 580.9h1.5M385.3 621.8h1.5M393.1 611.9h1.5M390.3 612.8h1.5M389.4 603.2h1.5M393.3 587.2h1.5M396 616.3h1.5M396.7 604.7h1.5M389.5 603.5h1.5M392.7 597.3h1.5M393.9 589.2h1.5M404.3 596.6h1.5M379.4 612.5h1.5M391.2 597.3h1.5M375.5 614.9h1.5M400.9 598.1h1.5M380.8 597.3h1.5M410.8 602.9h1.5M394.9 586.7h1.5M397.3 608.4h1.5M386.6 597.6h1.5M395.4 608.3h1.5M401 591h1.5M376 602.1h1.5M391.9 585.5h1.5M400.6 606.2h1.5M401.9 583.1h1.5M391.2 621.6h1.5M387.9 591.1h1.5M388.6 614.5h1.5M400.8 611.1h1.5M384.4 598h1.5M390.8 603.1h1.5M383.1 612.6h1.5M375.1 625.2h1.5M385.1 596.2h1.5M395 588h1.5M388.3 611.9h1.5M377.7 615.6h1.5M372 601.1h1.5M383.5 606.1h1.5M384.3 595.5h1.5M400 594.7h1.5M399.4 609.8h1.5M372.1 592h1.5M408.6 603h1.5M393.5 610.8h1.5M384.1 597h1.5M401.8 588.6h1.5M393.3 608.3h1.5M384.6 585.7h1.5M406.8 606.1h1.5M378.4 607.5h1.5M400.3 606.6h1.5M377.9 607.5h1.5M383.3 608.4h1.5M397.9 614.3h1.5M373.2 600h1.5M390.4 613.6h1.5M397.5 604.3h1.5M377.3 598.5h1.5M391.4 591.5h1.5M386.6 610.1h1.5M373.2 599.5h1.5M394.5 620.9h1.5M377.4 605.6h1.5M402.2 614.3h1.5M406.9 583.2h1.5M388 622.4h1.5M397.1 591.8h1.5M416.5 600.5h1.5M413.7 598.3h1.5M396.5 603.7h1.5M389.3 584.6h1.5M376.8 600.1h1.5M383.6 609.2h1.5M376.3 609.5h1.5M355.5 626.7h1.5M404.4 585.8h1.5M361.5 636.1h1.5M381.2 582.8h1.5M381 610.1h1.5M384 604h1.5M373.1 610.2h1.5M395.8 587.3h1.5M373.6 600.6h1.5M419.4 578.8h1.5M399.2 635.9h1.5M409.9 567.4h1.5M408 588.7h1.5M401.6 555.8h1.5M376.4 618h1.5M406.1 593.3h1.5M352.7 621.1h1.5M393.8 616.9h1.5M394.3 599.5h1.5M358.5 613.8h1.5M423.4 562.8h1.5M369.5 634.9h1.5M389.1 601.6h1.5M366.1 628.2h1.5M410.4 591.2h1.5M405.2 597.9h1.5M405 605.3h1.5M379.6 624.4h1.5M356.5 628.2h1.5M365.7 624.5h1.5M390.4 602.5h1.5M394.5 608.7h1.5M387.1 589.9h1.5M385.5 607.2h1.5M347.6 643.1h1.5M406.1 609.8h1.5M370.2 601.3h1.5M367.7 602.3h1.5M386.3 616.4h1.5M354.1 604.3h1.5M357.9 639.8h1.5M400.9 618h1.5M396.3 602.8h1.5M383.4 624.3h1.5M376.9 608.1h1.5M371.6 605.6h1.5M391.8 596.6h1.5M391.7 596.4h1.5M394.1 591.2h1.5M394.1 598.7h1.5M372.7 639.6h1.5M388.7 592.1h1.5M372.4 637.7h1.5M378.8 605.9h1.5M401.9 604.1h1.5M368.3 617.4h1.5M399.1 601.6h1.5M404.5 605.4h1.5M402.2 575.3h1.5M371.3 627.7h1.5M398.6 555.4h1.5M396.2 602.7h1.5M409.5 597.2h1.5M361.1 634.2h1.5M410.1 619.8h1.5M364.3 606.6h1.5M390.3 587.6h1.5M370.3 626.3h1.5M382.1 627.6h1.5M384 611.1h1.5M402.1 600.5h1.5M381.2 602.7h1.5M406.1 582h1.5M392.4 609.8h1.5M380 629.7h1.5M388.9 606.4h1.5M415.1 589.4h1.5M400.2 581.1h1.5" stroke="#86BA1E"/>
<path class="p" d="M453.7 526.9h1.5M459.3 525.9h1.5M456.2 525h1.5M463.2 525.5h1.5M462.5 527.4h1.5M464 526.8h1.5M453.6 525.9h1.5M461.6 526.9h1.5M454.4 527.5h1.5M459.6 529.2h1.5M463.7 524.8h1.5M459.5 524.8h1.5M419.4 546h1.5M434.4 549.7h1.5M444.4 567.4h1.5M447.8 558.5h1.5M424.2 574.8h1.5M425.1 528.8h1.5M438.1 561.1h1.5M447.5 555.9h1.5M432.8 568.7h1.5M445.7 563h1.5M427.8 588.3h1.5M425.1 542.1h1.5" stroke="#F8766D"/>
</g>
<ellipse cx="383.5" cy="560" rx="20.9" ry="22" fill="none" stroke="#1a1a1a" stroke-width="1.5" stroke-dasharray="4.2 2.8"/>
<ellipse cx="389" cy="643.5" rx="20.5" ry="22" fill="none" stroke="#2b6190" stroke-width="1.5" stroke-dasharray="4.2 2.8"/>
<path d="M319.7 519.8V685.8H468.4" fill="none" stroke="#111" stroke-width="1.15"/>
<path d="M315.5 678.7H319.7M326.6 685.8V690M315.5 640.1H319.7M361.2 685.8V690M315.5 601.5H319.7M395.9 685.8V690M315.5 562.8H319.7M430.5 685.8V690M315.5 524.2H319.7M465.1 685.8V690" fill="none" stroke="#111" stroke-width="1.1"/>
<text x="310.9" y="682.2" font-size="8.6" text-anchor="end" fill="#333" font-weight="normal">0</text>
<text x="326.6" y="702.5" font-size="8.6" text-anchor="middle" fill="#333" font-weight="normal">0</text>
<text x="310.9" y="643.6" font-size="8.6" text-anchor="end" fill="#333" font-weight="normal">25</text>
<text x="361.2" y="702.5" font-size="8.6" text-anchor="middle" fill="#333" font-weight="normal">25</text>
<text x="310.9" y="605" font-size="8.6" text-anchor="end" fill="#333" font-weight="normal">50</text>
<text x="395.9" y="702.5" font-size="8.6" text-anchor="middle" fill="#333" font-weight="normal">50</text>
<text x="310.9" y="566.3" font-size="8.6" text-anchor="end" fill="#333" font-weight="normal">75</text>
<text x="430.5" y="702.5" font-size="8.6" text-anchor="middle" fill="#333" font-weight="normal">75</text>
<text x="310.9" y="527.7" font-size="8.6" text-anchor="end" fill="#333" font-weight="normal">100</text>
<text x="465.1" y="702.5" font-size="8.6" text-anchor="middle" fill="#333" font-weight="normal">100</text>
<text transform="translate(394.7 719.6) scale(0.56 1)" font-size="11.9" font-weight="bold" text-anchor="middle" fill="#1a1a1a" textLength="147.3" lengthAdjust="spacing">SHMHARI006PRE VAF</text>
<text transform="translate(287.9 602.8) rotate(-90) scale(0.56 1)" font-size="11.9" font-weight="bold" text-anchor="middle" fill="#1a1a1a" textLength="156.6" lengthAdjust="spacing">SHMHARI006POST VAF</text>
<text x="479.9" y="588.7" font-size="7.2" text-anchor="start" fill="#222" font-weight="normal">cluster</text>
<rect x="483.2" y="594.8" width="1.9" height="1.9" fill="#b36c67"/>
<text x="489.9" y="598.1" font-size="6.4" text-anchor="start" fill="#222" font-weight="normal">1</text>
<rect x="483.2" y="601.2" width="1.9" height="1.9" fill="#74913b"/>
<text x="489.9" y="604.5" font-size="6.4" text-anchor="start" fill="#222" font-weight="normal">2</text>
<rect x="483.2" y="607.6" width="1.9" height="1.9" fill="#2b9497"/>
<text x="489.9" y="610.9" font-size="6.4" text-anchor="start" fill="#222" font-weight="normal">3</text>
<rect x="483.2" y="614" width="1.9" height="1.9" fill="#986fb7"/>
<text x="489.9" y="617.3" font-size="6.4" text-anchor="start" fill="#222" font-weight="normal">4</text>
<rect x="27" y="746" width="237" height="229.4" fill="none" stroke="#222" stroke-width="1.4"/>
<g>
<path class="p" d="M99.1 912.5h1.5M99.3 915.2h1.5M100.4 898.9h1.5M101.8 903.5h1.5M100.2 904h1.5M98 899.1h1.5M100.1 904h1.5M94.3 899h1.5M89.7 908.6h1.5M85.8 906.6h1.5M97.1 912.4h1.5M95.2 892.9h1.5M87.4 899.7h1.5M94 915.1h1.5M102.9 904.7h1.5M90.5 906.8h1.5M104.2 906.6h1.5M97.6 902h1.5M93.3 903.9h1.5M87.8 900.4h1.5M92.3 919.3h1.5M98.3 918.7h1.5M140.8 795.8h1.5M143.1 808.3h1.5M150.2 810.3h1.5M150.8 806.2h1.5M144.3 808.6h1.5M140 798.3h1.5M148.5 810.5h1.5M142.9 801.9h1.5M143.1 812.6h1.5M140.5 795.2h1.5M147.6 803.7h1.5M145.5 797.8h1.5M138.3 810.1h1.5M154.8 805.1h1.5M137.4 806h1.5M148.4 806.9h1.5M139.2 799.3h1.5M139.4 801.1h1.5M147.4 836.7h1.5M139.1 857.4h1.5M149.4 842.6h1.5M138.5 836h1.5M139.2 842.7h1.5M157 843.3h1.5M159.1 845.9h1.5M130.9 862h1.5M152.4 840.3h1.5M139 828.3h1.5M122 846.8h1.5M137 855.5h1.5M136.7 865.9h1.5M139.1 857.4h1.5M159.8 849h1.5M148.5 842.7h1.5M135.3 862.5h1.5M137.8 854.9h1.5M126.5 839.2h1.5M142.4 850.4h1.5M144.2 823h1.5M158.8 854.6h1.5M152.8 863.6h1.5M144.6 852.5h1.5M150.8 823.8h1.5M160.3 851h1.5M143.8 826.3h1.5M141.4 822.6h1.5M149.4 842.3h1.5M135 851.7h1.5M135.9 862.2h1.5M146.1 843.5h1.5M141.7 833.8h1.5M156.9 844.5h1.5M131.3 832.7h1.5M154.9 859.1h1.5M144.6 844.5h1.5M155.3 832.7h1.5M139.1 844.3h1.5M158.2 841.3h1.5M121.4 842.6h1.5M144 855.3h1.5M136.2 825h1.5M124.2 844.2h1.5M155.9 862.4h1.5M141.3 825.2h1.5M127.2 855.1h1.5M137.6 847.4h1.5M129 843.5h1.5M131.7 857.8h1.5M140 855.9h1.5M139.9 852.7h1.5M150.2 860.2h1.5M137.8 831.8h1.5M140.6 867.3h1.5M131.6 860.5h1.5M157 839.5h1.5M140.5 828.1h1.5M152.6 853.1h1.5M133 863.2h1.5M131 857.2h1.5M142.7 864h1.5M137.3 843.4h1.5M130.2 840.4h1.5M137.3 831.2h1.5M125 844.1h1.5M153.6 836.7h1.5M140.2 838.5h1.5M127.6 846.2h1.5M123.6 846.9h1.5M136.2 825.7h1.5M139.4 854.1h1.5M140.2 868.9h1.5M131.7 823.6h1.5M146.2 851.1h1.5M145.1 877.7h1.5M141.3 875.9h1.5M133.9 893.9h1.5M132 885.8h1.5M141.4 885.6h1.5M148.2 889.8h1.5M133.7 887.9h1.5M143.1 894.6h1.5M149.9 894.8h1.5M138.8 879.4h1.5M148.8 879h1.5M132.9 891.1h1.5M137.2 895.2h1.5M141.5 880.1h1.5M140.3 889h1.5M136.7 880.7h1.5M149.1 896.2h1.5M141.3 897.7h1.5" stroke="#b2544e"/>
<path class="p" d="M94.1 904.4h1.5M88.5 910.1h1.5M95.8 896.9h1.5M85.8 903.3h1.5M83.9 902.8h1.5M85.3 903.5h1.5M98.2 907.1h1.5M95.7 914.3h1.5M83.3 906.7h1.5M82.5 911.9h1.5M82.7 908.5h1.5M82.6 909.3h1.5M93.4 898.8h1.5M94.8 916.6h1.5M104.4 918.4h1.5M92.5 913.5h1.5M81.2 907.8h1.5M93.6 894.2h1.5M97.3 897.8h1.5M106.3 910.6h1.5M100.2 900.7h1.5M108.2 903.3h1.5M99.8 910.1h1.5M85.3 903.8h1.5M89.7 917.4h1.5M102.3 910.2h1.5M89.1 914.7h1.5M96.2 906.7h1.5M109.5 909.4h1.5M98.7 908.2h1.5M105 914.3h1.5M96.5 912.9h1.5M91.5 911.1h1.5M89.9 911h1.5M105.8 911.5h1.5M89.1 908.5h1.5M105.6 902.4h1.5M86.1 902.7h1.5M93.3 910.7h1.5M93.5 900.1h1.5M106.3 904.3h1.5M101.8 917.8h1.5M105.9 906.7h1.5M95.2 917.5h1.5M101.7 899.9h1.5M95.5 918.4h1.5M91.5 907.9h1.5M98.1 903.3h1.5M88.1 917.7h1.5M94.3 919.7h1.5M105.4 908.9h1.5M99.3 908.5h1.5M107.9 905.2h1.5M94.9 911.3h1.5M89 899.3h1.5M93.8 905h1.5M86.8 899.9h1.5M88.6 905.1h1.5M100.2 918.5h1.5M84.1 903.2h1.5M88.6 906.9h1.5M102.7 910.3h1.5M103 908.2h1.5M105.8 904.5h1.5M87.7 902.3h1.5M95.9 914.1h1.5M83 905.4h1.5M99.6 906.8h1.5M97.7 906.3h1.5M105.3 909.6h1.5M91 902.9h1.5M111.1 908.8h1.5M98.7 919.7h1.5M96.2 914.5h1.5M90.7 899.7h1.5M94.1 909.2h1.5M102.9 912.4h1.5M97.9 899.1h1.5M84.2 901.2h1.5M101.2 911.7h1.5M89.9 898.3h1.5M95.7 911h1.5M107.2 911.8h1.5M97.6 911.4h1.5M84.3 902.1h1.5M86.7 900.3h1.5M97.1 907.5h1.5M88.8 904h1.5M98.8 910.2h1.5M90.7 903.5h1.5M87.4 901.8h1.5M83.9 908.1h1.5M95.4 903h1.5M103.1 912h1.5M81.5 913.3h1.5M97.7 906.8h1.5M82.4 908.9h1.5M97.1 914.2h1.5M99.1 909.3h1.5M89.4 918.3h1.5M106.9 913.7h1.5M91.4 908.7h1.5M85.6 910.7h1.5M87.6 909.1h1.5M91.4 908.8h1.5M106.6 911.5h1.5M94.5 907.3h1.5M89.2 909.3h1.5M105.1 913.6h1.5M94.5 912.4h1.5M98 909.3h1.5M87.8 907.2h1.5M107.6 917.6h1.5M83.4 907.4h1.5M90.4 920.6h1.5M83.6 903.5h1.5M104.8 899.3h1.5M96.9 918.4h1.5M85.6 898h1.5M86.3 909.4h1.5M104.7 913h1.5M107.9 911.3h1.5M90.8 915.6h1.5M95 906.3h1.5M99.8 901.4h1.5M106.8 911.4h1.5M100.7 910.8h1.5M101.7 910.8h1.5M84.6 918h1.5M81.2 910.7h1.5M87.6 913.5h1.5M85.1 916.9h1.5M81.7 914.5h1.5M86.6 902.8h1.5M84.4 919.5h1.5M81.1 913.5h1.5M95.1 914.2h1.5M86.3 916.3h1.5M80.8 917.4h1.5M85.6 913.4h1.5M85.9 916.8h1.5M83.4 919.5h1.5M81.6 916h1.5M81.2 915.7h1.5M88.8 910.2h1.5M84.4 919.9h1.5M84.8 910.3h1.5M83.3 909.7h1.5M81.1 911.6h1.5M81.3 919.2h1.5M83.8 917.3h1.5M82.1 913.8h1.5M90.5 912.6h1.5M80.9 912.7h1.5M83.7 906.8h1.5M87.2 914.1h1.5M85.6 914.3h1.5M82.1 910.2h1.5M82.7 918.9h1.5M82 916.4h1.5M84.4 904.2h1.5M80.7 907.2h1.5M81.2 919.7h1.5M82.4 919.4h1.5M85.8 910.6h1.5M83.7 918.6h1.5M84.4 919.2h1.5M94.8 917.1h1.5M111.5 892.5h1.5M108.8 888.5h1.5M127.3 875.5h1.5M122.4 884.6h1.5M128.6 861.9h1.5M111.3 893.6h1.5M122 860.4h1.5M105.9 896.5h1.5M110.4 896.6h1.5M130.2 859.4h1.5M123.7 860.3h1.5M102.2 894.5h1.5M115.2 870.1h1.5M92.4 892.7h1.5M117.9 864.1h1.5M99 898.9h1.5M119.3 879.6h1.5M128.7 862h1.5M121 868.5h1.5M107.6 884h1.5M99.6 894.9h1.5M117.5 888.7h1.5M130 873.1h1.5M103.7 886.4h1.5M127.1 861.4h1.5M110.3 871.9h1.5M96.8 899.5h1.5M125.1 866.8h1.5M122.1 864.6h1.5M125.2 875.2h1.5M109.3 894.7h1.5M124 879.5h1.5M92.6 901.6h1.5M126.1 880.7h1.5M93.3 902.8h1.5M91.1 898h1.5M108.9 879.9h1.5M122 862.1h1.5M105.9 891.8h1.5M99.1 900.9h1.5M122.5 880.8h1.5M115.6 865h1.5M109.8 880.9h1.5M131.6 859.6h1.5M116 882.3h1.5M102.6 884.7h1.5M123.5 877.2h1.5M124.6 861.5h1.5M121.5 868.4h1.5M108.5 890.8h1.5M109.6 870.9h1.5M114.7 883.5h1.5M122.4 872.3h1.5M107.7 886.3h1.5M97.2 887.5h1.5M109.7 889h1.5M100.7 882.9h1.5M104.6 878.1h1.5M125.2 880.2h1.5M105.3 878.8h1.5M84.8 865.3h1.5M84.6 871.8h1.5M83.9 864.6h1.5M83.8 868.6h1.5M81.1 883.2h1.5M80.9 881.4h1.5M82.6 871h1.5M83.7 851.3h1.5M150.2 801.8h1.5M144.2 814.3h1.5M142.3 805.8h1.5M150.2 800.1h1.5M140 815h1.5M141.7 787.5h1.5M150.1 804.5h1.5M150.4 812.7h1.5M139 797.1h1.5M145.8 810.6h1.5M138.2 816.2h1.5M146.3 796.1h1.5M139.9 802.7h1.5M147.1 802.7h1.5M137.3 817.2h1.5M152.8 798.6h1.5M137.2 800.7h1.5M150.5 797.7h1.5M132.9 799.4h1.5M144.8 787.3h1.5M147.1 811.9h1.5M152.5 800.9h1.5M141.7 790.5h1.5M146.6 790.1h1.5M144.8 810.4h1.5M139.4 810.8h1.5M144.6 809.9h1.5M144.7 804.4h1.5M139.8 803.2h1.5M145.2 807.8h1.5M139.4 798.4h1.5M135.9 799.2h1.5M140.5 814.8h1.5M144.8 815.2h1.5M142.6 798.5h1.5M142.8 798.4h1.5M143.8 812.3h1.5M151.4 792.1h1.5M146.5 802.2h1.5M148.6 798.7h1.5M144.8 803.6h1.5M137.7 804.2h1.5M142.5 807h1.5M151 805.2h1.5M145.4 796.9h1.5M142.5 815.4h1.5M146.8 817.2h1.5M146.6 796.2h1.5M154 806.5h1.5M149 810.8h1.5M144.9 800.7h1.5M143.2 795.4h1.5M142.8 805.2h1.5M143.4 799.7h1.5M153.9 803.7h1.5M147.6 807.7h1.5M140.9 800.8h1.5M142.4 796h1.5M142.6 814.1h1.5M146.3 796.9h1.5M144.9 804.7h1.5M140.6 791.5h1.5M138 810.5h1.5M148.4 807.4h1.5M145.2 814.3h1.5M136.4 799.4h1.5M141.8 801.1h1.5M150.3 817.9h1.5M145.4 798.2h1.5M140.4 807.2h1.5M140.4 799.6h1.5M139.4 789.5h1.5M137 791.4h1.5M137.6 799.6h1.5M147.6 806.7h1.5M150.9 821h1.5M144.3 796.1h1.5M152.3 807h1.5M138.7 803.2h1.5M136.7 807.7h1.5M148.7 805.3h1.5M141.7 812.9h1.5M139.9 787h1.5M148.7 808.4h1.5M143.2 819.1h1.5M137.5 803h1.5M145 796.4h1.5M139.1 815.8h1.5M145.1 805.1h1.5M144.1 794.4h1.5M133 808.3h1.5M145.9 784h1.5M137.7 802.9h1.5M146.7 817.2h1.5M148.2 795.2h1.5M146.9 805.9h1.5M141.9 790.5h1.5M150.4 797.7h1.5M148.5 798.1h1.5M147.9 803.6h1.5M141.5 800.9h1.5M150.5 797.4h1.5M152.9 864h1.5M127 846.8h1.5M156 847.9h1.5M135.6 853.7h1.5M134.9 849.4h1.5M157.5 831.8h1.5M158 840.7h1.5M132.1 837.9h1.5M139.3 860.9h1.5M134.3 838.2h1.5M132.3 832.6h1.5M132.7 846.4h1.5M136.1 835.9h1.5M139 848h1.5M148.5 831.2h1.5M128.7 858.7h1.5M147.7 845.4h1.5M146.3 843.7h1.5M154.4 846.7h1.5M144.3 842.7h1.5M152.4 869.4h1.5M141.2 846.1h1.5M138.2 846.5h1.5M143.6 849.1h1.5M148.7 836.1h1.5M147.3 842.7h1.5M131.1 839h1.5M151.7 828.4h1.5M130.6 836.9h1.5M143.2 855.3h1.5M159.3 840.2h1.5M131.2 854.8h1.5M133.5 845.5h1.5M149.5 832h1.5M139.1 825.4h1.5M160.5 851.7h1.5M132.1 843h1.5M128.9 849.9h1.5M149.9 838.6h1.5M142.9 847.9h1.5M151.8 855.6h1.5M152.1 852.8h1.5M143.6 858.4h1.5M138 840.4h1.5M147.3 852.6h1.5M135.4 841.4h1.5M126.3 844.9h1.5M153.4 843.2h1.5M147.7 835.6h1.5M148.7 849.1h1.5M134.9 862.4h1.5M147.6 862.9h1.5M142.8 827.8h1.5M156.5 855.9h1.5M155.5 838.8h1.5M141.3 867.1h1.5M155.6 840.4h1.5M156.4 858.6h1.5M130.7 835.8h1.5M128 851.4h1.5M130.9 847.6h1.5M131.3 860.7h1.5M146.1 868h1.5M130.1 855.1h1.5M127.5 833.6h1.5M131.3 853.1h1.5M131.1 834.5h1.5M152.2 859.1h1.5M152.1 834.5h1.5M160.5 851.4h1.5M140.9 854.2h1.5M146.7 857.2h1.5M136.2 836.1h1.5M132.7 830.9h1.5M141.9 850.8h1.5M132.3 845h1.5M158.6 839.7h1.5M128.4 838.1h1.5M138.3 853.8h1.5M154.4 853.9h1.5M139 834.8h1.5M152.2 860h1.5M139.9 843.2h1.5M156 848.4h1.5M133 839.2h1.5M126.4 834.9h1.5M147.3 844.2h1.5M133.7 839.9h1.5M149.4 845.4h1.5M142.7 851.1h1.5M141.4 848.9h1.5M133.5 861.4h1.5M135.3 824.5h1.5M137.3 828.8h1.5M138 856.6h1.5M132.8 868.4h1.5M122.2 844.8h1.5M145.8 857.4h1.5M140.6 827.2h1.5M144.4 868.5h1.5M131.4 834.3h1.5M142.4 846.8h1.5M153.1 847.2h1.5M134 843.1h1.5M139.3 836.3h1.5M136.4 852.6h1.5M144.8 867.2h1.5M143.5 865h1.5M138.9 832h1.5M130.7 853.6h1.5M156.9 852.7h1.5M157.4 835.9h1.5M129.1 847.1h1.5M128.1 836h1.5M132.1 832.9h1.5M146 842.7h1.5M161.1 844.2h1.5M153.6 858.8h1.5M145.1 860h1.5M128.8 856.5h1.5M140.1 854.2h1.5M154.2 829.7h1.5M125.9 841.8h1.5M147.3 864.7h1.5M158.9 849.3h1.5M145.6 865.9h1.5M151.3 836.8h1.5M163.1 842.8h1.5M133.6 856.6h1.5M157.6 842.9h1.5M132.6 835.1h1.5M134.2 836.9h1.5M155.5 835.6h1.5M151.3 852.9h1.5M129.9 859h1.5M137.6 858.7h1.5M137.2 854.2h1.5M130.4 863.1h1.5M160.7 842.9h1.5M152.8 849.6h1.5M148.1 835.6h1.5M134.6 833.7h1.5M128.1 853h1.5M124 834.9h1.5M149.6 865.1h1.5M127 846.3h1.5M128.6 849.5h1.5M147.6 865.8h1.5M132.8 865.8h1.5M148.2 841.1h1.5M133.3 848.5h1.5M157.6 863.1h1.5M131.9 840.9h1.5M136 851h1.5M141.8 858h1.5M160.8 849.3h1.5M141.2 834.9h1.5M125.3 837.1h1.5M125.2 852.6h1.5M132.6 850.3h1.5M158 838.4h1.5M142.5 831h1.5M120.4 851.4h1.5M138.3 839.5h1.5M141.3 859.1h1.5M130.5 847.1h1.5M133.3 838.2h1.5M150.8 834.6h1.5M147.4 863.5h1.5M130.6 845.5h1.5M127.9 835h1.5M155 860.5h1.5M134.8 849.8h1.5M139.2 831.8h1.5M142.5 861h1.5M148.7 859.1h1.5M131.9 834.8h1.5M125.1 842.7h1.5M124.3 842.3h1.5M155 833.1h1.5M148.9 849.7h1.5M127.2 850.8h1.5M140 829.3h1.5M153 836.6h1.5M137.7 847.4h1.5M132.5 833.9h1.5M135.5 866.7h1.5M132.2 852h1.5M126.8 838.9h1.5M127.3 856.2h1.5M144.6 854.4h1.5M140 834h1.5M159.5 839.3h1.5M124.7 847.3h1.5M135.5 848.6h1.5M141.9 864.4h1.5M134.1 846.1h1.5M146.5 831.3h1.5M155.1 856.8h1.5M157.3 835.6h1.5M149.8 848.4h1.5M160.5 834.6h1.5M141 850.1h1.5M135.1 829.4h1.5M142.2 829.5h1.5M125.5 846.2h1.5M158 851.9h1.5M159.5 845.8h1.5M143.4 842.1h1.5M135.6 845h1.5M152.6 830h1.5M129.7 860.9h1.5M139.9 843.7h1.5M127.1 849.6h1.5M147.4 829.7h1.5M146.9 857.4h1.5M130 829.4h1.5M145.7 849.7h1.5M140.2 847.9h1.5M151.1 828h1.5M149.3 841.6h1.5M147 827.9h1.5M156.7 847.1h1.5M132.9 849.5h1.5M145.4 866.2h1.5M149.3 845.9h1.5M138.5 845.7h1.5M135.1 829.3h1.5M143.3 857.3h1.5M144.9 857.8h1.5M142.4 841.4h1.5M151.9 856h1.5M140.9 843h1.5M159.8 845.7h1.5M140.7 846h1.5M125.5 841.3h1.5M149.6 837.1h1.5M139.6 870h1.5M128.9 843.3h1.5M141.5 826.2h1.5M150.4 832.6h1.5M146.3 845.4h1.5M158.6 854.2h1.5M144 829.7h1.5M152.1 856.9h1.5M150 847.1h1.5M142.6 840.5h1.5M124.6 843h1.5M151.2 831.7h1.5M158.3 840.4h1.5M147.8 860.3h1.5M139.7 852.9h1.5M135.2 856.9h1.5M151.8 844.1h1.5M135.6 835.3h1.5M146.4 849.3h1.5M139.2 843.7h1.5M128.8 849.9h1.5M136.4 829h1.5M144.1 834.1h1.5M127.9 840.9h1.5M130.6 856.8h1.5M137.2 850.3h1.5M133.6 840.2h1.5M144.6 827.4h1.5M145.1 854.1h1.5M121.1 840.1h1.5M154.2 854.1h1.5M130 862.8h1.5M129.5 857.3h1.5M158.6 840.6h1.5M150.6 829.5h1.5M150.5 850.8h1.5M147.7 866.7h1.5M162.9 849h1.5M131.9 856.1h1.5M155 851.1h1.5M155.3 851.6h1.5M151.6 841.4h1.5M136.2 833h1.5M158.1 854h1.5M159.4 837.7h1.5M127.3 860.8h1.5M146.6 852.2h1.5M139.9 833.1h1.5M153 837.6h1.5M149.8 855.3h1.5M131.5 854.3h1.5M143.9 839h1.5M147.5 858.7h1.5M127.5 859.9h1.5M144.2 854.3h1.5M129.4 844.5h1.5M149.5 851.9h1.5M144 834.2h1.5M133.7 842.5h1.5M153.8 833.6h1.5M150.3 840.2h1.5M148 840.6h1.5M152.1 861.4h1.5M136.6 862.4h1.5M149.6 850.1h1.5M124.3 837.2h1.5M133.4 867.5h1.5M137.1 830.7h1.5M137.5 842.5h1.5M140.5 826.8h1.5M125.4 836.8h1.5M124.4 847h1.5M141.3 844.9h1.5M135.3 830.5h1.5M127 841.3h1.5M140.1 843.4h1.5M134.3 857.5h1.5M128.9 831.1h1.5M131.1 862.5h1.5M142.2 847.6h1.5M155.9 830.6h1.5M158.1 847.1h1.5M129.9 832.7h1.5M155.4 848.6h1.5M147.5 843.6h1.5M130.3 868.9h1.5M133 839.1h1.5M132.3 851.7h1.5M128.4 840.9h1.5M155.7 843.7h1.5M152 863.3h1.5M140.8 856.9h1.5M144.1 860.2h1.5M135.3 862h1.5M139.6 849.5h1.5M137.7 849.7h1.5M154.8 851.7h1.5M146.7 834.9h1.5M128.4 842.4h1.5M135.2 841.1h1.5M129 833.2h1.5M132.7 828.9h1.5M145.4 855.3h1.5M150.9 839.3h1.5M150.8 855.7h1.5M155.2 850.7h1.5M149.4 851.7h1.5M135.2 863.3h1.5M125.7 831h1.5M126.8 851.2h1.5M151.8 835h1.5M152.8 844.3h1.5M140.2 830.9h1.5M154.8 825.8h1.5M153.6 852.2h1.5M140.5 861.8h1.5M142.9 869.6h1.5M127.7 836.5h1.5M139.1 836.2h1.5M134 857.9h1.5M158.3 858.2h1.5M154.8 837.5h1.5M144.9 849.5h1.5M152.7 846.4h1.5M133.9 826.5h1.5M127.9 851.7h1.5M151.9 860.5h1.5M153.5 833.2h1.5M158.2 854.5h1.5M128.8 856.5h1.5M126.4 837.1h1.5M140.5 853.9h1.5M154.1 851.7h1.5M146.5 841.9h1.5M147.9 839.1h1.5M131.6 845.6h1.5M131.5 831h1.5M145.3 840.4h1.5M154.6 829.8h1.5M128.3 864.8h1.5M149.9 856.2h1.5M136.6 824.2h1.5M145.9 863.8h1.5M137.9 825.8h1.5M126.6 845h1.5M128.3 863.5h1.5M134.4 843.8h1.5M155.4 845.8h1.5M130.3 864.8h1.5M146.4 829.4h1.5M142.8 841.8h1.5M137.3 837.5h1.5M134.6 870.9h1.5M135.2 865.2h1.5M128.1 842.6h1.5M146.7 856h1.5M140 856.8h1.5M143.8 835.2h1.5M147.1 862.2h1.5M134 852h1.5M155.7 830.3h1.5M133.1 840.6h1.5M137.8 860.9h1.5M150.3 841.5h1.5M145.6 828.5h1.5M143.6 866.3h1.5M135.9 860.7h1.5M124.7 857.4h1.5M152.5 847.4h1.5M156 854.4h1.5M147.9 852.9h1.5M152.3 844.6h1.5M129.9 850.1h1.5M161.5 853.6h1.5M131.8 842.1h1.5M150.1 853.3h1.5M152.8 841.9h1.5M151.5 833.2h1.5M140.4 837.4h1.5M138.9 836.1h1.5M150.9 833.8h1.5M158.9 831.2h1.5M134 844.4h1.5M126.7 834.6h1.5M146.9 861.7h1.5M125.8 847h1.5M138.4 854.1h1.5M145.9 837.6h1.5M151.9 827.2h1.5M135.9 899.1h1.5M111.1 878.5h1.5M127.2 850.9h1.5M168.7 825h1.5M138.4 828.7h1.5M137.7 836.8h1.5M145.7 876.9h1.5M154.3 814.6h1.5M135.5 839.3h1.5M147.8 849.6h1.5M135.1 835.8h1.5M131.3 861.8h1.5M152.6 828.5h1.5M162.8 847.3h1.5M121.5 840.9h1.5M118.6 865.9h1.5M137.4 823.3h1.5M141 867.6h1.5M140.2 828.1h1.5M114.8 881.9h1.5M155.2 839.8h1.5M126.1 859h1.5M141.6 866.4h1.5M132.4 829.9h1.5M145.1 829h1.5M140.1 857.8h1.5M145 861.1h1.5M145.8 851.1h1.5M136.4 855h1.5M127 833.8h1.5M119.1 855.6h1.5M122.6 843.3h1.5M137.4 847.4h1.5M147.3 839.9h1.5M143.2 841.8h1.5M145.5 853.6h1.5M136.4 854.6h1.5M130.4 862.1h1.5M159.4 862.2h1.5M164.6 845.4h1.5M149.5 844.5h1.5M138 841.2h1.5M164.8 839h1.5M140.2 857.4h1.5M169.4 816.5h1.5M156.6 840.5h1.5M113.8 854.1h1.5M115.3 870.7h1.5M154.4 851.2h1.5M130.9 886.6h1.5M150.8 837.4h1.5M133.7 846.4h1.5M117.8 874.3h1.5M143.4 833.7h1.5M140.2 868.2h1.5M133.7 834.7h1.5M132.1 848.9h1.5M146.7 854.4h1.5M140.9 876.6h1.5M132.4 852.2h1.5M149.6 824.2h1.5M133.8 844.7h1.5M138.8 861.9h1.5M129.5 855.1h1.5M140.7 860.5h1.5M179.4 830.6h1.5M149.9 848.5h1.5M180 864.7h1.5M135.5 848.4h1.5M145.1 888.4h1.5M148.3 890.6h1.5M145.9 884.4h1.5M151.2 892.9h1.5M141.3 896h1.5M142.7 888.8h1.5M137.2 880.3h1.5M133.5 896.1h1.5M146.7 880.8h1.5M146.4 894.3h1.5M141.9 884.1h1.5M143.2 886.1h1.5M145.7 880.7h1.5M151.8 881.8h1.5M141.7 884.8h1.5M139.9 873.9h1.5M144.3 889.7h1.5M136.4 890.8h1.5M135.8 884.6h1.5M139.2 877.8h1.5M138.1 890.1h1.5M153.1 881.9h1.5M135.2 883.9h1.5M134.4 896.4h1.5M153.4 880.5h1.5M139.6 881.9h1.5M138.3 898h1.5M148.4 889.1h1.5M144.5 872.7h1.5M144 885.4h1.5M149.6 882.1h1.5M138.3 881.7h1.5M152 891.6h1.5M140.7 879.6h1.5M154.1 885.8h1.5M151 880.4h1.5M133.2 879.9h1.5M148.1 884.8h1.5M144 885.1h1.5M143.4 897.6h1.5M142.6 883.9h1.5M142.7 892.3h1.5M142.4 887h1.5M135.4 893.3h1.5M148 892.3h1.5M132.5 892.6h1.5M139.4 890.8h1.5M146.1 882.7h1.5M133.2 883.7h1.5M147.7 889.2h1.5M145.6 894.6h1.5M135 885.2h1.5M153.2 880.7h1.5M143.4 889.1h1.5M140.8 874h1.5M151.2 883.9h1.5M144.3 883.8h1.5M147.3 883.6h1.5M147.5 880.2h1.5M141.2 892.5h1.5M145.3 882.6h1.5M150.4 878.7h1.5M144 882.7h1.5M147.6 887.5h1.5M144.6 892.5h1.5M151.6 895.4h1.5M141.9 883.4h1.5M139.4 891.4h1.5M134.2 893.4h1.5M140.8 894.3h1.5M137.5 882.7h1.5M136.2 881h1.5M139.9 873h1.5M146.1 899.1h1.5M141.7 879.4h1.5M146.7 881.6h1.5M144.4 896.8h1.5M134.8 877.3h1.5M148 885.6h1.5M142.4 882.4h1.5M151.2 880.4h1.5M145 887.8h1.5M135 881.8h1.5M138.9 879.2h1.5M145.3 885.5h1.5M136.7 884.1h1.5M138.5 895.8h1.5M139.9 898.2h1.5M144.7 880.2h1.5M140.1 890.1h1.5M141.3 873.8h1.5M137.3 889.9h1.5M140.3 882.4h1.5M140.9 877h1.5M140.6 880.1h1.5M135.9 877.5h1.5M155.1 887.2h1.5M144.2 896.7h1.5M137.3 892.8h1.5M137.2 875.6h1.5M150.3 891.6h1.5M133.4 879.9h1.5M126.9 853.6h1.5M144.3 834.7h1.5M196.4 839.3h1.5M171.5 817.7h1.5M176 796.1h1.5M162.5 857.2h1.5M145 801.4h1.5M192.3 806.4h1.5M197 819.7h1.5M136 833h1.5M157.3 814.3h1.5M167.9 855.2h1.5M174 848h1.5M157 820.5h1.5M165 823.5h1.5M141.5 838.3h1.5M169.4 845.7h1.5M129.5 893.1h1.5M152 855.8h1.5M151.7 859.6h1.5M143.3 843.9h1.5M169.5 855.4h1.5M129 833h1.5M167.1 856.3h1.5M161.2 835.3h1.5M161 877.9h1.5M153.3 841.4h1.5M155.4 851.1h1.5M149.2 885.3h1.5M151.1 804.6h1.5M206.9 769.2h1.5M207.2 766.6h1.5M205.5 772.3h1.5M204.8 770.7h1.5M206.7 767.8h1.5M205.4 771.4h1.5M208.1 767.3h1.5M205.3 767.9h1.5M164.6 769.7h1.5M198.2 819.9h1.5M173.2 802.4h1.5M166.3 779.1h1.5M184.2 777.6h1.5M196 792.2h1.5M192.2 766.8h1.5M175.5 817.9h1.5M183.1 823.7h1.5M189.6 771.3h1.5M188.1 812.5h1.5M187.3 792.6h1.5M165.2 784.6h1.5M174.6 815.2h1.5" stroke="#F8766D"/>
<path class="p" d="M82.2 877.7h1.5M85.6 886.7h1.5" stroke="#00BFC4"/>
</g>
<ellipse cx="150.4" cy="803" rx="21.1" ry="22.1" fill="none" stroke="#1a1a1a" stroke-width="1.5" stroke-dasharray="4.2 2.8"/>
<ellipse cx="150.2" cy="888.5" rx="21.2" ry="22.2" fill="none" stroke="#2b6a9a" stroke-width="1.5" stroke-dasharray="4.2 2.8"/>
<path d="M74.7 762.2V928.3H219" fill="none" stroke="#111" stroke-width="1.15"/>
<path d="M70.5 920.9H74.7M81.2 928.3V932.5M70.5 882.2H74.7M113.4 928.3V932.5M70.5 843.6H74.7M145.6 928.3V932.5M70.5 804.9H74.7M177.7 928.3V932.5M70.5 766.3H74.7M209.9 928.3V932.5" fill="none" stroke="#111" stroke-width="1.1"/>
<text x="65.9" y="924.4" font-size="8.6" text-anchor="end" fill="#333" font-weight="normal">0</text>
<text x="81.2" y="945" font-size="8.6" text-anchor="middle" fill="#333" font-weight="normal">0</text>
<text x="65.9" y="885.8" font-size="8.6" text-anchor="end" fill="#333" font-weight="normal">25</text>
<text x="113.4" y="945" font-size="8.6" text-anchor="middle" fill="#333" font-weight="normal">25</text>
<text x="65.9" y="847.1" font-size="8.6" text-anchor="end" fill="#333" font-weight="normal">50</text>
<text x="145.6" y="945" font-size="8.6" text-anchor="middle" fill="#333" font-weight="normal">50</text>
<text x="65.9" y="808.4" font-size="8.6" text-anchor="end" fill="#333" font-weight="normal">75</text>
<text x="177.7" y="945" font-size="8.6" text-anchor="middle" fill="#333" font-weight="normal">75</text>
<text x="65.9" y="769.8" font-size="8.6" text-anchor="end" fill="#333" font-weight="normal">100</text>
<text x="209.9" y="945" font-size="8.6" text-anchor="middle" fill="#333" font-weight="normal">100</text>
<text transform="translate(148.3 962.1) scale(0.56 1)" font-size="11.9" font-weight="bold" text-anchor="middle" fill="#1a1a1a" textLength="147.3" lengthAdjust="spacing">SHMHARI005PRE VAF</text>
<text transform="translate(42.9 845.2) rotate(-90) scale(0.56 1)" font-size="11.9" font-weight="bold" text-anchor="middle" fill="#1a1a1a" textLength="156.6" lengthAdjust="spacing">SHMHARI005POST VAF</text>
<text x="225.9" y="836.2" font-size="9.2" text-anchor="start" fill="#222" font-weight="normal">GOI</text>
<rect x="226.9" y="843.1" width="1.9" height="1.9" fill="#b36c67"/>
<text x="233.1" y="846.9" font-size="7.8" text-anchor="start" fill="#222" font-weight="normal">FALSE</text>
<rect x="226.9" y="851.4" width="1.9" height="1.9" fill="#2b9497"/>
<text x="233.1" y="855.1" font-size="7.8" text-anchor="start" fill="#222" font-weight="normal">TRUE</text>
<rect x="273.5" y="746" width="237" height="229.4" fill="none" stroke="#222" stroke-width="1.4"/>
<g>
<path class="p" d="M337.4 918.3h1.5M341.3 920.7h1.5M330.8 907.6h1.5M338.7 915.9h1.5M333.8 909.6h1.5M338.5 904h1.5M336.4 907.9h1.5M333.1 920.6h1.5M337.1 905.9h1.5M348.4 913.1h1.5M337.8 909.1h1.5M330.5 916.6h1.5M337.4 896.6h1.5M336.2 903.6h1.5M334.9 915h1.5M344 916.6h1.5M352.3 920.2h1.5M330.9 909h1.5M341.8 912.7h1.5M355 912.6h1.5M332 916.9h1.5M348.6 895.2h1.5M372.6 870.3h1.5M346.6 900.4h1.5M365.9 866.8h1.5M352 882h1.5M335 903h1.5M356 895.8h1.5M342.4 910.8h1.5M357 893.3h1.5M361.4 879.7h1.5M335 908h1.5M351.7 892.4h1.5M350.2 887.7h1.5M391.6 863.6h1.5M401.8 837.7h1.5M383.8 831.3h1.5M395.7 840h1.5M402.2 848h1.5M381 836.3h1.5M388.6 855.9h1.5M383.2 858h1.5M372.4 834.6h1.5M378.1 858.3h1.5M379.4 858.4h1.5M389.8 828.9h1.5M385.1 832.9h1.5M375.3 836.9h1.5M393.6 861.4h1.5M399.7 842.1h1.5M406.5 844.8h1.5M387.4 835.3h1.5M385.3 853.3h1.5M400.3 857.1h1.5M403.5 849.6h1.5M389.7 841.8h1.5M405.1 857.1h1.5M377.2 854.5h1.5M378.5 834.1h1.5M381 853.3h1.5M386.6 860.5h1.5M388.4 842h1.5M392 860.2h1.5M384.4 843.1h1.5M376 846.3h1.5M397.6 844h1.5M404.6 842.8h1.5M387.7 856.9h1.5M390.1 823.3h1.5M388 849h1.5M382.6 852.1h1.5M389.3 852.9h1.5M395.5 842.2h1.5M402.1 834.3h1.5M398.8 836h1.5M383.1 840.4h1.5M382.4 851.1h1.5M396.3 856.4h1.5M385.6 832.4h1.5M390.8 866.8h1.5M379 853.7h1.5M402.1 841.1h1.5M376.1 847.2h1.5M375.3 853.1h1.5M392 843h1.5M400.1 833.7h1.5M400.5 849.4h1.5M395.4 861.5h1.5M398.2 834.1h1.5M374.1 851.8h1.5M393.7 845.8h1.5M380.1 839.6h1.5M392 841.5h1.5M372.6 843.2h1.5M388.6 864h1.5M390.2 852.9h1.5M372.5 850.7h1.5M382.2 852.5h1.5M402.9 846h1.5M393.7 845.9h1.5M394.9 840.8h1.5M392.3 864.3h1.5M379.6 857.4h1.5M379.3 828.7h1.5M384.9 842.4h1.5M396.2 843.5h1.5M393.9 850.8h1.5M396.9 838.9h1.5M383.9 866.3h1.5M392.2 796.5h1.5M384.5 842.1h1.5M378.4 804.1h1.5M366.7 871.1h1.5M360.5 856.1h1.5M388.6 842.6h1.5M386.3 827.3h1.5M405.4 821.2h1.5M349.3 886.6h1.5M387.9 836.2h1.5M348.5 850.2h1.5" stroke="#b2544e"/>
<path class="p" d="M344.6 907.5h1.5M339.5 903.1h1.5M350.9 914.5h1.5M335.2 908.8h1.5M330 911.4h1.5M330.1 915.4h1.5M336.4 911.6h1.5M350.2 918.8h1.5M338.9 911.8h1.5M337.2 910h1.5M341.2 898.3h1.5M345.8 915.4h1.5M330.2 917.7h1.5M354.1 908.6h1.5M335.7 909.9h1.5M346.4 910.1h1.5M342.7 903.1h1.5M356.2 908.8h1.5M329.4 907.3h1.5M338.1 903.4h1.5M345.8 914.4h1.5M339.8 906.5h1.5M333.8 914.7h1.5M338.5 911.5h1.5M349.6 908h1.5M328.8 915.7h1.5M339 903.9h1.5M331.8 908.4h1.5M330.7 906.2h1.5M354.1 915.5h1.5M331.8 913.5h1.5M336.8 913.7h1.5M340.1 903.3h1.5M340.7 913.4h1.5M344.9 902.1h1.5M329.6 913.5h1.5M335.8 907.2h1.5M332.6 909.3h1.5M331.1 901.1h1.5M337.5 902.6h1.5M345 915.2h1.5M340.5 912.9h1.5M333.3 907.1h1.5M343.9 902.1h1.5M344.9 907h1.5M342.9 904.3h1.5M346.4 905.7h1.5M339.5 903.4h1.5M346.7 905.9h1.5M339.9 906.3h1.5M349.6 919h1.5M334.8 896h1.5M337.4 907.1h1.5M343.5 911.7h1.5M335 906.1h1.5M347.3 906.9h1.5M333.7 905.1h1.5M353.1 917.6h1.5M339.2 905.3h1.5M332.8 917.8h1.5M341.8 908.9h1.5M334.9 907h1.5M331.2 911.3h1.5M349.8 916.1h1.5M339.2 918.1h1.5M334.9 906.6h1.5M347.2 918.4h1.5M338 914.8h1.5M330.1 918.5h1.5M350 907.5h1.5M329.4 900.9h1.5M339.5 916.1h1.5M349.3 918.8h1.5M330.6 913.9h1.5M348.8 909.2h1.5M354.5 919.9h1.5M334.8 906.5h1.5M346 914.9h1.5M337.8 915h1.5M334.2 912h1.5M338.1 906.3h1.5M351.4 909.6h1.5M342.7 909.1h1.5M344.1 902.1h1.5M340.1 907.4h1.5M328.1 902.5h1.5M348.6 912.2h1.5M330 918.6h1.5M340.1 910.5h1.5M337 909.2h1.5M343 903.2h1.5M334.4 904.1h1.5M344.9 919.6h1.5M342.8 914.5h1.5M353.5 911.1h1.5M348.5 906.8h1.5M332.3 913.3h1.5M342.5 915.9h1.5M339.9 905.3h1.5M334.5 913.5h1.5M340.6 905.8h1.5M332 910.6h1.5M343.7 913.5h1.5M346.5 911.1h1.5M352.8 902.3h1.5M334.3 911.9h1.5M335.2 903.5h1.5M345 905.9h1.5M332.3 909.7h1.5M346.1 917.2h1.5M332.6 909.4h1.5M331.6 908h1.5M342.3 916.9h1.5M341.3 918.8h1.5M332.2 914.5h1.5M345.3 903.7h1.5M351.2 906.7h1.5M331.9 903.2h1.5M351.7 913.3h1.5M333.5 912.1h1.5M330.8 919.8h1.5M331.6 914.5h1.5M342.7 914.1h1.5M341.9 912.3h1.5M343.8 914.5h1.5M335.5 917.6h1.5M333 918.6h1.5M331.9 917h1.5M330.6 911.8h1.5M333.8 919.3h1.5M339.7 907.2h1.5M330.4 911h1.5M338.5 916.3h1.5M329.6 909.5h1.5M335.5 918.7h1.5M328.8 917.5h1.5M337.4 913.3h1.5M329.4 918.5h1.5M332 920.1h1.5M330.2 917.7h1.5M330.9 915.8h1.5M332.5 919.5h1.5M345.9 918.6h1.5M335.7 915.8h1.5M328.5 913.3h1.5M338.5 917.5h1.5M334.4 899.8h1.5M331.4 918.8h1.5M334.9 917.5h1.5M330.9 920.5h1.5M329.3 919.2h1.5M331.3 907.6h1.5M332.5 919.9h1.5M335.7 913.5h1.5M332.6 920.1h1.5M332.8 915.4h1.5M336.9 918.9h1.5M339.5 920.4h1.5M328.7 917.9h1.5M357.5 898.7h1.5M349.3 901.8h1.5M364.5 884.6h1.5M367.6 880.9h1.5M365.2 875.9h1.5M344.3 904.4h1.5M340.3 899.2h1.5M336.4 904.2h1.5M337.6 901.5h1.5M371.4 884.7h1.5M354 889.6h1.5M372.4 870.4h1.5M359.4 896.3h1.5M368.1 867.5h1.5M353.4 903.8h1.5M352.9 897.1h1.5M357.9 885.3h1.5M350.2 897.3h1.5M346.3 891.5h1.5M334.3 909.6h1.5M337.8 903.7h1.5M343.7 897.5h1.5M361.4 894.8h1.5M344.5 896.5h1.5M339.6 900.3h1.5M370.4 884.7h1.5M350 907.9h1.5M364.3 869.1h1.5M337.9 905.6h1.5M357.4 886.6h1.5M341.5 898.7h1.5M346.3 908.6h1.5M357.3 897.6h1.5M355.2 893h1.5M342.1 903.7h1.5M356.2 893.7h1.5M359.9 886.1h1.5M358.5 892.7h1.5M363.2 890.8h1.5M341.3 896.3h1.5M347 908.2h1.5M343.7 907.8h1.5M352.8 883.8h1.5M336.4 904.6h1.5M345.5 909.8h1.5M340.1 909.9h1.5M334.8 904.6h1.5M370.7 868.9h1.5M357.4 880.8h1.5M356.3 885.9h1.5M363.5 886.4h1.5M342.7 905.2h1.5M369.9 866.3h1.5M346.8 904.9h1.5M357.8 883.6h1.5M348.9 896h1.5M361.5 894.6h1.5M374.5 866.1h1.5M364.7 887h1.5M357.4 881.8h1.5M369.1 866h1.5M360.1 891.5h1.5M364.2 878.8h1.5M337.8 912.1h1.5M360.9 888h1.5M359 895.5h1.5M350.6 886.2h1.5M372.5 878.4h1.5M363.3 890h1.5M360.6 892.8h1.5M357.6 875.7h1.5M357.4 888.6h1.5M367.8 883.2h1.5M347.6 887.2h1.5M363.1 883.9h1.5M339.8 905.6h1.5M352.3 895.5h1.5M328.9 892.5h1.5M330.7 893.9h1.5M330.9 887h1.5M329.2 878.3h1.5M329.1 875.8h1.5M375.6 848.9h1.5M389.6 857.8h1.5M387.5 845.7h1.5M401.3 836.3h1.5M388.4 854.5h1.5M394.9 842.6h1.5M383.5 827.6h1.5M388.3 852.1h1.5M391.5 842.8h1.5M374.3 853.6h1.5M379.6 828.4h1.5M376.3 845.5h1.5M384.8 846.1h1.5M374.5 844.2h1.5M395.7 849.9h1.5M390.2 863.1h1.5M380.8 847.4h1.5M387.3 861.5h1.5M395 855.2h1.5M392.3 843h1.5M390.7 873.4h1.5M386.5 854.1h1.5M386.5 845.3h1.5M397.1 863.5h1.5M387.8 839.6h1.5M401 847.6h1.5M382.2 830.1h1.5M391.1 856h1.5M386.4 859h1.5M403.7 839.5h1.5M395.5 829.7h1.5M384.8 863.4h1.5M388.3 850.3h1.5M381.3 860.6h1.5M398.1 844.8h1.5M386.2 852.5h1.5M375.7 837.1h1.5M402.2 839h1.5M380.5 831.7h1.5M397.6 835.1h1.5M400.7 863.3h1.5M381.3 831.7h1.5M379.6 830.9h1.5M396.1 834.6h1.5M399.2 858.6h1.5M371.3 848.3h1.5M385.4 848.5h1.5M381.4 864h1.5M380.8 859.4h1.5M379.9 828.4h1.5M399.6 827.6h1.5M398.7 854.3h1.5M381.4 854.9h1.5M393.1 834.9h1.5M397.8 828.3h1.5M369 844.3h1.5M393.9 842.7h1.5M376.3 831.2h1.5M384.5 831.9h1.5M375.6 862.4h1.5M394.1 853.8h1.5M385.2 856.9h1.5M399.8 851.2h1.5M402.4 839.7h1.5M380.8 837.2h1.5M392.8 861h1.5M385.5 834.2h1.5M375.3 851.1h1.5M389.9 832.3h1.5M387.7 828.2h1.5M393.6 832.5h1.5M387.3 867.2h1.5M402.1 850.3h1.5M378.7 847.6h1.5M382.4 848.3h1.5M389.3 857.3h1.5M380.2 842.3h1.5M389 855.3h1.5M372.8 853.3h1.5M399.7 854.9h1.5M392.1 839.5h1.5M390.1 825.9h1.5M403.9 855.5h1.5M386.9 854.1h1.5M378.5 842.4h1.5M380.5 859.7h1.5M389.4 837.1h1.5M397.7 859.6h1.5M400.7 846.3h1.5M392.9 831.3h1.5M397.7 848.6h1.5M401.5 845.2h1.5M398.2 856.1h1.5M403.4 831.1h1.5M393.9 849.6h1.5M376.9 857.3h1.5M391.6 838.8h1.5M388.9 854.8h1.5M379 837.3h1.5M373.3 839.7h1.5M399.2 848.4h1.5M384.1 850.9h1.5M390.2 864.1h1.5M393.4 862.5h1.5M392.1 831h1.5M388.6 826.3h1.5M393.9 828.7h1.5M389 865.9h1.5M392.4 852.5h1.5M378.3 846.4h1.5M380.8 831h1.5M376.8 857.4h1.5M393.9 832.2h1.5M384.2 846.1h1.5M374 849.1h1.5M373.9 840.9h1.5M398.7 831.9h1.5M384.3 832.7h1.5M385.9 868.7h1.5M385.5 847.2h1.5M383.5 858.2h1.5M394.9 849.1h1.5M374.5 851.5h1.5M397 851.4h1.5M386.2 860.6h1.5M377.8 847.8h1.5M376.3 849h1.5M380.8 857.7h1.5M399.6 843.6h1.5M375.3 836.3h1.5M390.6 858.6h1.5M380.3 862.4h1.5M398.4 856.2h1.5M396.5 852.6h1.5M382.3 841h1.5M398.3 842.5h1.5M382.9 859.5h1.5M401.2 850.1h1.5M402.9 850.1h1.5M400 851.9h1.5M383.8 832.9h1.5M392.1 845.8h1.5M391.6 855.7h1.5M373.9 844h1.5M390.6 859.7h1.5M377.3 853h1.5M376.1 830.3h1.5M379.7 836.4h1.5M398.4 852.7h1.5M401.5 839.6h1.5M369.4 841.1h1.5M386.9 829.1h1.5M375 844.3h1.5M381.9 839.5h1.5M392.5 863h1.5M387.6 833.2h1.5M379.4 858.2h1.5M390.2 827.7h1.5M399 840.1h1.5M386.9 832.2h1.5M399.6 850.1h1.5M383.4 838h1.5M387.4 831.9h1.5M396.3 862h1.5M390.5 834.4h1.5M395.4 842.1h1.5M401.2 857.6h1.5M387.5 850.7h1.5M398.4 859.5h1.5M394.4 852h1.5M377.3 843.1h1.5M388.4 835.8h1.5M375.8 836.2h1.5M394.4 846.8h1.5M374.7 840.8h1.5M376.8 841.1h1.5M384.3 845.1h1.5M385.3 840h1.5M392.7 836.7h1.5M385.1 833h1.5M374.9 828.9h1.5M393.6 828.4h1.5M389.7 829.2h1.5M382 829h1.5M382.3 849.3h1.5M396.4 856h1.5M394.8 859.1h1.5M389.6 821.8h1.5M386.4 835.4h1.5M376 846.3h1.5M390.7 847.9h1.5M392 852.2h1.5M378.2 839.2h1.5M394.9 851.1h1.5M397.4 838.6h1.5M387.5 843h1.5M370.3 842.2h1.5M398.6 860.1h1.5M380.3 841.2h1.5M377.8 831.1h1.5M381.1 845.9h1.5M377.6 858.1h1.5M394 828.4h1.5M376.4 832h1.5M395 853.2h1.5M389 844.3h1.5M374.2 851.1h1.5M383.5 856.7h1.5M379.8 837.6h1.5M395.4 829.3h1.5M379.9 830.7h1.5M391.1 854.1h1.5M393.8 867.1h1.5M401.9 851h1.5M371 857.6h1.5M389.6 843.3h1.5M390.3 843.2h1.5M379.9 826.7h1.5M373.9 862.9h1.5M400.2 839.9h1.5M383.7 851.4h1.5M384.2 860.5h1.5M386.3 847.6h1.5M399.6 839.8h1.5M395.2 850.6h1.5M387.5 835.2h1.5M381.6 857.6h1.5M389.7 832.5h1.5M397.9 840.6h1.5M384.2 857.5h1.5M400 838.7h1.5M392.5 838.9h1.5M387.7 843h1.5M395.9 827.9h1.5M397.5 858.9h1.5M376.5 861.1h1.5M385.1 860.9h1.5M382 824.9h1.5M394.1 856.9h1.5M378.3 845h1.5M389.6 860.4h1.5M377.4 855.5h1.5M378 831.8h1.5M399.1 846.2h1.5M386.3 842.3h1.5M374.6 845.8h1.5M391.5 850.8h1.5M395.8 838h1.5M389.1 847.9h1.5M390.3 841.4h1.5M395.7 832.4h1.5M383.2 844.5h1.5M373.9 855.9h1.5M372.8 853.8h1.5M396.8 858.4h1.5M383.7 856.5h1.5M395.2 831.8h1.5M388.4 842.9h1.5M378.8 850.4h1.5M381 838.2h1.5M378.8 844.7h1.5M388.6 836.5h1.5M384.2 837.2h1.5M394 852h1.5M374.4 853.6h1.5M375.4 843.7h1.5M383.8 851.9h1.5M394.9 836.1h1.5M390.8 840.1h1.5M403.1 851.1h1.5M383.5 842.1h1.5M390.2 849.4h1.5M395 841.9h1.5M396.6 857.9h1.5M397.1 837.1h1.5M390.2 834.2h1.5M401.4 848.9h1.5M378.3 854.3h1.5M388.9 852h1.5M400.8 851.7h1.5M382 859h1.5M372.6 857.2h1.5M380.9 838.9h1.5M372.8 850.4h1.5M374.6 853.3h1.5M389 840h1.5M381 857.2h1.5M393.5 853.6h1.5M389.6 843.2h1.5M390.8 832.6h1.5M391 840.4h1.5M387.8 856.2h1.5M392.6 837.6h1.5M374.9 850h1.5M392.6 842h1.5M390.5 825h1.5M394 860.6h1.5M394.2 844.6h1.5M366.1 849.8h1.5M379.4 840.4h1.5M401.1 843.3h1.5M385.8 860.4h1.5M379.2 856.3h1.5M395.4 850.7h1.5M390.5 848.2h1.5M382.2 840.2h1.5M382.8 857.1h1.5M374.5 836.1h1.5M395.5 831.8h1.5M371.6 850.2h1.5M379.7 832h1.5M402 860.7h1.5M390.1 861.4h1.5M390.7 861h1.5M383.9 847h1.5M384 862.4h1.5M379.2 859h1.5M391.9 862.5h1.5M398.2 840.2h1.5M382.8 845.7h1.5M384.2 838.4h1.5M378.6 862h1.5M387.5 863h1.5M380.6 855.8h1.5M389.9 832.4h1.5M401.3 841.5h1.5M390.1 839.8h1.5M380.9 846.3h1.5M398.9 853.9h1.5M392.6 823.4h1.5M383.9 826.5h1.5M396.1 849.1h1.5M389.7 860.3h1.5M405.5 838.3h1.5M382.6 836.2h1.5M375.5 849.5h1.5M380.1 851.8h1.5M390 848h1.5M392 834.1h1.5M379.6 835.7h1.5M399.9 856.8h1.5M382.7 835.1h1.5M394.8 850.7h1.5M395.5 835.9h1.5M380.2 839.4h1.5M394.2 852.8h1.5M382.9 848.3h1.5M397.4 859.4h1.5M380.4 829.3h1.5M382 853.8h1.5M388.8 857.1h1.5M381 838.7h1.5M389.9 843.5h1.5M375.9 846.4h1.5M381.3 865.9h1.5M374.4 847.8h1.5M374.3 837.7h1.5M401.9 843h1.5M374.4 854.7h1.5M396 831.8h1.5M393.8 851.1h1.5M376.6 854.2h1.5M394.4 844.6h1.5M394.5 853.4h1.5M385.3 828.1h1.5M392.6 855.9h1.5M389 823.8h1.5M398.7 834.6h1.5M400.4 846.7h1.5M388.2 857.7h1.5M380.8 852.8h1.5M390.2 851.5h1.5M389.8 848.7h1.5M402 854.2h1.5M397.2 855.5h1.5M384.8 826.2h1.5M404.6 836.4h1.5M403.5 838.4h1.5M395.9 839.3h1.5M380 839h1.5M396.7 835.4h1.5M394.2 827.5h1.5M403 836.8h1.5M389.2 849.7h1.5M378.2 864.9h1.5M392 845.9h1.5M401 865h1.5M395.8 836.8h1.5M401.8 859.8h1.5M391.2 861.7h1.5M377.7 823.6h1.5M395.5 840.5h1.5M390.5 856.3h1.5M401 833.8h1.5M387.6 827.1h1.5M392.2 835.6h1.5M379.7 868.3h1.5M391 849.3h1.5M390.7 858.6h1.5M381.8 863.2h1.5M375 841.4h1.5M406.3 841.7h1.5M406 838.3h1.5M379.2 841.9h1.5M376.2 857.4h1.5M394.5 832h1.5M391.7 834.1h1.5M377.5 837.1h1.5M396.4 837.5h1.5M387.4 827.2h1.5M397.2 856.6h1.5M394.4 852.1h1.5M391 833.7h1.5M401.1 847.6h1.5M397.6 864.3h1.5M375.1 838.9h1.5M398.7 841h1.5M391.1 823.7h1.5M370.3 871.6h1.5M372 868.5h1.5M375.7 882.8h1.5M404.4 831.2h1.5M375 887.9h1.5M402.4 874.3h1.5M371 878.8h1.5M376.1 850.1h1.5M398.1 838.6h1.5M370.1 841.3h1.5M402.7 828.9h1.5M419.1 846.2h1.5M375.6 868.9h1.5M377.6 846.5h1.5M389 855h1.5M402.1 842.1h1.5M378.3 865h1.5M368 865.5h1.5M374 860h1.5M391.2 841h1.5M379.7 826.8h1.5M370 850.5h1.5M386.3 846.7h1.5M376.5 868.5h1.5M394.8 871.2h1.5M387.8 871.7h1.5M360.5 865.8h1.5M378 827.4h1.5M361.5 864.1h1.5M387.3 847.9h1.5M379.3 879.2h1.5M396 833.9h1.5M391.2 843.9h1.5M402.5 826.5h1.5M395.5 854.6h1.5M399.9 855.4h1.5M391.3 862.7h1.5M383.7 840.9h1.5M381.6 839.8h1.5M379.3 830.6h1.5M383.7 814h1.5M395.8 845.6h1.5M370.4 866.9h1.5M413.2 852.8h1.5M364.2 860.1h1.5M403.3 846h1.5M374 861.8h1.5M382.9 836.4h1.5M411.9 837.3h1.5M374.5 875.9h1.5M361.9 867.1h1.5M364.3 854h1.5M382.6 863.7h1.5M405.8 864.7h1.5M398.4 841.9h1.5M389.4 849.3h1.5M370.1 852h1.5M402.4 871.1h1.5M387.2 852.2h1.5M381.7 847.8h1.5M383 859.1h1.5M402.3 855.6h1.5M380.1 861.2h1.5M374.6 866.2h1.5M405.1 851.9h1.5M420.4 853.6h1.5M352 882.8h1.5M368 844.1h1.5M391.9 863.8h1.5M382.7 858.2h1.5M422 827.2h1.5M389.2 841.6h1.5M388.7 849.9h1.5M373.5 857.9h1.5M388.4 870h1.5M386.6 869.8h1.5M446.8 768.6h1.5M453.6 767h1.5M450.3 770.8h1.5M449.2 768.9h1.5M451.6 767.7h1.5M451.4 766.8h1.5M450 767.7h1.5M453.9 767.9h1.5M453.6 770.2h1.5M454.7 769.3h1.5M451.4 770.1h1.5M453.1 769.2h1.5M438.6 838.8h1.5M421 822.5h1.5M425.7 814.9h1.5M429.4 830.4h1.5M433.6 821.8h1.5M420.7 813.4h1.5M426.8 812.6h1.5M432.7 815.5h1.5M438.9 838.2h1.5M422.4 844.2h1.5M431.8 827.1h1.5M419.2 821.6h1.5" stroke="#F8766D"/>
</g>
<ellipse cx="386.5" cy="803.2" rx="20.7" ry="22.1" fill="none" stroke="#1a1a1a" stroke-width="1.5" stroke-dasharray="4.2 2.8"/>
<ellipse cx="391.3" cy="888.3" rx="20.9" ry="22" fill="none" stroke="#2b6a9a" stroke-width="1.5" stroke-dasharray="4.2 2.8"/>
<path d="M321.7 762.2V928H471" fill="none" stroke="#111" stroke-width="1.15"/>
<path d="M317.5 920.7H321.7M328.8 928V932.2M317.5 882.1H321.7M363.2 928V932.2M317.5 843.4H321.7M397.7 928V932.2M317.5 804.8H321.7M432.1 928V932.2M317.5 766.1H321.7M466.6 928V932.2" fill="none" stroke="#111" stroke-width="1.1"/>
<text x="312.9" y="924.2" font-size="8.6" text-anchor="end" fill="#333" font-weight="normal">0</text>
<text x="328.8" y="944.7" font-size="8.6" text-anchor="middle" fill="#333" font-weight="normal">0</text>
<text x="312.9" y="885.6" font-size="8.6" text-anchor="end" fill="#333" font-weight="normal">25</text>
<text x="363.2" y="944.7" font-size="8.6" text-anchor="middle" fill="#333" font-weight="normal">25</text>
<text x="312.9" y="846.9" font-size="8.6" text-anchor="end" fill="#333" font-weight="normal">50</text>
<text x="397.7" y="944.7" font-size="8.6" text-anchor="middle" fill="#333" font-weight="normal">50</text>
<text x="312.9" y="808.2" font-size="8.6" text-anchor="end" fill="#333" font-weight="normal">75</text>
<text x="432.1" y="944.7" font-size="8.6" text-anchor="middle" fill="#333" font-weight="normal">75</text>
<text x="312.9" y="769.6" font-size="8.6" text-anchor="end" fill="#333" font-weight="normal">100</text>
<text x="466.6" y="944.7" font-size="8.6" text-anchor="middle" fill="#333" font-weight="normal">100</text>
<text transform="translate(396.5 961.8) scale(0.56 1)" font-size="11.9" font-weight="bold" text-anchor="middle" fill="#1a1a1a" textLength="147.3" lengthAdjust="spacing">SHMHARI006PRE VAF</text>
<text transform="translate(289.9 845.1) rotate(-90) scale(0.56 1)" font-size="11.9" font-weight="bold" text-anchor="middle" fill="#1a1a1a" textLength="156.6" lengthAdjust="spacing">SHMHARI006POST VAF</text>
<text x="473" y="836" font-size="9.2" text-anchor="start" fill="#222" font-weight="normal">GOI</text>
<rect x="473.7" y="842.8" width="1.9" height="1.9" fill="#b36c67"/>
<text x="480.2" y="846.6" font-size="7.8" text-anchor="start" fill="#222" font-weight="normal">FALSE</text>
<rect x="473.7" y="851" width="1.9" height="1.9" fill="#2b9497"/>
<text x="480.2" y="854.8" font-size="7.8" text-anchor="start" fill="#222" font-weight="normal">TRUE</text>
<text x="145.4" y="20" font-size="12.3" text-anchor="middle" fill="#222">SHM5</text>
<text x="391" y="20" font-size="12.3" text-anchor="middle" fill="#222">SHM6</text>
<text transform="translate(19.8 139.4) rotate(-90)" font-size="11.6" text-anchor="middle" fill="#222" textLength="46.8" lengthAdjust="spacingAndGlyphs">Pre: Auto</text>
<text transform="translate(19.8 379.9) rotate(-90)" font-size="11.6" text-anchor="middle" fill="#222" textLength="53.1" lengthAdjust="spacingAndGlyphs">Auto: Post</text>
<text transform="translate(19.8 620.1) rotate(-90)" font-size="11.6" text-anchor="middle" fill="#222" textLength="46.2" lengthAdjust="spacingAndGlyphs">Pre: Post</text>
<text transform="translate(19.8 860.8) rotate(-90)" font-size="12.1" text-anchor="middle" fill="#1fa8e0" textLength="29.3" lengthAdjust="spacingAndGlyphs">CHIP</text>
</g>
</svg>
</body></html>
